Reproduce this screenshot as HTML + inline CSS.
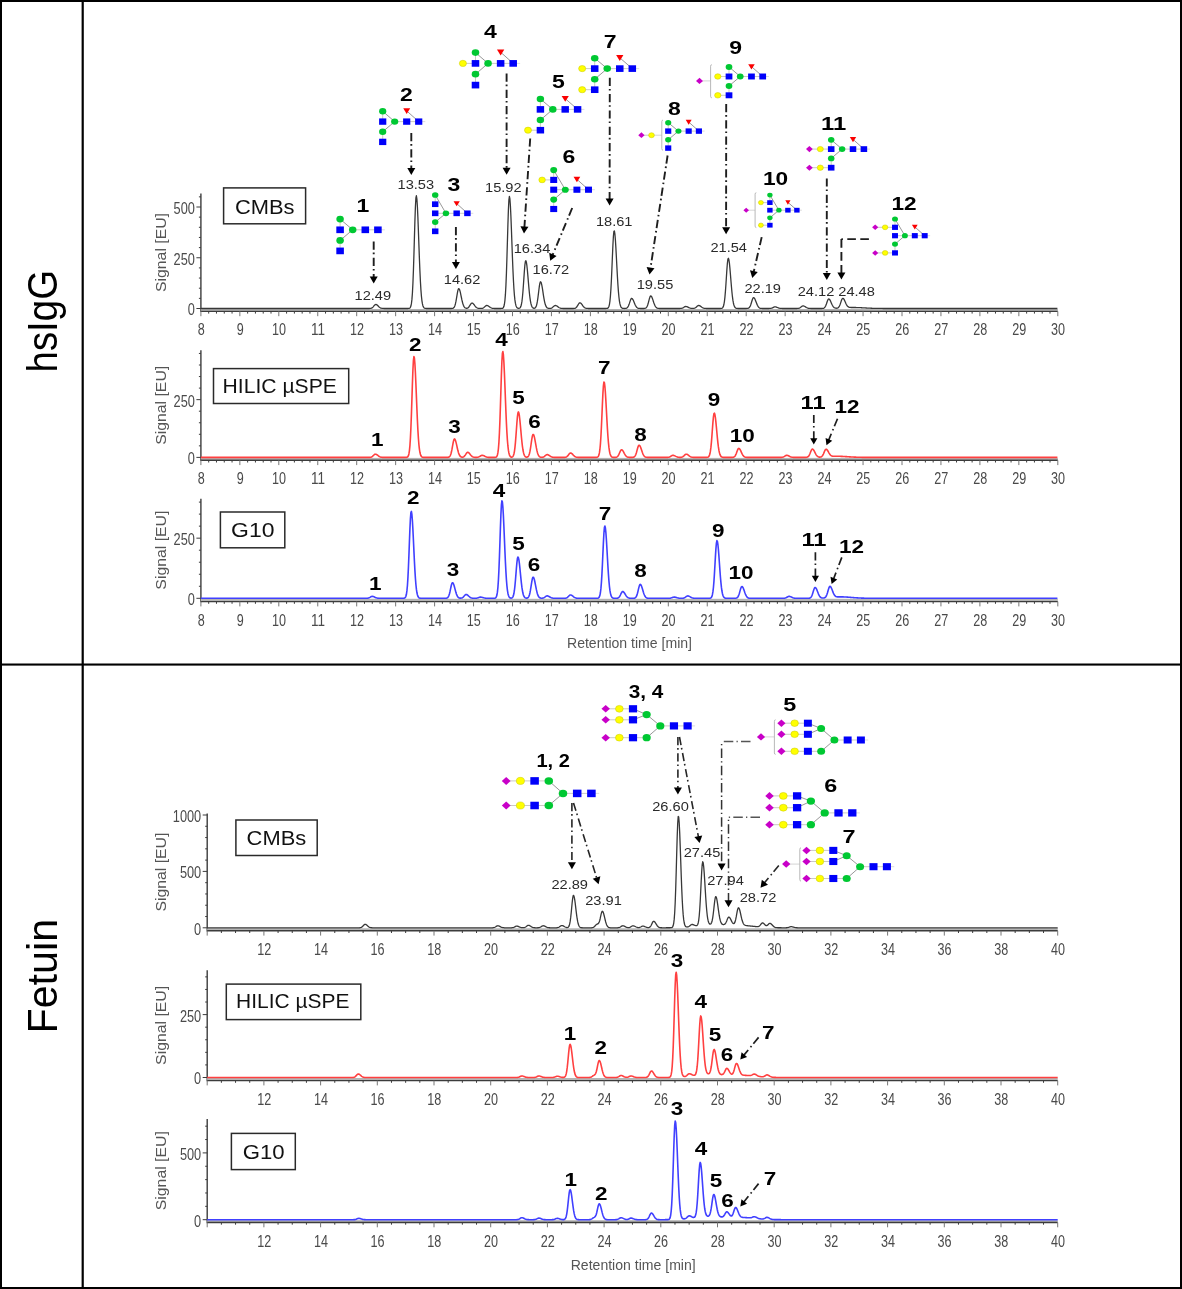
<!DOCTYPE html>
<html><head><meta charset="utf-8"><title>Chromatograms</title>
<style>html,body{margin:0;padding:0;background:#fff;}body{width:1182px;height:1289px;overflow:hidden;font-family:"Liberation Sans",sans-serif;}svg{display:block;filter:blur(0.35px);}</style>
</head><body>
<svg width="1182" height="1289" viewBox="0 0 1182 1289" font-family='"Liberation Sans", sans-serif'>
<rect x="0" y="0" width="1182" height="1289" fill="#fff"/>
<line x1="200.9" y1="193.6" x2="200.9" y2="312.1" stroke="#3c3c3c" stroke-width="1.4"/>
<line x1="196.4" y1="308.5" x2="200.9" y2="308.5" stroke="#3c3c3c" stroke-width="1"/>
<line x1="198.9" y1="298.35" x2="200.9" y2="298.35" stroke="#3c3c3c" stroke-width="1"/>
<line x1="198.9" y1="288.2" x2="200.9" y2="288.2" stroke="#3c3c3c" stroke-width="1"/>
<line x1="198.9" y1="278.05" x2="200.9" y2="278.05" stroke="#3c3c3c" stroke-width="1"/>
<line x1="198.9" y1="267.9" x2="200.9" y2="267.9" stroke="#3c3c3c" stroke-width="1"/>
<line x1="196.4" y1="257.75" x2="200.9" y2="257.75" stroke="#3c3c3c" stroke-width="1"/>
<line x1="198.9" y1="247.6" x2="200.9" y2="247.6" stroke="#3c3c3c" stroke-width="1"/>
<line x1="198.9" y1="237.45" x2="200.9" y2="237.45" stroke="#3c3c3c" stroke-width="1"/>
<line x1="198.9" y1="227.3" x2="200.9" y2="227.3" stroke="#3c3c3c" stroke-width="1"/>
<line x1="198.9" y1="217.15" x2="200.9" y2="217.15" stroke="#3c3c3c" stroke-width="1"/>
<line x1="196.4" y1="207" x2="200.9" y2="207" stroke="#3c3c3c" stroke-width="1"/>
<line x1="198.9" y1="196.85" x2="200.9" y2="196.85" stroke="#3c3c3c" stroke-width="1"/>
<text x="194.9" y="315.4" font-size="16" text-anchor="end" font-weight="normal" fill="#4a4a4a" textLength="7.1" lengthAdjust="spacingAndGlyphs">0</text>
<text x="194.9" y="264.65" font-size="16" text-anchor="end" font-weight="normal" fill="#4a4a4a" textLength="21.3" lengthAdjust="spacingAndGlyphs">250</text>
<text x="194.9" y="213.9" font-size="16" text-anchor="end" font-weight="normal" fill="#4a4a4a" textLength="21.3" lengthAdjust="spacingAndGlyphs">500</text>
<rect x="200.9" y="309" width="856.9" height="1.9" fill="#b4b4b4"/>
<line x1="200.9" y1="311.4" x2="1057.8" y2="311.4" stroke="#3c3c3c" stroke-width="1.4"/>
<line x1="200.9" y1="311.4" x2="200.9" y2="316.2" stroke="#777" stroke-width="1"/>
<text x="201.2" y="335.4" font-size="16" text-anchor="middle" font-weight="normal" fill="#4a4a4a" textLength="7" lengthAdjust="spacingAndGlyphs">8</text>
<line x1="208.69" y1="311.4" x2="208.69" y2="313.6" stroke="#3c3c3c" stroke-width="1"/>
<line x1="216.48" y1="311.4" x2="216.48" y2="313.6" stroke="#3c3c3c" stroke-width="1"/>
<line x1="224.27" y1="311.4" x2="224.27" y2="313.6" stroke="#3c3c3c" stroke-width="1"/>
<line x1="232.06" y1="311.4" x2="232.06" y2="313.6" stroke="#3c3c3c" stroke-width="1"/>
<line x1="239.85" y1="311.4" x2="239.85" y2="316.2" stroke="#777" stroke-width="1"/>
<text x="240.15" y="335.4" font-size="16" text-anchor="middle" font-weight="normal" fill="#4a4a4a" textLength="7" lengthAdjust="spacingAndGlyphs">9</text>
<line x1="247.64" y1="311.4" x2="247.64" y2="313.6" stroke="#3c3c3c" stroke-width="1"/>
<line x1="255.43" y1="311.4" x2="255.43" y2="313.6" stroke="#3c3c3c" stroke-width="1"/>
<line x1="263.22" y1="311.4" x2="263.22" y2="313.6" stroke="#3c3c3c" stroke-width="1"/>
<line x1="271.01" y1="311.4" x2="271.01" y2="313.6" stroke="#3c3c3c" stroke-width="1"/>
<line x1="278.8" y1="311.4" x2="278.8" y2="316.2" stroke="#777" stroke-width="1"/>
<text x="279.1" y="335.4" font-size="16" text-anchor="middle" font-weight="normal" fill="#4a4a4a" textLength="14" lengthAdjust="spacingAndGlyphs">10</text>
<line x1="286.59" y1="311.4" x2="286.59" y2="313.6" stroke="#3c3c3c" stroke-width="1"/>
<line x1="294.38" y1="311.4" x2="294.38" y2="313.6" stroke="#3c3c3c" stroke-width="1"/>
<line x1="302.17" y1="311.4" x2="302.17" y2="313.6" stroke="#3c3c3c" stroke-width="1"/>
<line x1="309.96" y1="311.4" x2="309.96" y2="313.6" stroke="#3c3c3c" stroke-width="1"/>
<line x1="317.75" y1="311.4" x2="317.75" y2="316.2" stroke="#777" stroke-width="1"/>
<text x="318.05" y="335.4" font-size="16" text-anchor="middle" font-weight="normal" fill="#4a4a4a" textLength="14" lengthAdjust="spacingAndGlyphs">11</text>
<line x1="325.54" y1="311.4" x2="325.54" y2="313.6" stroke="#3c3c3c" stroke-width="1"/>
<line x1="333.33" y1="311.4" x2="333.33" y2="313.6" stroke="#3c3c3c" stroke-width="1"/>
<line x1="341.12" y1="311.4" x2="341.12" y2="313.6" stroke="#3c3c3c" stroke-width="1"/>
<line x1="348.91" y1="311.4" x2="348.91" y2="313.6" stroke="#3c3c3c" stroke-width="1"/>
<line x1="356.7" y1="311.4" x2="356.7" y2="316.2" stroke="#777" stroke-width="1"/>
<text x="357" y="335.4" font-size="16" text-anchor="middle" font-weight="normal" fill="#4a4a4a" textLength="14" lengthAdjust="spacingAndGlyphs">12</text>
<line x1="364.49" y1="311.4" x2="364.49" y2="313.6" stroke="#3c3c3c" stroke-width="1"/>
<line x1="372.28" y1="311.4" x2="372.28" y2="313.6" stroke="#3c3c3c" stroke-width="1"/>
<line x1="380.07" y1="311.4" x2="380.07" y2="313.6" stroke="#3c3c3c" stroke-width="1"/>
<line x1="387.86" y1="311.4" x2="387.86" y2="313.6" stroke="#3c3c3c" stroke-width="1"/>
<line x1="395.65" y1="311.4" x2="395.65" y2="316.2" stroke="#777" stroke-width="1"/>
<text x="395.95" y="335.4" font-size="16" text-anchor="middle" font-weight="normal" fill="#4a4a4a" textLength="14" lengthAdjust="spacingAndGlyphs">13</text>
<line x1="403.44" y1="311.4" x2="403.44" y2="313.6" stroke="#3c3c3c" stroke-width="1"/>
<line x1="411.23" y1="311.4" x2="411.23" y2="313.6" stroke="#3c3c3c" stroke-width="1"/>
<line x1="419.02" y1="311.4" x2="419.02" y2="313.6" stroke="#3c3c3c" stroke-width="1"/>
<line x1="426.81" y1="311.4" x2="426.81" y2="313.6" stroke="#3c3c3c" stroke-width="1"/>
<line x1="434.6" y1="311.4" x2="434.6" y2="316.2" stroke="#777" stroke-width="1"/>
<text x="434.9" y="335.4" font-size="16" text-anchor="middle" font-weight="normal" fill="#4a4a4a" textLength="14" lengthAdjust="spacingAndGlyphs">14</text>
<line x1="442.39" y1="311.4" x2="442.39" y2="313.6" stroke="#3c3c3c" stroke-width="1"/>
<line x1="450.18" y1="311.4" x2="450.18" y2="313.6" stroke="#3c3c3c" stroke-width="1"/>
<line x1="457.97" y1="311.4" x2="457.97" y2="313.6" stroke="#3c3c3c" stroke-width="1"/>
<line x1="465.76" y1="311.4" x2="465.76" y2="313.6" stroke="#3c3c3c" stroke-width="1"/>
<line x1="473.55" y1="311.4" x2="473.55" y2="316.2" stroke="#777" stroke-width="1"/>
<text x="473.85" y="335.4" font-size="16" text-anchor="middle" font-weight="normal" fill="#4a4a4a" textLength="14" lengthAdjust="spacingAndGlyphs">15</text>
<line x1="481.34" y1="311.4" x2="481.34" y2="313.6" stroke="#3c3c3c" stroke-width="1"/>
<line x1="489.13" y1="311.4" x2="489.13" y2="313.6" stroke="#3c3c3c" stroke-width="1"/>
<line x1="496.92" y1="311.4" x2="496.92" y2="313.6" stroke="#3c3c3c" stroke-width="1"/>
<line x1="504.71" y1="311.4" x2="504.71" y2="313.6" stroke="#3c3c3c" stroke-width="1"/>
<line x1="512.5" y1="311.4" x2="512.5" y2="316.2" stroke="#777" stroke-width="1"/>
<text x="512.8" y="335.4" font-size="16" text-anchor="middle" font-weight="normal" fill="#4a4a4a" textLength="14" lengthAdjust="spacingAndGlyphs">16</text>
<line x1="520.29" y1="311.4" x2="520.29" y2="313.6" stroke="#3c3c3c" stroke-width="1"/>
<line x1="528.08" y1="311.4" x2="528.08" y2="313.6" stroke="#3c3c3c" stroke-width="1"/>
<line x1="535.87" y1="311.4" x2="535.87" y2="313.6" stroke="#3c3c3c" stroke-width="1"/>
<line x1="543.66" y1="311.4" x2="543.66" y2="313.6" stroke="#3c3c3c" stroke-width="1"/>
<line x1="551.45" y1="311.4" x2="551.45" y2="316.2" stroke="#777" stroke-width="1"/>
<text x="551.75" y="335.4" font-size="16" text-anchor="middle" font-weight="normal" fill="#4a4a4a" textLength="14" lengthAdjust="spacingAndGlyphs">17</text>
<line x1="559.24" y1="311.4" x2="559.24" y2="313.6" stroke="#3c3c3c" stroke-width="1"/>
<line x1="567.03" y1="311.4" x2="567.03" y2="313.6" stroke="#3c3c3c" stroke-width="1"/>
<line x1="574.82" y1="311.4" x2="574.82" y2="313.6" stroke="#3c3c3c" stroke-width="1"/>
<line x1="582.61" y1="311.4" x2="582.61" y2="313.6" stroke="#3c3c3c" stroke-width="1"/>
<line x1="590.4" y1="311.4" x2="590.4" y2="316.2" stroke="#777" stroke-width="1"/>
<text x="590.7" y="335.4" font-size="16" text-anchor="middle" font-weight="normal" fill="#4a4a4a" textLength="14" lengthAdjust="spacingAndGlyphs">18</text>
<line x1="598.19" y1="311.4" x2="598.19" y2="313.6" stroke="#3c3c3c" stroke-width="1"/>
<line x1="605.98" y1="311.4" x2="605.98" y2="313.6" stroke="#3c3c3c" stroke-width="1"/>
<line x1="613.77" y1="311.4" x2="613.77" y2="313.6" stroke="#3c3c3c" stroke-width="1"/>
<line x1="621.56" y1="311.4" x2="621.56" y2="313.6" stroke="#3c3c3c" stroke-width="1"/>
<line x1="629.35" y1="311.4" x2="629.35" y2="316.2" stroke="#777" stroke-width="1"/>
<text x="629.65" y="335.4" font-size="16" text-anchor="middle" font-weight="normal" fill="#4a4a4a" textLength="14" lengthAdjust="spacingAndGlyphs">19</text>
<line x1="637.14" y1="311.4" x2="637.14" y2="313.6" stroke="#3c3c3c" stroke-width="1"/>
<line x1="644.93" y1="311.4" x2="644.93" y2="313.6" stroke="#3c3c3c" stroke-width="1"/>
<line x1="652.72" y1="311.4" x2="652.72" y2="313.6" stroke="#3c3c3c" stroke-width="1"/>
<line x1="660.51" y1="311.4" x2="660.51" y2="313.6" stroke="#3c3c3c" stroke-width="1"/>
<line x1="668.3" y1="311.4" x2="668.3" y2="316.2" stroke="#777" stroke-width="1"/>
<text x="668.6" y="335.4" font-size="16" text-anchor="middle" font-weight="normal" fill="#4a4a4a" textLength="14" lengthAdjust="spacingAndGlyphs">20</text>
<line x1="676.09" y1="311.4" x2="676.09" y2="313.6" stroke="#3c3c3c" stroke-width="1"/>
<line x1="683.88" y1="311.4" x2="683.88" y2="313.6" stroke="#3c3c3c" stroke-width="1"/>
<line x1="691.67" y1="311.4" x2="691.67" y2="313.6" stroke="#3c3c3c" stroke-width="1"/>
<line x1="699.46" y1="311.4" x2="699.46" y2="313.6" stroke="#3c3c3c" stroke-width="1"/>
<line x1="707.25" y1="311.4" x2="707.25" y2="316.2" stroke="#777" stroke-width="1"/>
<text x="707.55" y="335.4" font-size="16" text-anchor="middle" font-weight="normal" fill="#4a4a4a" textLength="14" lengthAdjust="spacingAndGlyphs">21</text>
<line x1="715.04" y1="311.4" x2="715.04" y2="313.6" stroke="#3c3c3c" stroke-width="1"/>
<line x1="722.83" y1="311.4" x2="722.83" y2="313.6" stroke="#3c3c3c" stroke-width="1"/>
<line x1="730.62" y1="311.4" x2="730.62" y2="313.6" stroke="#3c3c3c" stroke-width="1"/>
<line x1="738.41" y1="311.4" x2="738.41" y2="313.6" stroke="#3c3c3c" stroke-width="1"/>
<line x1="746.2" y1="311.4" x2="746.2" y2="316.2" stroke="#777" stroke-width="1"/>
<text x="746.5" y="335.4" font-size="16" text-anchor="middle" font-weight="normal" fill="#4a4a4a" textLength="14" lengthAdjust="spacingAndGlyphs">22</text>
<line x1="753.99" y1="311.4" x2="753.99" y2="313.6" stroke="#3c3c3c" stroke-width="1"/>
<line x1="761.78" y1="311.4" x2="761.78" y2="313.6" stroke="#3c3c3c" stroke-width="1"/>
<line x1="769.57" y1="311.4" x2="769.57" y2="313.6" stroke="#3c3c3c" stroke-width="1"/>
<line x1="777.36" y1="311.4" x2="777.36" y2="313.6" stroke="#3c3c3c" stroke-width="1"/>
<line x1="785.15" y1="311.4" x2="785.15" y2="316.2" stroke="#777" stroke-width="1"/>
<text x="785.45" y="335.4" font-size="16" text-anchor="middle" font-weight="normal" fill="#4a4a4a" textLength="14" lengthAdjust="spacingAndGlyphs">23</text>
<line x1="792.94" y1="311.4" x2="792.94" y2="313.6" stroke="#3c3c3c" stroke-width="1"/>
<line x1="800.73" y1="311.4" x2="800.73" y2="313.6" stroke="#3c3c3c" stroke-width="1"/>
<line x1="808.52" y1="311.4" x2="808.52" y2="313.6" stroke="#3c3c3c" stroke-width="1"/>
<line x1="816.31" y1="311.4" x2="816.31" y2="313.6" stroke="#3c3c3c" stroke-width="1"/>
<line x1="824.1" y1="311.4" x2="824.1" y2="316.2" stroke="#777" stroke-width="1"/>
<text x="824.4" y="335.4" font-size="16" text-anchor="middle" font-weight="normal" fill="#4a4a4a" textLength="14" lengthAdjust="spacingAndGlyphs">24</text>
<line x1="831.89" y1="311.4" x2="831.89" y2="313.6" stroke="#3c3c3c" stroke-width="1"/>
<line x1="839.68" y1="311.4" x2="839.68" y2="313.6" stroke="#3c3c3c" stroke-width="1"/>
<line x1="847.47" y1="311.4" x2="847.47" y2="313.6" stroke="#3c3c3c" stroke-width="1"/>
<line x1="855.26" y1="311.4" x2="855.26" y2="313.6" stroke="#3c3c3c" stroke-width="1"/>
<line x1="863.05" y1="311.4" x2="863.05" y2="316.2" stroke="#777" stroke-width="1"/>
<text x="863.35" y="335.4" font-size="16" text-anchor="middle" font-weight="normal" fill="#4a4a4a" textLength="14" lengthAdjust="spacingAndGlyphs">25</text>
<line x1="870.84" y1="311.4" x2="870.84" y2="313.6" stroke="#3c3c3c" stroke-width="1"/>
<line x1="878.63" y1="311.4" x2="878.63" y2="313.6" stroke="#3c3c3c" stroke-width="1"/>
<line x1="886.42" y1="311.4" x2="886.42" y2="313.6" stroke="#3c3c3c" stroke-width="1"/>
<line x1="894.21" y1="311.4" x2="894.21" y2="313.6" stroke="#3c3c3c" stroke-width="1"/>
<line x1="902" y1="311.4" x2="902" y2="316.2" stroke="#777" stroke-width="1"/>
<text x="902.3" y="335.4" font-size="16" text-anchor="middle" font-weight="normal" fill="#4a4a4a" textLength="14" lengthAdjust="spacingAndGlyphs">26</text>
<line x1="909.79" y1="311.4" x2="909.79" y2="313.6" stroke="#3c3c3c" stroke-width="1"/>
<line x1="917.58" y1="311.4" x2="917.58" y2="313.6" stroke="#3c3c3c" stroke-width="1"/>
<line x1="925.37" y1="311.4" x2="925.37" y2="313.6" stroke="#3c3c3c" stroke-width="1"/>
<line x1="933.16" y1="311.4" x2="933.16" y2="313.6" stroke="#3c3c3c" stroke-width="1"/>
<line x1="940.95" y1="311.4" x2="940.95" y2="316.2" stroke="#777" stroke-width="1"/>
<text x="941.25" y="335.4" font-size="16" text-anchor="middle" font-weight="normal" fill="#4a4a4a" textLength="14" lengthAdjust="spacingAndGlyphs">27</text>
<line x1="948.74" y1="311.4" x2="948.74" y2="313.6" stroke="#3c3c3c" stroke-width="1"/>
<line x1="956.53" y1="311.4" x2="956.53" y2="313.6" stroke="#3c3c3c" stroke-width="1"/>
<line x1="964.32" y1="311.4" x2="964.32" y2="313.6" stroke="#3c3c3c" stroke-width="1"/>
<line x1="972.11" y1="311.4" x2="972.11" y2="313.6" stroke="#3c3c3c" stroke-width="1"/>
<line x1="979.9" y1="311.4" x2="979.9" y2="316.2" stroke="#777" stroke-width="1"/>
<text x="980.2" y="335.4" font-size="16" text-anchor="middle" font-weight="normal" fill="#4a4a4a" textLength="14" lengthAdjust="spacingAndGlyphs">28</text>
<line x1="987.69" y1="311.4" x2="987.69" y2="313.6" stroke="#3c3c3c" stroke-width="1"/>
<line x1="995.48" y1="311.4" x2="995.48" y2="313.6" stroke="#3c3c3c" stroke-width="1"/>
<line x1="1003.27" y1="311.4" x2="1003.27" y2="313.6" stroke="#3c3c3c" stroke-width="1"/>
<line x1="1011.06" y1="311.4" x2="1011.06" y2="313.6" stroke="#3c3c3c" stroke-width="1"/>
<line x1="1018.85" y1="311.4" x2="1018.85" y2="316.2" stroke="#777" stroke-width="1"/>
<text x="1019.15" y="335.4" font-size="16" text-anchor="middle" font-weight="normal" fill="#4a4a4a" textLength="14" lengthAdjust="spacingAndGlyphs">29</text>
<line x1="1026.64" y1="311.4" x2="1026.64" y2="313.6" stroke="#3c3c3c" stroke-width="1"/>
<line x1="1034.43" y1="311.4" x2="1034.43" y2="313.6" stroke="#3c3c3c" stroke-width="1"/>
<line x1="1042.22" y1="311.4" x2="1042.22" y2="313.6" stroke="#3c3c3c" stroke-width="1"/>
<line x1="1050.01" y1="311.4" x2="1050.01" y2="313.6" stroke="#3c3c3c" stroke-width="1"/>
<line x1="1057.8" y1="311.4" x2="1057.8" y2="316.2" stroke="#777" stroke-width="1"/>
<text x="1058.1" y="335.4" font-size="16" text-anchor="middle" font-weight="normal" fill="#4a4a4a" textLength="14" lengthAdjust="spacingAndGlyphs">30</text>
<text transform="translate(166.2,252.5) rotate(-90)" font-size="15.5" text-anchor="middle" fill="#555" textLength="79" lengthAdjust="spacingAndGlyphs">Signal [EU]</text>
<polyline fill="none" stroke="#383838" stroke-width="1.3" stroke-linejoin="round" points="200.9,308.5 201.4,308.5 201.9,308.5 202.4,308.5 202.9,308.5 203.4,308.5 203.9,308.5 204.4,308.5 204.9,308.5 205.4,308.5 205.9,308.5 206.4,308.5 206.9,308.5 207.4,308.5 207.9,308.5 208.4,308.5 208.9,308.5 209.4,308.5 209.9,308.5 210.4,308.5 210.9,308.5 211.4,308.5 211.9,308.5 212.4,308.5 212.9,308.5 213.4,308.5 213.9,308.5 214.4,308.5 214.9,308.5 215.4,308.5 215.9,308.5 216.4,308.5 216.9,308.5 217.4,308.5 217.9,308.5 218.4,308.5 218.9,308.5 219.4,308.5 219.9,308.5 220.4,308.5 220.9,308.5 221.4,308.5 221.9,308.5 222.4,308.5 222.9,308.5 223.4,308.5 223.9,308.5 224.4,308.5 224.9,308.5 225.4,308.5 225.9,308.5 226.4,308.5 226.9,308.5 227.4,308.5 227.9,308.5 228.4,308.5 228.9,308.5 229.4,308.5 229.9,308.5 230.4,308.5 230.9,308.5 231.4,308.5 231.9,308.5 232.4,308.5 232.9,308.5 233.4,308.5 233.9,308.5 234.4,308.5 234.9,308.5 235.4,308.5 235.9,308.5 236.4,308.5 236.9,308.5 237.4,308.5 237.9,308.5 238.4,308.5 238.9,308.5 239.4,308.5 239.9,308.5 240.4,308.5 240.9,308.5 241.4,308.5 241.9,308.5 242.4,308.5 242.9,308.5 243.4,308.5 243.9,308.5 244.4,308.5 244.9,308.5 245.4,308.5 245.9,308.5 246.4,308.5 246.9,308.5 247.4,308.5 247.9,308.5 248.4,308.5 248.9,308.5 249.4,308.5 249.9,308.5 250.4,308.5 250.9,308.5 251.4,308.5 251.9,308.5 252.4,308.5 252.9,308.5 253.4,308.5 253.9,308.5 254.4,308.5 254.9,308.5 255.4,308.5 255.9,308.5 256.4,308.5 256.9,308.5 257.4,308.5 257.9,308.5 258.4,308.5 258.9,308.5 259.4,308.5 259.9,308.5 260.4,308.5 260.9,308.5 261.4,308.5 261.9,308.5 262.4,308.5 262.9,308.5 263.4,308.5 263.9,308.5 264.4,308.5 264.9,308.5 265.4,308.5 265.9,308.5 266.4,308.5 266.9,308.5 267.4,308.5 267.9,308.5 268.4,308.5 268.9,308.5 269.4,308.5 269.9,308.5 270.4,308.5 270.9,308.5 271.4,308.5 271.9,308.5 272.4,308.5 272.9,308.5 273.4,308.5 273.9,308.5 274.4,308.5 274.9,308.5 275.4,308.5 275.9,308.5 276.4,308.5 276.9,308.5 277.4,308.5 277.9,308.5 278.4,308.5 278.9,308.5 279.4,308.5 279.9,308.5 280.4,308.5 280.9,308.5 281.4,308.5 281.9,308.5 282.4,308.5 282.9,308.5 283.4,308.5 283.9,308.5 284.4,308.5 284.9,308.5 285.4,308.5 285.9,308.5 286.4,308.5 286.9,308.5 287.4,308.5 287.9,308.5 288.4,308.5 288.9,308.5 289.4,308.5 289.9,308.5 290.4,308.5 290.9,308.5 291.4,308.5 291.9,308.5 292.4,308.5 292.9,308.5 293.4,308.5 293.9,308.5 294.4,308.5 294.9,308.5 295.4,308.5 295.9,308.5 296.4,308.5 296.9,308.5 297.4,308.5 297.9,308.5 298.4,308.5 298.9,308.5 299.4,308.5 299.9,308.5 300.4,308.5 300.9,308.5 301.4,308.5 301.9,308.5 302.4,308.5 302.9,308.5 303.4,308.5 303.9,308.5 304.4,308.5 304.9,308.5 305.4,308.5 305.9,308.5 306.4,308.5 306.9,308.5 307.4,308.5 307.9,308.5 308.4,308.5 308.9,308.5 309.4,308.5 309.9,308.5 310.4,308.5 310.9,308.5 311.4,308.5 311.9,308.5 312.4,308.5 312.9,308.5 313.4,308.5 313.9,308.5 314.4,308.5 314.9,308.5 315.4,308.5 315.9,308.5 316.4,308.5 316.9,308.5 317.4,308.5 317.9,308.5 318.4,308.5 318.9,308.5 319.4,308.5 319.9,308.5 320.4,308.5 320.9,308.5 321.4,308.5 321.9,308.5 322.4,308.5 322.9,308.5 323.4,308.5 323.9,308.5 324.4,308.5 324.9,308.5 325.4,308.5 325.9,308.5 326.4,308.5 326.9,308.5 327.4,308.5 327.9,308.5 328.4,308.5 328.9,308.5 329.4,308.5 329.9,308.5 330.4,308.5 330.9,308.5 331.4,308.5 331.9,308.5 332.4,308.5 332.9,308.5 333.4,308.5 333.9,308.5 334.4,308.5 334.9,308.5 335.4,308.5 335.9,308.5 336.4,308.5 336.9,308.5 337.4,308.5 337.9,308.5 338.4,308.5 338.9,308.5 339.4,308.5 339.9,308.5 340.4,308.5 340.9,308.5 341.4,308.5 341.9,308.5 342.4,308.5 342.9,308.5 343.4,308.5 343.9,308.5 344.4,308.5 344.9,308.5 345.4,308.5 345.9,308.5 346.4,308.5 346.9,308.5 347.4,308.5 347.9,308.5 348.4,308.5 348.9,308.5 349.4,308.5 349.9,308.5 350.4,308.5 350.9,308.5 351.4,308.5 351.9,308.5 352.4,308.5 352.9,308.5 353.4,308.5 353.9,308.5 354.4,308.5 354.9,308.5 355.4,308.5 355.9,308.5 356.4,308.5 356.9,308.5 357.4,308.5 357.9,308.5 358.4,308.5 358.9,308.5 359.4,308.5 359.9,308.5 360.4,308.5 360.9,308.5 361.4,308.5 361.9,308.5 362.4,308.5 362.9,308.5 363.4,308.5 363.9,308.5 364.4,308.5 364.9,308.5 365.4,308.5 365.9,308.5 366.4,308.5 366.9,308.5 367.4,308.5 367.9,308.5 368.4,308.5 368.9,308.49 369.4,308.48 369.9,308.46 370.4,308.41 370.9,308.33 371.4,308.18 371.9,307.95 372.4,307.6 372.9,307.15 373.4,306.58 373.9,305.96 374.4,305.35 374.9,304.84 375.4,304.52 375.9,304.44 376.4,304.57 376.9,304.84 377.4,305.24 377.9,305.72 378.4,306.22 378.9,306.71 379.4,307.15 379.9,307.53 380.4,307.83 380.9,308.05 381.4,308.22 381.9,308.33 382.4,308.4 382.9,308.44 383.4,308.47 383.9,308.48 384.4,308.49 384.9,308.5 385.4,308.5 385.9,308.5 386.4,308.5 386.9,308.5 387.4,308.5 387.9,308.5 388.4,308.5 388.9,308.5 389.4,308.5 389.9,308.5 390.4,308.5 390.9,308.5 391.4,308.5 391.9,308.5 392.4,308.5 392.9,308.5 393.4,308.5 393.9,308.5 394.4,308.5 394.9,308.5 395.4,308.5 395.9,308.5 396.4,308.5 396.9,308.5 397.4,308.5 397.9,308.5 398.4,308.5 398.9,308.5 399.4,308.5 399.9,308.5 400.4,308.5 400.9,308.5 401.4,308.5 401.9,308.5 402.4,308.5 402.9,308.5 403.4,308.5 403.9,308.5 404.4,308.5 404.9,308.5 405.4,308.5 405.9,308.5 406.4,308.5 406.9,308.5 407.4,308.5 407.9,308.49 408.4,308.47 408.9,308.42 409.4,308.29 409.9,307.98 410.4,307.34 410.9,306.06 411.4,303.7 411.9,299.64 412.4,293.2 412.9,283.77 413.4,271.07 413.9,255.46 414.4,238.14 414.9,221.12 415.4,206.91 415.9,197.91 416.4,195.74 416.9,199.08 417.4,206.71 417.9,217.72 418.4,230.88 418.9,244.87 419.4,258.5 419.9,270.83 420.4,281.29 420.9,289.66 421.4,296 421.9,300.54 422.4,303.64 422.9,305.66 423.4,306.91 423.9,307.64 424.4,308.06 424.9,308.28 425.4,308.4 425.9,308.45 426.4,308.48 426.9,308.49 427.4,308.5 427.9,308.5 428.4,308.5 428.9,308.5 429.4,308.5 429.9,308.5 430.4,308.5 430.9,308.5 431.4,308.5 431.9,308.5 432.4,308.5 432.9,308.5 433.4,308.5 433.9,308.5 434.4,308.5 434.9,308.5 435.4,308.5 435.9,308.5 436.4,308.5 436.9,308.5 437.4,308.5 437.9,308.5 438.4,308.5 438.9,308.5 439.4,308.5 439.9,308.5 440.4,308.5 440.9,308.5 441.4,308.5 441.9,308.5 442.4,308.5 442.9,308.5 443.4,308.5 443.9,308.5 444.4,308.5 444.9,308.5 445.4,308.5 445.9,308.5 446.4,308.5 446.9,308.5 447.4,308.5 447.9,308.5 448.4,308.5 448.9,308.5 449.4,308.5 449.9,308.5 450.4,308.5 450.9,308.49 451.4,308.48 451.9,308.46 452.4,308.4 452.9,308.28 453.4,308.04 453.9,307.6 454.4,306.86 454.9,305.68 455.4,303.96 455.9,301.68 456.4,298.89 456.9,295.82 457.4,292.85 457.9,290.41 458.4,288.92 458.9,288.64 459.4,289.3 459.9,290.71 460.4,292.69 460.9,295.04 461.4,297.5 461.9,299.89 462.4,302.04 462.9,303.85 463.4,305.29 463.9,306.38 464.4,307.15 464.9,307.68 465.4,308.01 465.9,308.19 466.4,308.27 466.9,308.25 467.4,308.12 467.9,307.88 468.4,307.49 468.9,306.94 469.4,306.24 469.9,305.42 470.4,304.58 470.9,303.82 471.4,303.27 471.9,303.03 472.4,303.1 472.9,303.39 473.4,303.86 473.9,304.47 474.4,305.14 474.9,305.81 475.4,306.44 475.9,306.99 476.4,307.44 476.9,307.78 477.4,308.04 477.9,308.21 478.4,308.33 478.9,308.4 479.4,308.44 479.9,308.47 480.4,308.47 480.9,308.46 481.4,308.43 481.9,308.37 482.4,308.26 482.9,308.09 483.4,307.83 483.9,307.49 484.4,307.07 484.9,306.6 485.4,306.14 485.9,305.76 486.4,305.52 486.9,305.46 487.4,305.55 487.9,305.75 488.4,306.05 488.9,306.41 489.4,306.78 489.9,307.15 490.4,307.48 490.9,307.77 491.4,307.99 491.9,308.16 492.4,308.29 492.9,308.37 493.4,308.42 493.9,308.46 494.4,308.48 494.9,308.49 495.4,308.49 495.9,308.5 496.4,308.5 496.9,308.5 497.4,308.5 497.9,308.5 498.4,308.5 498.9,308.5 499.4,308.5 499.9,308.5 500.4,308.5 500.9,308.49 501.4,308.47 501.9,308.43 502.4,308.32 502.9,308.06 503.4,307.5 503.9,306.37 504.4,304.26 504.9,300.59 505.4,294.67 505.9,285.88 506.4,273.86 506.9,258.82 507.4,241.81 507.9,224.68 508.4,209.87 508.9,199.85 509.4,196.45 509.9,198.93 510.4,205.79 510.9,216.2 511.4,228.97 511.9,242.81 512.4,256.48 512.9,269.01 513.4,279.76 513.9,288.45 514.4,295.09 514.9,299.9 515.4,303.21 515.9,305.38 516.4,306.74 516.9,307.54 517.4,308 517.9,308.24 518.4,308.34 518.9,308.35 519.4,308.24 519.9,307.96 520.4,307.38 520.9,306.32 521.4,304.51 521.9,301.66 522.4,297.52 522.9,291.99 523.4,285.27 523.9,277.88 524.4,270.73 524.9,264.88 525.4,261.33 525.9,260.69 526.4,262.31 526.9,265.71 527.4,270.5 527.9,276.15 528.4,282.09 528.9,287.84 529.4,293 529.9,297.35 530.4,300.81 530.9,303.42 531.4,305.28 531.9,306.54 532.4,307.36 532.9,307.85 533.4,308.13 533.9,308.25 534.4,308.23 534.9,308.06 535.4,307.66 535.9,306.93 536.4,305.71 536.9,303.84 537.4,301.22 537.9,297.84 538.4,293.88 538.9,289.74 539.4,285.95 539.9,283.13 540.4,281.78 540.9,281.99 541.4,283.31 541.9,285.55 542.4,288.46 542.9,291.72 543.4,295.04 543.9,298.14 544.4,300.86 544.9,303.09 545.4,304.84 545.9,306.12 546.4,307.02 546.9,307.61 547.4,307.99 547.9,308.22 548.4,308.35 548.9,308.41 549.4,308.44 549.9,308.42 550.4,308.37 550.9,308.27 551.4,308.11 551.9,307.86 552.4,307.53 552.9,307.12 553.4,306.65 553.9,306.19 554.4,305.79 554.9,305.53 555.4,305.46 555.9,305.53 556.4,305.73 556.9,306.02 557.4,306.37 557.9,306.74 558.4,307.11 558.9,307.45 559.4,307.74 559.9,307.97 560.4,308.15 560.9,308.27 561.4,308.36 561.9,308.42 562.4,308.45 562.9,308.48 563.4,308.49 563.9,308.49 564.4,308.5 564.9,308.5 565.4,308.5 565.9,308.5 566.4,308.5 566.9,308.5 567.4,308.5 567.9,308.5 568.4,308.5 568.9,308.5 569.4,308.5 569.9,308.5 570.4,308.5 570.9,308.5 571.4,308.5 571.9,308.5 572.4,308.5 572.9,308.49 573.4,308.48 573.9,308.45 574.4,308.39 574.9,308.28 575.4,308.1 575.9,307.8 576.4,307.35 576.9,306.74 577.4,305.98 577.9,305.12 578.4,304.25 578.9,303.5 579.4,302.99 579.9,302.82 580.4,302.94 580.9,303.29 581.4,303.82 581.9,304.47 582.4,305.17 582.9,305.86 583.4,306.5 583.9,307.04 584.4,307.48 584.9,307.82 585.4,308.06 585.9,308.23 586.4,308.34 586.9,308.41 587.4,308.45 587.9,308.47 588.4,308.49 588.9,308.49 589.4,308.5 589.9,308.5 590.4,308.5 590.9,308.5 591.4,308.5 591.9,308.5 592.4,308.5 592.9,308.5 593.4,308.5 593.9,308.5 594.4,308.5 594.9,308.5 595.4,308.5 595.9,308.5 596.4,308.5 596.9,308.5 597.4,308.5 597.9,308.5 598.4,308.5 598.9,308.5 599.4,308.5 599.9,308.5 600.4,308.5 600.9,308.5 601.4,308.5 601.9,308.5 602.4,308.5 602.9,308.5 603.4,308.5 603.9,308.5 604.4,308.5 604.9,308.5 605.4,308.5 605.9,308.49 606.4,308.47 606.9,308.43 607.4,308.31 607.9,308.05 608.4,307.52 608.9,306.47 609.4,304.57 609.9,301.37 610.4,296.4 610.9,289.29 611.4,279.93 611.9,268.73 612.4,256.67 612.9,245.26 613.4,236.26 613.9,231.24 614.4,230.93 614.9,234.07 615.4,240.04 615.9,248.13 616.4,257.46 616.9,267.13 617.4,276.36 617.9,284.56 618.4,291.4 618.9,296.79 619.4,300.82 619.9,303.67 620.4,305.58 620.9,306.81 621.4,307.56 621.9,308 622.4,308.25 622.9,308.38 623.4,308.44 623.9,308.47 624.4,308.48 624.9,308.47 625.4,308.44 625.9,308.38 626.4,308.25 626.9,308.01 627.4,307.6 627.9,306.97 628.4,306.06 628.9,304.85 629.4,303.41 629.9,301.84 630.4,300.34 630.9,299.15 631.4,298.46 631.9,298.39 632.4,298.78 632.9,299.53 633.4,300.58 633.9,301.79 634.4,303.05 634.9,304.25 635.4,305.33 635.9,306.23 636.4,306.94 636.9,307.48 637.4,307.85 637.9,308.11 638.4,308.27 638.9,308.37 639.4,308.43 639.9,308.47 640.4,308.48 640.9,308.49 641.4,308.5 641.9,308.5 642.4,308.5 642.9,308.5 643.4,308.49 643.9,308.48 644.4,308.44 644.9,308.37 645.4,308.22 645.9,307.95 646.4,307.49 646.9,306.76 647.4,305.69 647.9,304.26 648.4,302.51 648.9,300.57 649.4,298.68 649.9,297.12 650.4,296.14 650.9,295.93 651.4,296.33 651.9,297.19 652.4,298.43 652.9,299.91 653.4,301.47 653.9,302.99 654.4,304.35 654.9,305.51 655.4,306.43 655.9,307.13 656.4,307.63 656.9,307.97 657.4,308.19 657.9,308.33 658.4,308.41 658.9,308.45 659.4,308.48 659.9,308.49 660.4,308.49 660.9,308.5 661.4,308.5 661.9,308.5 662.4,308.5 662.9,308.5 663.4,308.5 663.9,308.5 664.4,308.5 664.9,308.5 665.4,308.5 665.9,308.5 666.4,308.5 666.9,308.5 667.4,308.5 667.9,308.5 668.4,308.5 668.9,308.5 669.4,308.5 669.9,308.5 670.4,308.5 670.9,308.5 671.4,308.5 671.9,308.5 672.4,308.5 672.9,308.5 673.4,308.5 673.9,308.5 674.4,308.5 674.9,308.5 675.4,308.5 675.9,308.5 676.4,308.5 676.9,308.5 677.4,308.5 677.9,308.5 678.4,308.5 678.9,308.5 679.4,308.49 679.9,308.48 680.4,308.46 680.9,308.42 681.4,308.35 681.9,308.23 682.4,308.07 682.9,307.84 683.4,307.57 683.9,307.26 684.4,306.95 684.9,306.69 685.4,306.52 685.9,306.47 686.4,306.53 686.9,306.66 687.4,306.85 687.9,307.09 688.4,307.34 688.9,307.58 689.4,307.81 689.9,308 690.4,308.15 690.9,308.27 691.4,308.35 691.9,308.4 692.4,308.43 692.9,308.43 693.4,308.41 693.9,308.34 694.4,308.22 694.9,308.04 695.4,307.76 695.9,307.4 696.4,306.97 696.9,306.5 697.4,306.05 697.9,305.69 698.4,305.49 698.9,305.47 699.4,305.58 699.9,305.81 700.4,306.13 700.9,306.49 701.4,306.87 701.9,307.23 702.4,307.55 702.9,307.82 703.4,308.03 703.9,308.19 704.4,308.31 704.9,308.38 705.4,308.43 705.9,308.46 706.4,308.48 706.9,308.49 707.4,308.5 707.9,308.5 708.4,308.5 708.9,308.5 709.4,308.5 709.9,308.5 710.4,308.5 710.9,308.5 711.4,308.5 711.9,308.5 712.4,308.5 712.9,308.5 713.4,308.5 713.9,308.5 714.4,308.5 714.9,308.5 715.4,308.5 715.9,308.5 716.4,308.5 716.9,308.5 717.4,308.5 717.9,308.5 718.4,308.5 718.9,308.5 719.4,308.5 719.9,308.5 720.4,308.49 720.9,308.46 721.4,308.4 721.9,308.27 722.4,307.97 722.9,307.4 723.4,306.33 723.9,304.5 724.4,301.6 724.9,297.36 725.4,291.67 725.9,284.69 726.4,276.95 726.9,269.38 727.4,263.07 727.9,259.12 728.4,258.21 728.9,259.75 729.4,263.19 729.9,268.12 730.4,274.01 730.9,280.25 731.4,286.32 731.9,291.81 732.4,296.45 732.9,300.17 733.4,302.97 733.9,304.99 734.4,306.36 734.9,307.25 735.4,307.8 735.9,308.12 736.4,308.31 736.9,308.4 737.4,308.45 737.9,308.48 738.4,308.49 738.9,308.5 739.4,308.5 739.9,308.5 740.4,308.5 740.9,308.5 741.4,308.5 741.9,308.5 742.4,308.5 742.9,308.5 743.4,308.5 743.9,308.5 744.4,308.5 744.9,308.5 745.4,308.5 745.9,308.5 746.4,308.49 746.9,308.47 747.4,308.43 747.9,308.35 748.4,308.19 748.9,307.9 749.4,307.43 749.9,306.7 750.4,305.66 750.9,304.31 751.4,302.71 751.9,301.01 752.4,299.43 752.9,298.22 753.4,297.6 753.9,297.62 754.4,298.11 754.9,298.99 755.4,300.16 755.9,301.48 756.4,302.84 756.9,304.12 757.4,305.26 757.9,306.2 758.4,306.93 758.9,307.47 759.4,307.86 759.9,308.11 760.4,308.28 760.9,308.38 761.4,308.44 761.9,308.47 762.4,308.48 762.9,308.49 763.4,308.5 763.9,308.5 764.4,308.5 764.9,308.5 765.4,308.5 765.9,308.5 766.4,308.5 766.9,308.5 767.4,308.5 767.9,308.5 768.4,308.49 768.9,308.49 769.4,308.47 769.9,308.45 770.4,308.4 770.9,308.33 771.4,308.21 771.9,308.05 772.4,307.84 772.9,307.6 773.4,307.35 773.9,307.12 774.4,306.96 774.9,306.88 775.4,306.9 775.9,306.98 776.4,307.12 776.9,307.29 777.4,307.49 777.9,307.69 778.4,307.88 778.9,308.04 779.4,308.18 779.9,308.28 780.4,308.36 780.9,308.41 781.4,308.45 781.9,308.47 782.4,308.48 782.9,308.49 783.4,308.5 783.9,308.5 784.4,308.5 784.9,308.5 785.4,308.5 785.9,308.5 786.4,308.5 786.9,308.5 787.4,308.5 787.9,308.5 788.4,308.5 788.9,308.5 789.4,308.5 789.9,308.5 790.4,308.5 790.9,308.5 791.4,308.5 791.9,308.5 792.4,308.5 792.9,308.5 793.4,308.5 793.9,308.5 794.4,308.5 794.9,308.5 795.4,308.5 795.9,308.5 796.4,308.49 796.9,308.48 797.4,308.46 797.9,308.42 798.4,308.35 798.9,308.23 799.4,308.05 799.9,307.8 800.4,307.47 800.9,307.08 801.4,306.67 801.9,306.29 802.4,306.01 802.9,305.87 803.4,305.89 803.9,306.01 804.4,306.23 804.9,306.51 805.4,306.83 805.9,307.16 806.4,307.47 806.9,307.74 807.4,307.96 807.9,308.13 808.4,308.26 808.9,308.35 809.4,308.41 809.9,308.45 810.4,308.47 810.9,308.49 811.4,308.49 811.9,308.5 812.4,308.5 812.9,308.5 813.4,308.5 813.9,308.5 814.4,308.5 814.9,308.5 815.4,308.5 815.9,308.5 816.4,308.5 816.9,308.5 817.4,308.5 817.9,308.5 818.4,308.5 818.9,308.5 819.4,308.5 819.9,308.5 820.4,308.5 820.9,308.5 821.4,308.49 821.9,308.48 822.4,308.45 822.9,308.4 823.4,308.29 823.9,308.08 824.4,307.73 824.9,307.18 825.4,306.37 825.9,305.28 826.4,303.95 826.9,302.49 827.4,301.05 827.9,299.86 828.4,299.12 828.9,298.95 829.4,299.25 829.9,299.9 830.4,300.84 830.9,301.95 831.4,303.13 831.9,304.27 832.4,305.3 832.9,306.17 833.4,306.86 833.9,307.38 834.4,307.75 834.9,307.99 835.4,308.14 835.9,308.22 836.4,308.24 836.9,308.2 837.4,308.09 837.9,307.88 838.4,307.51 838.9,306.93 839.4,306.1 839.9,304.98 840.4,303.6 840.9,302.08 841.4,300.58 841.9,299.32 842.4,298.5 842.9,298.28 843.4,298.53 843.9,299.15 844.4,300.07 844.9,301.17 845.4,302.34 845.9,303.48 846.4,304.51 846.9,305.38 847.4,306.07 847.9,306.59 848.4,306.95 848.9,307.19 849.4,307.34 849.9,307.42 850.4,307.47 850.9,307.49 851.4,307.49 851.9,307.49 852.4,307.49 852.9,307.48 853.4,307.48 853.9,307.49 854.4,307.49 854.9,307.5 855.4,307.5 855.9,307.51 856.4,307.53 856.9,307.54 857.4,307.56 857.9,307.57 858.4,307.59 858.9,307.61 859.4,307.64 859.9,307.66 860.4,307.68 860.9,307.71 861.4,307.74 861.9,307.76 862.4,307.79 862.9,307.82 863.4,307.85 863.9,307.88 864.4,307.91 864.9,307.93 865.4,307.96 865.9,307.99 866.4,308.02 866.9,308.05 867.4,308.07 867.9,308.1 868.4,308.12 868.9,308.15 869.4,308.17 869.9,308.19 870.4,308.22 870.9,308.24 871.4,308.26 871.9,308.27 872.4,308.29 872.9,308.31 873.4,308.33 873.9,308.34 874.4,308.35 874.9,308.37 875.4,308.38 875.9,308.39 876.4,308.4 876.9,308.41 877.4,308.42 877.9,308.43 878.4,308.43 878.9,308.44 879.4,308.45 879.9,308.45 880.4,308.46 880.9,308.46 881.4,308.47 881.9,308.47 882.4,308.47 882.9,308.48 883.4,308.48 883.9,308.48 884.4,308.48 884.9,308.49 885.4,308.49 885.9,308.49 886.4,308.49 886.9,308.49 887.4,308.49 887.9,308.49 888.4,308.5 888.9,308.5 889.4,308.5 889.9,308.5 890.4,308.5 890.9,308.5 891.4,308.5 891.9,308.5 892.4,308.5 892.9,308.5 893.4,308.5 893.9,308.5 894.4,308.5 894.9,308.5 895.4,308.5 895.9,308.5 896.4,308.5 896.9,308.5 897.4,308.5 897.9,308.5 898.4,308.5 898.9,308.5 899.4,308.5 899.9,308.5 900.4,308.5 900.9,308.5 901.4,308.5 901.9,308.5 902.4,308.5 902.9,308.5 903.4,308.5 903.9,308.5 904.4,308.5 904.9,308.5 905.4,308.5 905.9,308.5 906.4,308.5 906.9,308.5 907.4,308.5 907.9,308.5 908.4,308.5 908.9,308.5 909.4,308.5 909.9,308.5 910.4,308.5 910.9,308.5 911.4,308.5 911.9,308.5 912.4,308.5 912.9,308.5 913.4,308.5 913.9,308.5 914.4,308.5 914.9,308.5 915.4,308.5 915.9,308.5 916.4,308.5 916.9,308.5 917.4,308.5 917.9,308.5 918.4,308.5 918.9,308.5 919.4,308.5 919.9,308.5 920.4,308.5 920.9,308.5 921.4,308.5 921.9,308.5 922.4,308.5 922.9,308.5 923.4,308.5 923.9,308.5 924.4,308.5 924.9,308.5 925.4,308.5 925.9,308.5 926.4,308.5 926.9,308.5 927.4,308.5 927.9,308.5 928.4,308.5 928.9,308.5 929.4,308.5 929.9,308.5 930.4,308.5 930.9,308.5 931.4,308.5 931.9,308.5 932.4,308.5 932.9,308.5 933.4,308.5 933.9,308.5 934.4,308.5 934.9,308.5 935.4,308.5 935.9,308.5 936.4,308.5 936.9,308.5 937.4,308.5 937.9,308.5 938.4,308.5 938.9,308.5 939.4,308.5 939.9,308.5 940.4,308.5 940.9,308.5 941.4,308.5 941.9,308.5 942.4,308.5 942.9,308.5 943.4,308.5 943.9,308.5 944.4,308.5 944.9,308.5 945.4,308.5 945.9,308.5 946.4,308.5 946.9,308.5 947.4,308.5 947.9,308.5 948.4,308.5 948.9,308.5 949.4,308.5 949.9,308.5 950.4,308.5 950.9,308.5 951.4,308.5 951.9,308.5 952.4,308.5 952.9,308.5 953.4,308.5 953.9,308.5 954.4,308.5 954.9,308.5 955.4,308.5 955.9,308.5 956.4,308.5 956.9,308.5 957.4,308.5 957.9,308.5 958.4,308.5 958.9,308.5 959.4,308.5 959.9,308.5 960.4,308.5 960.9,308.5 961.4,308.5 961.9,308.5 962.4,308.5 962.9,308.5 963.4,308.5 963.9,308.5 964.4,308.5 964.9,308.5 965.4,308.5 965.9,308.5 966.4,308.5 966.9,308.5 967.4,308.5 967.9,308.5 968.4,308.5 968.9,308.5 969.4,308.5 969.9,308.5 970.4,308.5 970.9,308.5 971.4,308.5 971.9,308.5 972.4,308.5 972.9,308.5 973.4,308.5 973.9,308.5 974.4,308.5 974.9,308.5 975.4,308.5 975.9,308.5 976.4,308.5 976.9,308.5 977.4,308.5 977.9,308.5 978.4,308.5 978.9,308.5 979.4,308.5 979.9,308.5 980.4,308.5 980.9,308.5 981.4,308.5 981.9,308.5 982.4,308.5 982.9,308.5 983.4,308.5 983.9,308.5 984.4,308.5 984.9,308.5 985.4,308.5 985.9,308.5 986.4,308.5 986.9,308.5 987.4,308.5 987.9,308.5 988.4,308.5 988.9,308.5 989.4,308.5 989.9,308.5 990.4,308.5 990.9,308.5 991.4,308.5 991.9,308.5 992.4,308.5 992.9,308.5 993.4,308.5 993.9,308.5 994.4,308.5 994.9,308.5 995.4,308.5 995.9,308.5 996.4,308.5 996.9,308.5 997.4,308.5 997.9,308.5 998.4,308.5 998.9,308.5 999.4,308.5 999.9,308.5 1000.4,308.5 1000.9,308.5 1001.4,308.5 1001.9,308.5 1002.4,308.5 1002.9,308.5 1003.4,308.5 1003.9,308.5 1004.4,308.5 1004.9,308.5 1005.4,308.5 1005.9,308.5 1006.4,308.5 1006.9,308.5 1007.4,308.5 1007.9,308.5 1008.4,308.5 1008.9,308.5 1009.4,308.5 1009.9,308.5 1010.4,308.5 1010.9,308.5 1011.4,308.5 1011.9,308.5 1012.4,308.5 1012.9,308.5 1013.4,308.5 1013.9,308.5 1014.4,308.5 1014.9,308.5 1015.4,308.5 1015.9,308.5 1016.4,308.5 1016.9,308.5 1017.4,308.5 1017.9,308.5 1018.4,308.5 1018.9,308.5 1019.4,308.5 1019.9,308.5 1020.4,308.5 1020.9,308.5 1021.4,308.5 1021.9,308.5 1022.4,308.5 1022.9,308.5 1023.4,308.5 1023.9,308.5 1024.4,308.5 1024.9,308.5 1025.4,308.5 1025.9,308.5 1026.4,308.5 1026.9,308.5 1027.4,308.5 1027.9,308.5 1028.4,308.5 1028.9,308.5 1029.4,308.5 1029.9,308.5 1030.4,308.5 1030.9,308.5 1031.4,308.5 1031.9,308.5 1032.4,308.5 1032.9,308.5 1033.4,308.5 1033.9,308.5 1034.4,308.5 1034.9,308.5 1035.4,308.5 1035.9,308.5 1036.4,308.5 1036.9,308.5 1037.4,308.5 1037.9,308.5 1038.4,308.5 1038.9,308.5 1039.4,308.5 1039.9,308.5 1040.4,308.5 1040.9,308.5 1041.4,308.5 1041.9,308.5 1042.4,308.5 1042.9,308.5 1043.4,308.5 1043.9,308.5 1044.4,308.5 1044.9,308.5 1045.4,308.5 1045.9,308.5 1046.4,308.5 1046.9,308.5 1047.4,308.5 1047.9,308.5 1048.4,308.5 1048.9,308.5 1049.4,308.5 1049.9,308.5 1050.4,308.5 1050.9,308.5 1051.4,308.5 1051.9,308.5 1052.4,308.5 1052.9,308.5 1053.4,308.5 1053.9,308.5 1054.4,308.5 1054.9,308.5 1055.4,308.5 1055.9,308.5 1056.4,308.5 1056.9,308.5 1057.4,308.5"/>
<line x1="200.9" y1="350.3" x2="200.9" y2="461" stroke="#3c3c3c" stroke-width="1.4"/>
<line x1="196.4" y1="457.4" x2="200.9" y2="457.4" stroke="#3c3c3c" stroke-width="1"/>
<line x1="198.9" y1="445.85" x2="200.9" y2="445.85" stroke="#3c3c3c" stroke-width="1"/>
<line x1="198.9" y1="434.3" x2="200.9" y2="434.3" stroke="#3c3c3c" stroke-width="1"/>
<line x1="198.9" y1="422.75" x2="200.9" y2="422.75" stroke="#3c3c3c" stroke-width="1"/>
<line x1="198.9" y1="411.2" x2="200.9" y2="411.2" stroke="#3c3c3c" stroke-width="1"/>
<line x1="196.4" y1="399.65" x2="200.9" y2="399.65" stroke="#3c3c3c" stroke-width="1"/>
<line x1="198.9" y1="388.1" x2="200.9" y2="388.1" stroke="#3c3c3c" stroke-width="1"/>
<line x1="198.9" y1="376.55" x2="200.9" y2="376.55" stroke="#3c3c3c" stroke-width="1"/>
<line x1="198.9" y1="365" x2="200.9" y2="365" stroke="#3c3c3c" stroke-width="1"/>
<line x1="198.9" y1="353.45" x2="200.9" y2="353.45" stroke="#3c3c3c" stroke-width="1"/>
<text x="194.9" y="464.3" font-size="16" text-anchor="end" font-weight="normal" fill="#4a4a4a" textLength="7.1" lengthAdjust="spacingAndGlyphs">0</text>
<text x="194.9" y="406.55" font-size="16" text-anchor="end" font-weight="normal" fill="#4a4a4a" textLength="21.3" lengthAdjust="spacingAndGlyphs">250</text>
<rect x="200.9" y="457.9" width="856.9" height="1.9" fill="#b4b4b4"/>
<line x1="200.9" y1="460.3" x2="1057.8" y2="460.3" stroke="#3c3c3c" stroke-width="1.4"/>
<line x1="200.9" y1="460.3" x2="200.9" y2="465.1" stroke="#777" stroke-width="1"/>
<text x="201.2" y="484.3" font-size="16" text-anchor="middle" font-weight="normal" fill="#4a4a4a" textLength="7" lengthAdjust="spacingAndGlyphs">8</text>
<line x1="208.69" y1="460.3" x2="208.69" y2="462.5" stroke="#3c3c3c" stroke-width="1"/>
<line x1="216.48" y1="460.3" x2="216.48" y2="462.5" stroke="#3c3c3c" stroke-width="1"/>
<line x1="224.27" y1="460.3" x2="224.27" y2="462.5" stroke="#3c3c3c" stroke-width="1"/>
<line x1="232.06" y1="460.3" x2="232.06" y2="462.5" stroke="#3c3c3c" stroke-width="1"/>
<line x1="239.85" y1="460.3" x2="239.85" y2="465.1" stroke="#777" stroke-width="1"/>
<text x="240.15" y="484.3" font-size="16" text-anchor="middle" font-weight="normal" fill="#4a4a4a" textLength="7" lengthAdjust="spacingAndGlyphs">9</text>
<line x1="247.64" y1="460.3" x2="247.64" y2="462.5" stroke="#3c3c3c" stroke-width="1"/>
<line x1="255.43" y1="460.3" x2="255.43" y2="462.5" stroke="#3c3c3c" stroke-width="1"/>
<line x1="263.22" y1="460.3" x2="263.22" y2="462.5" stroke="#3c3c3c" stroke-width="1"/>
<line x1="271.01" y1="460.3" x2="271.01" y2="462.5" stroke="#3c3c3c" stroke-width="1"/>
<line x1="278.8" y1="460.3" x2="278.8" y2="465.1" stroke="#777" stroke-width="1"/>
<text x="279.1" y="484.3" font-size="16" text-anchor="middle" font-weight="normal" fill="#4a4a4a" textLength="14" lengthAdjust="spacingAndGlyphs">10</text>
<line x1="286.59" y1="460.3" x2="286.59" y2="462.5" stroke="#3c3c3c" stroke-width="1"/>
<line x1="294.38" y1="460.3" x2="294.38" y2="462.5" stroke="#3c3c3c" stroke-width="1"/>
<line x1="302.17" y1="460.3" x2="302.17" y2="462.5" stroke="#3c3c3c" stroke-width="1"/>
<line x1="309.96" y1="460.3" x2="309.96" y2="462.5" stroke="#3c3c3c" stroke-width="1"/>
<line x1="317.75" y1="460.3" x2="317.75" y2="465.1" stroke="#777" stroke-width="1"/>
<text x="318.05" y="484.3" font-size="16" text-anchor="middle" font-weight="normal" fill="#4a4a4a" textLength="14" lengthAdjust="spacingAndGlyphs">11</text>
<line x1="325.54" y1="460.3" x2="325.54" y2="462.5" stroke="#3c3c3c" stroke-width="1"/>
<line x1="333.33" y1="460.3" x2="333.33" y2="462.5" stroke="#3c3c3c" stroke-width="1"/>
<line x1="341.12" y1="460.3" x2="341.12" y2="462.5" stroke="#3c3c3c" stroke-width="1"/>
<line x1="348.91" y1="460.3" x2="348.91" y2="462.5" stroke="#3c3c3c" stroke-width="1"/>
<line x1="356.7" y1="460.3" x2="356.7" y2="465.1" stroke="#777" stroke-width="1"/>
<text x="357" y="484.3" font-size="16" text-anchor="middle" font-weight="normal" fill="#4a4a4a" textLength="14" lengthAdjust="spacingAndGlyphs">12</text>
<line x1="364.49" y1="460.3" x2="364.49" y2="462.5" stroke="#3c3c3c" stroke-width="1"/>
<line x1="372.28" y1="460.3" x2="372.28" y2="462.5" stroke="#3c3c3c" stroke-width="1"/>
<line x1="380.07" y1="460.3" x2="380.07" y2="462.5" stroke="#3c3c3c" stroke-width="1"/>
<line x1="387.86" y1="460.3" x2="387.86" y2="462.5" stroke="#3c3c3c" stroke-width="1"/>
<line x1="395.65" y1="460.3" x2="395.65" y2="465.1" stroke="#777" stroke-width="1"/>
<text x="395.95" y="484.3" font-size="16" text-anchor="middle" font-weight="normal" fill="#4a4a4a" textLength="14" lengthAdjust="spacingAndGlyphs">13</text>
<line x1="403.44" y1="460.3" x2="403.44" y2="462.5" stroke="#3c3c3c" stroke-width="1"/>
<line x1="411.23" y1="460.3" x2="411.23" y2="462.5" stroke="#3c3c3c" stroke-width="1"/>
<line x1="419.02" y1="460.3" x2="419.02" y2="462.5" stroke="#3c3c3c" stroke-width="1"/>
<line x1="426.81" y1="460.3" x2="426.81" y2="462.5" stroke="#3c3c3c" stroke-width="1"/>
<line x1="434.6" y1="460.3" x2="434.6" y2="465.1" stroke="#777" stroke-width="1"/>
<text x="434.9" y="484.3" font-size="16" text-anchor="middle" font-weight="normal" fill="#4a4a4a" textLength="14" lengthAdjust="spacingAndGlyphs">14</text>
<line x1="442.39" y1="460.3" x2="442.39" y2="462.5" stroke="#3c3c3c" stroke-width="1"/>
<line x1="450.18" y1="460.3" x2="450.18" y2="462.5" stroke="#3c3c3c" stroke-width="1"/>
<line x1="457.97" y1="460.3" x2="457.97" y2="462.5" stroke="#3c3c3c" stroke-width="1"/>
<line x1="465.76" y1="460.3" x2="465.76" y2="462.5" stroke="#3c3c3c" stroke-width="1"/>
<line x1="473.55" y1="460.3" x2="473.55" y2="465.1" stroke="#777" stroke-width="1"/>
<text x="473.85" y="484.3" font-size="16" text-anchor="middle" font-weight="normal" fill="#4a4a4a" textLength="14" lengthAdjust="spacingAndGlyphs">15</text>
<line x1="481.34" y1="460.3" x2="481.34" y2="462.5" stroke="#3c3c3c" stroke-width="1"/>
<line x1="489.13" y1="460.3" x2="489.13" y2="462.5" stroke="#3c3c3c" stroke-width="1"/>
<line x1="496.92" y1="460.3" x2="496.92" y2="462.5" stroke="#3c3c3c" stroke-width="1"/>
<line x1="504.71" y1="460.3" x2="504.71" y2="462.5" stroke="#3c3c3c" stroke-width="1"/>
<line x1="512.5" y1="460.3" x2="512.5" y2="465.1" stroke="#777" stroke-width="1"/>
<text x="512.8" y="484.3" font-size="16" text-anchor="middle" font-weight="normal" fill="#4a4a4a" textLength="14" lengthAdjust="spacingAndGlyphs">16</text>
<line x1="520.29" y1="460.3" x2="520.29" y2="462.5" stroke="#3c3c3c" stroke-width="1"/>
<line x1="528.08" y1="460.3" x2="528.08" y2="462.5" stroke="#3c3c3c" stroke-width="1"/>
<line x1="535.87" y1="460.3" x2="535.87" y2="462.5" stroke="#3c3c3c" stroke-width="1"/>
<line x1="543.66" y1="460.3" x2="543.66" y2="462.5" stroke="#3c3c3c" stroke-width="1"/>
<line x1="551.45" y1="460.3" x2="551.45" y2="465.1" stroke="#777" stroke-width="1"/>
<text x="551.75" y="484.3" font-size="16" text-anchor="middle" font-weight="normal" fill="#4a4a4a" textLength="14" lengthAdjust="spacingAndGlyphs">17</text>
<line x1="559.24" y1="460.3" x2="559.24" y2="462.5" stroke="#3c3c3c" stroke-width="1"/>
<line x1="567.03" y1="460.3" x2="567.03" y2="462.5" stroke="#3c3c3c" stroke-width="1"/>
<line x1="574.82" y1="460.3" x2="574.82" y2="462.5" stroke="#3c3c3c" stroke-width="1"/>
<line x1="582.61" y1="460.3" x2="582.61" y2="462.5" stroke="#3c3c3c" stroke-width="1"/>
<line x1="590.4" y1="460.3" x2="590.4" y2="465.1" stroke="#777" stroke-width="1"/>
<text x="590.7" y="484.3" font-size="16" text-anchor="middle" font-weight="normal" fill="#4a4a4a" textLength="14" lengthAdjust="spacingAndGlyphs">18</text>
<line x1="598.19" y1="460.3" x2="598.19" y2="462.5" stroke="#3c3c3c" stroke-width="1"/>
<line x1="605.98" y1="460.3" x2="605.98" y2="462.5" stroke="#3c3c3c" stroke-width="1"/>
<line x1="613.77" y1="460.3" x2="613.77" y2="462.5" stroke="#3c3c3c" stroke-width="1"/>
<line x1="621.56" y1="460.3" x2="621.56" y2="462.5" stroke="#3c3c3c" stroke-width="1"/>
<line x1="629.35" y1="460.3" x2="629.35" y2="465.1" stroke="#777" stroke-width="1"/>
<text x="629.65" y="484.3" font-size="16" text-anchor="middle" font-weight="normal" fill="#4a4a4a" textLength="14" lengthAdjust="spacingAndGlyphs">19</text>
<line x1="637.14" y1="460.3" x2="637.14" y2="462.5" stroke="#3c3c3c" stroke-width="1"/>
<line x1="644.93" y1="460.3" x2="644.93" y2="462.5" stroke="#3c3c3c" stroke-width="1"/>
<line x1="652.72" y1="460.3" x2="652.72" y2="462.5" stroke="#3c3c3c" stroke-width="1"/>
<line x1="660.51" y1="460.3" x2="660.51" y2="462.5" stroke="#3c3c3c" stroke-width="1"/>
<line x1="668.3" y1="460.3" x2="668.3" y2="465.1" stroke="#777" stroke-width="1"/>
<text x="668.6" y="484.3" font-size="16" text-anchor="middle" font-weight="normal" fill="#4a4a4a" textLength="14" lengthAdjust="spacingAndGlyphs">20</text>
<line x1="676.09" y1="460.3" x2="676.09" y2="462.5" stroke="#3c3c3c" stroke-width="1"/>
<line x1="683.88" y1="460.3" x2="683.88" y2="462.5" stroke="#3c3c3c" stroke-width="1"/>
<line x1="691.67" y1="460.3" x2="691.67" y2="462.5" stroke="#3c3c3c" stroke-width="1"/>
<line x1="699.46" y1="460.3" x2="699.46" y2="462.5" stroke="#3c3c3c" stroke-width="1"/>
<line x1="707.25" y1="460.3" x2="707.25" y2="465.1" stroke="#777" stroke-width="1"/>
<text x="707.55" y="484.3" font-size="16" text-anchor="middle" font-weight="normal" fill="#4a4a4a" textLength="14" lengthAdjust="spacingAndGlyphs">21</text>
<line x1="715.04" y1="460.3" x2="715.04" y2="462.5" stroke="#3c3c3c" stroke-width="1"/>
<line x1="722.83" y1="460.3" x2="722.83" y2="462.5" stroke="#3c3c3c" stroke-width="1"/>
<line x1="730.62" y1="460.3" x2="730.62" y2="462.5" stroke="#3c3c3c" stroke-width="1"/>
<line x1="738.41" y1="460.3" x2="738.41" y2="462.5" stroke="#3c3c3c" stroke-width="1"/>
<line x1="746.2" y1="460.3" x2="746.2" y2="465.1" stroke="#777" stroke-width="1"/>
<text x="746.5" y="484.3" font-size="16" text-anchor="middle" font-weight="normal" fill="#4a4a4a" textLength="14" lengthAdjust="spacingAndGlyphs">22</text>
<line x1="753.99" y1="460.3" x2="753.99" y2="462.5" stroke="#3c3c3c" stroke-width="1"/>
<line x1="761.78" y1="460.3" x2="761.78" y2="462.5" stroke="#3c3c3c" stroke-width="1"/>
<line x1="769.57" y1="460.3" x2="769.57" y2="462.5" stroke="#3c3c3c" stroke-width="1"/>
<line x1="777.36" y1="460.3" x2="777.36" y2="462.5" stroke="#3c3c3c" stroke-width="1"/>
<line x1="785.15" y1="460.3" x2="785.15" y2="465.1" stroke="#777" stroke-width="1"/>
<text x="785.45" y="484.3" font-size="16" text-anchor="middle" font-weight="normal" fill="#4a4a4a" textLength="14" lengthAdjust="spacingAndGlyphs">23</text>
<line x1="792.94" y1="460.3" x2="792.94" y2="462.5" stroke="#3c3c3c" stroke-width="1"/>
<line x1="800.73" y1="460.3" x2="800.73" y2="462.5" stroke="#3c3c3c" stroke-width="1"/>
<line x1="808.52" y1="460.3" x2="808.52" y2="462.5" stroke="#3c3c3c" stroke-width="1"/>
<line x1="816.31" y1="460.3" x2="816.31" y2="462.5" stroke="#3c3c3c" stroke-width="1"/>
<line x1="824.1" y1="460.3" x2="824.1" y2="465.1" stroke="#777" stroke-width="1"/>
<text x="824.4" y="484.3" font-size="16" text-anchor="middle" font-weight="normal" fill="#4a4a4a" textLength="14" lengthAdjust="spacingAndGlyphs">24</text>
<line x1="831.89" y1="460.3" x2="831.89" y2="462.5" stroke="#3c3c3c" stroke-width="1"/>
<line x1="839.68" y1="460.3" x2="839.68" y2="462.5" stroke="#3c3c3c" stroke-width="1"/>
<line x1="847.47" y1="460.3" x2="847.47" y2="462.5" stroke="#3c3c3c" stroke-width="1"/>
<line x1="855.26" y1="460.3" x2="855.26" y2="462.5" stroke="#3c3c3c" stroke-width="1"/>
<line x1="863.05" y1="460.3" x2="863.05" y2="465.1" stroke="#777" stroke-width="1"/>
<text x="863.35" y="484.3" font-size="16" text-anchor="middle" font-weight="normal" fill="#4a4a4a" textLength="14" lengthAdjust="spacingAndGlyphs">25</text>
<line x1="870.84" y1="460.3" x2="870.84" y2="462.5" stroke="#3c3c3c" stroke-width="1"/>
<line x1="878.63" y1="460.3" x2="878.63" y2="462.5" stroke="#3c3c3c" stroke-width="1"/>
<line x1="886.42" y1="460.3" x2="886.42" y2="462.5" stroke="#3c3c3c" stroke-width="1"/>
<line x1="894.21" y1="460.3" x2="894.21" y2="462.5" stroke="#3c3c3c" stroke-width="1"/>
<line x1="902" y1="460.3" x2="902" y2="465.1" stroke="#777" stroke-width="1"/>
<text x="902.3" y="484.3" font-size="16" text-anchor="middle" font-weight="normal" fill="#4a4a4a" textLength="14" lengthAdjust="spacingAndGlyphs">26</text>
<line x1="909.79" y1="460.3" x2="909.79" y2="462.5" stroke="#3c3c3c" stroke-width="1"/>
<line x1="917.58" y1="460.3" x2="917.58" y2="462.5" stroke="#3c3c3c" stroke-width="1"/>
<line x1="925.37" y1="460.3" x2="925.37" y2="462.5" stroke="#3c3c3c" stroke-width="1"/>
<line x1="933.16" y1="460.3" x2="933.16" y2="462.5" stroke="#3c3c3c" stroke-width="1"/>
<line x1="940.95" y1="460.3" x2="940.95" y2="465.1" stroke="#777" stroke-width="1"/>
<text x="941.25" y="484.3" font-size="16" text-anchor="middle" font-weight="normal" fill="#4a4a4a" textLength="14" lengthAdjust="spacingAndGlyphs">27</text>
<line x1="948.74" y1="460.3" x2="948.74" y2="462.5" stroke="#3c3c3c" stroke-width="1"/>
<line x1="956.53" y1="460.3" x2="956.53" y2="462.5" stroke="#3c3c3c" stroke-width="1"/>
<line x1="964.32" y1="460.3" x2="964.32" y2="462.5" stroke="#3c3c3c" stroke-width="1"/>
<line x1="972.11" y1="460.3" x2="972.11" y2="462.5" stroke="#3c3c3c" stroke-width="1"/>
<line x1="979.9" y1="460.3" x2="979.9" y2="465.1" stroke="#777" stroke-width="1"/>
<text x="980.2" y="484.3" font-size="16" text-anchor="middle" font-weight="normal" fill="#4a4a4a" textLength="14" lengthAdjust="spacingAndGlyphs">28</text>
<line x1="987.69" y1="460.3" x2="987.69" y2="462.5" stroke="#3c3c3c" stroke-width="1"/>
<line x1="995.48" y1="460.3" x2="995.48" y2="462.5" stroke="#3c3c3c" stroke-width="1"/>
<line x1="1003.27" y1="460.3" x2="1003.27" y2="462.5" stroke="#3c3c3c" stroke-width="1"/>
<line x1="1011.06" y1="460.3" x2="1011.06" y2="462.5" stroke="#3c3c3c" stroke-width="1"/>
<line x1="1018.85" y1="460.3" x2="1018.85" y2="465.1" stroke="#777" stroke-width="1"/>
<text x="1019.15" y="484.3" font-size="16" text-anchor="middle" font-weight="normal" fill="#4a4a4a" textLength="14" lengthAdjust="spacingAndGlyphs">29</text>
<line x1="1026.64" y1="460.3" x2="1026.64" y2="462.5" stroke="#3c3c3c" stroke-width="1"/>
<line x1="1034.43" y1="460.3" x2="1034.43" y2="462.5" stroke="#3c3c3c" stroke-width="1"/>
<line x1="1042.22" y1="460.3" x2="1042.22" y2="462.5" stroke="#3c3c3c" stroke-width="1"/>
<line x1="1050.01" y1="460.3" x2="1050.01" y2="462.5" stroke="#3c3c3c" stroke-width="1"/>
<line x1="1057.8" y1="460.3" x2="1057.8" y2="465.1" stroke="#777" stroke-width="1"/>
<text x="1058.1" y="484.3" font-size="16" text-anchor="middle" font-weight="normal" fill="#4a4a4a" textLength="14" lengthAdjust="spacingAndGlyphs">30</text>
<text transform="translate(166.2,405.3) rotate(-90)" font-size="15.5" text-anchor="middle" fill="#555" textLength="79" lengthAdjust="spacingAndGlyphs">Signal [EU]</text>
<polyline fill="none" stroke="#ff4040" stroke-width="1.6" stroke-linejoin="round" points="200.9,457.4 201.4,457.4 201.9,457.4 202.4,457.4 202.9,457.4 203.4,457.4 203.9,457.4 204.4,457.4 204.9,457.4 205.4,457.4 205.9,457.4 206.4,457.4 206.9,457.4 207.4,457.4 207.9,457.4 208.4,457.4 208.9,457.4 209.4,457.4 209.9,457.4 210.4,457.4 210.9,457.4 211.4,457.4 211.9,457.4 212.4,457.4 212.9,457.4 213.4,457.4 213.9,457.4 214.4,457.4 214.9,457.4 215.4,457.4 215.9,457.4 216.4,457.4 216.9,457.4 217.4,457.4 217.9,457.4 218.4,457.4 218.9,457.4 219.4,457.4 219.9,457.4 220.4,457.4 220.9,457.4 221.4,457.4 221.9,457.4 222.4,457.4 222.9,457.4 223.4,457.4 223.9,457.4 224.4,457.4 224.9,457.4 225.4,457.4 225.9,457.4 226.4,457.4 226.9,457.4 227.4,457.4 227.9,457.4 228.4,457.4 228.9,457.4 229.4,457.4 229.9,457.4 230.4,457.4 230.9,457.4 231.4,457.4 231.9,457.4 232.4,457.4 232.9,457.4 233.4,457.4 233.9,457.4 234.4,457.4 234.9,457.4 235.4,457.4 235.9,457.4 236.4,457.4 236.9,457.4 237.4,457.4 237.9,457.4 238.4,457.4 238.9,457.4 239.4,457.4 239.9,457.4 240.4,457.4 240.9,457.4 241.4,457.4 241.9,457.4 242.4,457.4 242.9,457.4 243.4,457.4 243.9,457.4 244.4,457.4 244.9,457.4 245.4,457.4 245.9,457.4 246.4,457.4 246.9,457.4 247.4,457.4 247.9,457.4 248.4,457.4 248.9,457.4 249.4,457.4 249.9,457.4 250.4,457.4 250.9,457.4 251.4,457.4 251.9,457.4 252.4,457.4 252.9,457.4 253.4,457.4 253.9,457.4 254.4,457.4 254.9,457.4 255.4,457.4 255.9,457.4 256.4,457.4 256.9,457.4 257.4,457.4 257.9,457.4 258.4,457.4 258.9,457.4 259.4,457.4 259.9,457.4 260.4,457.4 260.9,457.4 261.4,457.4 261.9,457.4 262.4,457.4 262.9,457.4 263.4,457.4 263.9,457.4 264.4,457.4 264.9,457.4 265.4,457.4 265.9,457.4 266.4,457.4 266.9,457.4 267.4,457.4 267.9,457.4 268.4,457.4 268.9,457.4 269.4,457.4 269.9,457.4 270.4,457.4 270.9,457.4 271.4,457.4 271.9,457.4 272.4,457.4 272.9,457.4 273.4,457.4 273.9,457.4 274.4,457.4 274.9,457.4 275.4,457.4 275.9,457.4 276.4,457.4 276.9,457.4 277.4,457.4 277.9,457.4 278.4,457.4 278.9,457.4 279.4,457.4 279.9,457.4 280.4,457.4 280.9,457.4 281.4,457.4 281.9,457.4 282.4,457.4 282.9,457.4 283.4,457.4 283.9,457.4 284.4,457.4 284.9,457.4 285.4,457.4 285.9,457.4 286.4,457.4 286.9,457.4 287.4,457.4 287.9,457.4 288.4,457.4 288.9,457.4 289.4,457.4 289.9,457.4 290.4,457.4 290.9,457.4 291.4,457.4 291.9,457.4 292.4,457.4 292.9,457.4 293.4,457.4 293.9,457.4 294.4,457.4 294.9,457.4 295.4,457.4 295.9,457.4 296.4,457.4 296.9,457.4 297.4,457.4 297.9,457.4 298.4,457.4 298.9,457.4 299.4,457.4 299.9,457.4 300.4,457.4 300.9,457.4 301.4,457.4 301.9,457.4 302.4,457.4 302.9,457.4 303.4,457.4 303.9,457.4 304.4,457.4 304.9,457.4 305.4,457.4 305.9,457.4 306.4,457.4 306.9,457.4 307.4,457.4 307.9,457.4 308.4,457.4 308.9,457.4 309.4,457.4 309.9,457.4 310.4,457.4 310.9,457.4 311.4,457.4 311.9,457.4 312.4,457.4 312.9,457.4 313.4,457.4 313.9,457.4 314.4,457.4 314.9,457.4 315.4,457.4 315.9,457.4 316.4,457.4 316.9,457.4 317.4,457.4 317.9,457.4 318.4,457.4 318.9,457.4 319.4,457.4 319.9,457.4 320.4,457.4 320.9,457.4 321.4,457.4 321.9,457.4 322.4,457.4 322.9,457.4 323.4,457.4 323.9,457.4 324.4,457.4 324.9,457.4 325.4,457.4 325.9,457.4 326.4,457.4 326.9,457.4 327.4,457.4 327.9,457.4 328.4,457.4 328.9,457.4 329.4,457.4 329.9,457.4 330.4,457.4 330.9,457.4 331.4,457.4 331.9,457.4 332.4,457.4 332.9,457.4 333.4,457.4 333.9,457.4 334.4,457.4 334.9,457.4 335.4,457.4 335.9,457.4 336.4,457.4 336.9,457.4 337.4,457.4 337.9,457.4 338.4,457.4 338.9,457.4 339.4,457.4 339.9,457.4 340.4,457.4 340.9,457.4 341.4,457.4 341.9,457.4 342.4,457.4 342.9,457.4 343.4,457.4 343.9,457.4 344.4,457.4 344.9,457.4 345.4,457.4 345.9,457.4 346.4,457.4 346.9,457.4 347.4,457.4 347.9,457.4 348.4,457.4 348.9,457.4 349.4,457.4 349.9,457.4 350.4,457.4 350.9,457.4 351.4,457.4 351.9,457.4 352.4,457.4 352.9,457.4 353.4,457.4 353.9,457.4 354.4,457.4 354.9,457.4 355.4,457.4 355.9,457.4 356.4,457.4 356.9,457.4 357.4,457.4 357.9,457.4 358.4,457.4 358.9,457.4 359.4,457.4 359.9,457.4 360.4,457.4 360.9,457.4 361.4,457.4 361.9,457.4 362.4,457.4 362.9,457.4 363.4,457.4 363.9,457.4 364.4,457.4 364.9,457.4 365.4,457.4 365.9,457.4 366.4,457.4 366.9,457.4 367.4,457.4 367.9,457.4 368.4,457.39 368.9,457.39 369.4,457.37 369.9,457.34 370.4,457.28 370.9,457.17 371.4,457.01 371.9,456.75 372.4,456.41 372.9,455.98 373.4,455.49 373.9,454.99 374.4,454.56 374.9,454.27 375.4,454.17 375.9,454.23 376.4,454.43 376.9,454.73 377.4,455.1 377.9,455.49 378.4,455.89 378.9,456.25 379.4,456.56 379.9,456.82 380.4,457.01 380.9,457.15 381.4,457.25 381.9,457.31 382.4,457.35 382.9,457.37 383.4,457.39 383.9,457.39 384.4,457.4 384.9,457.4 385.4,457.4 385.9,457.4 386.4,457.4 386.9,457.4 387.4,457.4 387.9,457.4 388.4,457.4 388.9,457.4 389.4,457.4 389.9,457.4 390.4,457.4 390.9,457.4 391.4,457.4 391.9,457.4 392.4,457.4 392.9,457.4 393.4,457.4 393.9,457.4 394.4,457.4 394.9,457.4 395.4,457.4 395.9,457.4 396.4,457.4 396.9,457.4 397.4,457.4 397.9,457.4 398.4,457.4 398.9,457.4 399.4,457.4 399.9,457.4 400.4,457.4 400.9,457.4 401.4,457.4 401.9,457.4 402.4,457.4 402.9,457.4 403.4,457.4 403.9,457.4 404.4,457.4 404.9,457.4 405.4,457.39 405.9,457.38 406.4,457.35 406.9,457.26 407.4,457.05 407.9,456.6 408.4,455.68 408.9,453.93 409.4,450.86 409.9,445.87 410.4,438.35 410.9,427.94 411.4,414.75 411.9,399.6 412.4,384.05 412.9,370.27 413.4,360.49 413.9,356.5 414.4,358.11 414.9,363.76 415.4,372.73 415.9,384 416.4,396.4 416.9,408.8 417.4,420.28 417.9,430.22 418.4,438.32 418.9,444.56 419.4,449.11 419.9,452.27 420.4,454.36 420.9,455.67 421.4,456.46 421.9,456.91 422.4,457.15 422.9,457.28 423.4,457.35 423.9,457.38 424.4,457.39 424.9,457.4 425.4,457.4 425.9,457.4 426.4,457.4 426.9,457.4 427.4,457.4 427.9,457.4 428.4,457.4 428.9,457.4 429.4,457.4 429.9,457.4 430.4,457.4 430.9,457.4 431.4,457.4 431.9,457.4 432.4,457.4 432.9,457.4 433.4,457.4 433.9,457.4 434.4,457.4 434.9,457.4 435.4,457.4 435.9,457.4 436.4,457.4 436.9,457.4 437.4,457.4 437.9,457.4 438.4,457.4 438.9,457.4 439.4,457.4 439.9,457.4 440.4,457.4 440.9,457.4 441.4,457.4 441.9,457.4 442.4,457.4 442.9,457.4 443.4,457.4 443.9,457.4 444.4,457.4 444.9,457.4 445.4,457.4 445.9,457.4 446.4,457.4 446.9,457.39 447.4,457.37 447.9,457.34 448.4,457.26 448.9,457.09 449.4,456.77 449.9,456.21 450.4,455.31 450.9,453.94 451.4,452.04 451.9,449.63 452.4,446.86 452.9,444.02 453.4,441.48 453.9,439.68 454.4,438.93 454.9,439.21 455.4,440.24 455.9,441.87 456.4,443.93 456.9,446.2 457.4,448.47 457.9,450.57 458.4,452.4 458.9,453.89 459.4,455.03 459.9,455.87 460.4,456.45 460.9,456.83 461.4,457.05 461.9,457.17 462.4,457.19 462.9,457.11 463.4,456.94 463.9,456.64 464.4,456.19 464.9,455.6 465.4,454.88 465.9,454.1 466.4,453.34 466.9,452.74 467.4,452.38 467.9,452.33 468.4,452.52 468.9,452.89 469.4,453.41 469.9,454.01 470.4,454.64 470.9,455.25 471.4,455.79 471.9,456.25 472.4,456.61 472.9,456.88 473.4,457.07 473.9,457.2 474.4,457.28 474.9,457.33 475.4,457.36 475.9,457.37 476.4,457.36 476.9,457.34 477.4,457.29 477.9,457.2 478.4,457.06 478.9,456.87 479.4,456.62 479.9,456.31 480.4,455.99 480.9,455.69 481.4,455.46 481.9,455.33 482.4,455.33 482.9,455.43 483.4,455.59 483.9,455.81 484.4,456.06 484.9,456.32 485.4,456.56 485.9,456.78 486.4,456.96 486.9,457.1 487.4,457.2 487.9,457.28 488.4,457.33 488.9,457.36 489.4,457.38 489.9,457.39 490.4,457.39 490.9,457.4 491.4,457.4 491.9,457.4 492.4,457.4 492.9,457.4 493.4,457.4 493.9,457.4 494.4,457.39 494.9,457.37 495.4,457.32 495.9,457.19 496.4,456.89 496.9,456.26 497.4,455.01 497.9,452.7 498.4,448.77 498.9,442.57 499.4,433.52 499.9,421.4 500.4,406.6 500.9,390.29 501.4,374.39 501.9,361.28 502.4,353.19 502.9,351.54 503.4,354.95 503.9,362.34 504.4,372.84 504.9,385.29 505.4,398.44 505.9,411.19 506.4,422.68 506.9,432.39 507.4,440.13 507.9,445.96 508.4,450.14 508.9,452.98 509.4,454.82 509.9,455.95 510.4,456.62 510.9,456.97 511.4,457.13 511.9,457.12 512.4,456.93 512.9,456.47 513.4,455.57 513.9,454.02 514.4,451.54 514.9,447.86 515.4,442.87 515.9,436.67 516.4,429.73 516.9,422.81 517.4,416.92 517.9,413.05 518.4,411.91 518.9,413.07 519.4,415.99 519.9,420.32 520.4,425.56 520.9,431.19 521.4,436.72 521.9,441.76 522.4,446.05 522.9,449.51 523.4,452.14 523.9,454.04 524.4,455.34 524.9,456.19 525.4,456.71 525.9,457.01 526.4,457.15 526.9,457.17 527.4,457.06 527.9,456.76 528.4,456.2 528.9,455.25 529.4,453.76 529.9,451.63 530.4,448.84 530.9,445.5 531.4,441.93 531.9,438.56 532.4,435.92 532.9,434.48 533.4,434.43 533.9,435.39 534.4,437.18 534.9,439.59 535.4,442.37 535.9,445.23 536.4,447.96 536.9,450.38 537.4,452.39 537.9,453.98 538.4,455.16 538.9,455.99 539.4,456.55 539.9,456.91 540.4,457.12 540.9,457.24 541.4,457.29 541.9,457.29 542.4,457.24 542.9,457.14 543.4,456.97 543.9,456.72 544.4,456.39 544.9,455.99 545.4,455.56 545.9,455.16 546.4,454.83 546.9,454.65 547.4,454.64 547.9,454.75 548.4,454.96 548.9,455.25 549.4,455.58 549.9,455.92 550.4,456.25 550.9,456.55 551.4,456.79 551.9,456.98 552.4,457.13 552.9,457.23 553.4,457.3 553.9,457.34 554.4,457.37 554.9,457.38 555.4,457.39 555.9,457.4 556.4,457.4 556.9,457.4 557.4,457.4 557.9,457.4 558.4,457.4 558.9,457.4 559.4,457.4 559.9,457.4 560.4,457.4 560.9,457.4 561.4,457.4 561.9,457.4 562.4,457.4 562.9,457.4 563.4,457.39 563.9,457.39 564.4,457.37 564.9,457.33 565.4,457.26 565.9,457.14 566.4,456.94 566.9,456.63 567.4,456.2 567.9,455.64 568.4,454.99 568.9,454.32 569.4,453.7 569.9,453.24 570.4,453.02 570.9,453.06 571.4,453.28 571.9,453.65 572.4,454.13 572.9,454.66 573.4,455.2 573.9,455.71 574.4,456.16 574.9,456.52 575.4,456.8 575.9,457.01 576.4,457.16 576.9,457.26 577.4,457.32 577.9,457.35 578.4,457.38 578.9,457.39 579.4,457.39 579.9,457.4 580.4,457.4 580.9,457.4 581.4,457.4 581.9,457.4 582.4,457.4 582.9,457.4 583.4,457.4 583.9,457.4 584.4,457.4 584.9,457.4 585.4,457.4 585.9,457.4 586.4,457.4 586.9,457.4 587.4,457.4 587.9,457.4 588.4,457.4 588.9,457.4 589.4,457.4 589.9,457.4 590.4,457.4 590.9,457.4 591.4,457.4 591.9,457.4 592.4,457.4 592.9,457.4 593.4,457.4 593.9,457.4 594.4,457.4 594.9,457.4 595.4,457.4 595.9,457.39 596.4,457.37 596.9,457.31 597.4,457.17 597.9,456.87 598.4,456.25 598.9,455.06 599.4,452.94 599.9,449.45 600.4,444.14 600.9,436.68 601.4,427.1 601.9,415.92 602.4,404.24 602.9,393.61 603.4,385.74 603.9,382.04 604.4,382.72 604.9,386.51 605.4,392.89 605.9,401.12 606.4,410.33 606.9,419.65 607.4,428.38 607.9,436.02 608.4,442.29 608.9,447.17 609.4,450.75 609.9,453.26 610.4,454.93 610.9,455.99 611.4,456.63 611.9,456.99 612.4,457.19 612.9,457.3 613.4,457.35 613.9,457.38 614.4,457.38 614.9,457.37 615.4,457.35 615.9,457.29 616.4,457.17 616.9,456.96 617.4,456.62 617.9,456.1 618.4,455.36 618.9,454.4 619.4,453.28 619.9,452.1 620.4,451.02 620.9,450.2 621.4,449.8 621.9,449.85 622.4,450.22 622.9,450.85 623.4,451.67 623.9,452.6 624.4,453.54 624.9,454.43 625.4,455.2 625.9,455.84 626.4,456.34 626.9,456.71 627.4,456.97 627.9,457.14 628.4,457.25 628.9,457.32 629.4,457.36 629.9,457.38 630.4,457.39 630.9,457.39 631.4,457.39 631.9,457.39 632.4,457.37 632.9,457.32 633.4,457.23 633.9,457.05 634.4,456.72 634.9,456.19 635.4,455.36 635.9,454.19 636.4,452.68 636.9,450.88 637.4,448.99 637.9,447.23 638.4,445.9 638.9,445.21 639.4,445.26 639.9,445.82 640.4,446.81 640.9,448.12 641.4,449.6 641.9,451.12 642.4,452.55 642.9,453.81 643.4,454.85 643.9,455.67 644.4,456.27 644.9,456.69 645.4,456.98 645.9,457.16 646.4,457.27 646.9,457.33 647.4,457.36 647.9,457.38 648.4,457.39 648.9,457.4 649.4,457.4 649.9,457.4 650.4,457.4 650.9,457.4 651.4,457.4 651.9,457.4 652.4,457.4 652.9,457.4 653.4,457.4 653.9,457.4 654.4,457.4 654.9,457.4 655.4,457.4 655.9,457.4 656.4,457.4 656.9,457.4 657.4,457.4 657.9,457.4 658.4,457.4 658.9,457.4 659.4,457.4 659.9,457.4 660.4,457.4 660.9,457.4 661.4,457.4 661.9,457.4 662.4,457.4 662.9,457.4 663.4,457.4 663.9,457.4 664.4,457.4 664.9,457.4 665.4,457.4 665.9,457.4 666.4,457.39 666.9,457.38 667.4,457.37 667.9,457.33 668.4,457.27 668.9,457.17 669.4,457.01 669.9,456.8 670.4,456.53 670.9,456.22 671.4,455.9 671.9,455.61 672.4,455.41 672.9,455.32 673.4,455.35 673.9,455.47 674.4,455.65 674.9,455.88 675.4,456.13 675.9,456.39 676.4,456.63 676.9,456.83 677.4,457 677.9,457.13 678.4,457.23 678.9,457.29 679.4,457.33 679.9,457.35 680.4,457.34 680.9,457.31 681.4,457.24 681.9,457.12 682.4,456.93 682.9,456.64 683.4,456.26 683.9,455.81 684.4,455.31 684.9,454.83 685.4,454.44 685.9,454.21 686.4,454.18 686.9,454.29 687.4,454.53 687.9,454.85 688.4,455.24 688.9,455.64 689.4,456.02 689.9,456.37 690.4,456.66 690.9,456.89 691.4,457.06 691.9,457.19 692.4,457.27 692.9,457.33 693.4,457.36 693.9,457.38 694.4,457.39 694.9,457.39 695.4,457.4 695.9,457.4 696.4,457.4 696.9,457.4 697.4,457.4 697.9,457.4 698.4,457.4 698.9,457.4 699.4,457.4 699.9,457.4 700.4,457.4 700.9,457.4 701.4,457.4 701.9,457.4 702.4,457.4 702.9,457.4 703.4,457.4 703.9,457.4 704.4,457.4 704.9,457.4 705.4,457.4 705.9,457.4 706.4,457.39 706.9,457.36 707.4,457.31 707.9,457.19 708.4,456.92 708.9,456.4 709.4,455.43 709.9,453.79 710.4,451.19 710.9,447.4 711.4,442.32 711.9,436.13 712.4,429.31 712.9,422.66 713.4,417.18 713.9,413.8 714.4,413.12 714.9,414.55 715.4,417.65 715.9,422.04 716.4,427.25 716.9,432.76 717.4,438.09 717.9,442.89 718.4,446.95 718.9,450.18 719.4,452.62 719.9,454.37 720.4,455.56 720.9,456.32 721.4,456.8 721.9,457.08 722.4,457.23 722.9,457.32 723.4,457.36 723.9,457.38 724.4,457.39 724.9,457.4 725.4,457.4 725.9,457.4 726.4,457.4 726.9,457.4 727.4,457.4 727.9,457.4 728.4,457.4 728.9,457.4 729.4,457.4 729.9,457.4 730.4,457.4 730.9,457.4 731.4,457.39 731.9,457.38 732.4,457.36 732.9,457.31 733.4,457.21 733.9,457.02 734.4,456.7 734.9,456.19 735.4,455.44 735.9,454.43 736.4,453.18 736.9,451.8 737.4,450.44 737.9,449.3 738.4,448.58 738.9,448.4 739.4,448.66 739.9,449.27 740.4,450.14 740.9,451.19 741.4,452.31 741.9,453.4 742.4,454.38 742.9,455.22 743.4,455.89 743.9,456.4 744.4,456.76 744.9,457.01 745.4,457.17 745.9,457.27 746.4,457.33 746.9,457.36 747.4,457.38 747.9,457.39 748.4,457.4 748.9,457.4 749.4,457.4 749.9,457.4 750.4,457.4 750.9,457.4 751.4,457.4 751.9,457.4 752.4,457.4 752.9,457.4 753.4,457.4 753.9,457.4 754.4,457.4 754.9,457.4 755.4,457.4 755.9,457.4 756.4,457.4 756.9,457.4 757.4,457.4 757.9,457.4 758.4,457.4 758.9,457.4 759.4,457.4 759.9,457.4 760.4,457.4 760.9,457.4 761.4,457.4 761.9,457.4 762.4,457.4 762.9,457.4 763.4,457.4 763.9,457.4 764.4,457.4 764.9,457.4 765.4,457.4 765.9,457.4 766.4,457.4 766.9,457.4 767.4,457.4 767.9,457.4 768.4,457.4 768.9,457.4 769.4,457.4 769.9,457.4 770.4,457.4 770.9,457.4 771.4,457.4 771.9,457.4 772.4,457.4 772.9,457.4 773.4,457.4 773.9,457.4 774.4,457.4 774.9,457.4 775.4,457.4 775.9,457.4 776.4,457.4 776.9,457.4 777.4,457.4 777.9,457.4 778.4,457.4 778.9,457.4 779.4,457.4 779.9,457.4 780.4,457.39 780.9,457.38 781.4,457.35 781.9,457.3 782.4,457.22 782.9,457.09 783.4,456.91 783.9,456.66 784.4,456.37 784.9,456.05 785.4,455.74 785.9,455.49 786.4,455.35 786.9,455.33 787.4,455.4 787.9,455.56 788.4,455.77 788.9,456.01 789.4,456.27 789.9,456.52 790.4,456.74 790.9,456.93 791.4,457.08 791.9,457.19 792.4,457.26 792.9,457.32 793.4,457.35 793.9,457.37 794.4,457.39 794.9,457.39 795.4,457.4 795.9,457.4 796.4,457.4 796.9,457.4 797.4,457.4 797.9,457.4 798.4,457.4 798.9,457.4 799.4,457.4 799.9,457.4 800.4,457.4 800.9,457.4 801.4,457.4 801.9,457.4 802.4,457.4 802.9,457.4 803.4,457.4 803.9,457.4 804.4,457.4 804.9,457.39 805.4,457.39 805.9,457.37 806.4,457.33 806.9,457.25 807.4,457.09 807.9,456.83 808.4,456.4 808.9,455.76 809.4,454.88 809.9,453.78 810.4,452.52 810.9,451.24 811.4,450.12 811.9,449.35 812.4,449.06 812.9,449.22 813.4,449.71 813.9,450.46 814.4,451.4 814.9,452.41 815.4,453.42 815.9,454.35 816.4,455.15 816.9,455.79 817.4,456.28 817.9,456.63 818.4,456.87 818.9,457.01 819.4,457.09 819.9,457.1 820.4,457.05 820.9,456.93 821.4,456.71 821.9,456.34 822.4,455.78 822.9,455.01 823.4,454.02 823.9,452.86 824.4,451.65 824.9,450.53 825.4,449.69 825.9,449.27 826.4,449.28 826.9,449.62 827.4,450.22 827.9,451 828.4,451.89 828.9,452.79 829.4,453.63 829.9,454.37 830.4,454.97 830.9,455.43 831.4,455.76 831.9,455.98 832.4,456.12 832.9,456.2 833.4,456.24 833.9,456.26 834.4,456.26 834.9,456.26 835.4,456.25 835.9,456.25 836.4,456.24 836.9,456.25 837.4,456.25 837.9,456.25 838.4,456.26 838.9,456.27 839.4,456.28 839.9,456.3 840.4,456.32 840.9,456.34 841.4,456.36 841.9,456.38 842.4,456.4 842.9,456.43 843.4,456.46 843.9,456.49 844.4,456.52 844.9,456.55 845.4,456.58 845.9,456.61 846.4,456.64 846.9,456.67 847.4,456.71 847.9,456.74 848.4,456.77 848.9,456.8 849.4,456.84 849.9,456.87 850.4,456.9 850.9,456.93 851.4,456.96 851.9,456.99 852.4,457.01 852.9,457.04 853.4,457.06 853.9,457.09 854.4,457.11 854.9,457.13 855.4,457.15 855.9,457.17 856.4,457.19 856.9,457.21 857.4,457.23 857.9,457.24 858.4,457.26 858.9,457.27 859.4,457.28 859.9,457.29 860.4,457.3 860.9,457.31 861.4,457.32 861.9,457.33 862.4,457.34 862.9,457.34 863.4,457.35 863.9,457.36 864.4,457.36 864.9,457.37 865.4,457.37 865.9,457.37 866.4,457.38 866.9,457.38 867.4,457.38 867.9,457.38 868.4,457.39 868.9,457.39 869.4,457.39 869.9,457.39 870.4,457.39 870.9,457.39 871.4,457.39 871.9,457.39 872.4,457.4 872.9,457.4 873.4,457.4 873.9,457.4 874.4,457.4 874.9,457.4 875.4,457.4 875.9,457.4 876.4,457.4 876.9,457.4 877.4,457.4 877.9,457.4 878.4,457.4 878.9,457.4 879.4,457.4 879.9,457.4 880.4,457.4 880.9,457.4 881.4,457.4 881.9,457.4 882.4,457.4 882.9,457.4 883.4,457.4 883.9,457.4 884.4,457.4 884.9,457.4 885.4,457.4 885.9,457.4 886.4,457.4 886.9,457.4 887.4,457.4 887.9,457.4 888.4,457.4 888.9,457.4 889.4,457.4 889.9,457.4 890.4,457.4 890.9,457.4 891.4,457.4 891.9,457.4 892.4,457.4 892.9,457.4 893.4,457.4 893.9,457.4 894.4,457.4 894.9,457.4 895.4,457.4 895.9,457.4 896.4,457.4 896.9,457.4 897.4,457.4 897.9,457.4 898.4,457.4 898.9,457.4 899.4,457.4 899.9,457.4 900.4,457.4 900.9,457.4 901.4,457.4 901.9,457.4 902.4,457.4 902.9,457.4 903.4,457.4 903.9,457.4 904.4,457.4 904.9,457.4 905.4,457.4 905.9,457.4 906.4,457.4 906.9,457.4 907.4,457.4 907.9,457.4 908.4,457.4 908.9,457.4 909.4,457.4 909.9,457.4 910.4,457.4 910.9,457.4 911.4,457.4 911.9,457.4 912.4,457.4 912.9,457.4 913.4,457.4 913.9,457.4 914.4,457.4 914.9,457.4 915.4,457.4 915.9,457.4 916.4,457.4 916.9,457.4 917.4,457.4 917.9,457.4 918.4,457.4 918.9,457.4 919.4,457.4 919.9,457.4 920.4,457.4 920.9,457.4 921.4,457.4 921.9,457.4 922.4,457.4 922.9,457.4 923.4,457.4 923.9,457.4 924.4,457.4 924.9,457.4 925.4,457.4 925.9,457.4 926.4,457.4 926.9,457.4 927.4,457.4 927.9,457.4 928.4,457.4 928.9,457.4 929.4,457.4 929.9,457.4 930.4,457.4 930.9,457.4 931.4,457.4 931.9,457.4 932.4,457.4 932.9,457.4 933.4,457.4 933.9,457.4 934.4,457.4 934.9,457.4 935.4,457.4 935.9,457.4 936.4,457.4 936.9,457.4 937.4,457.4 937.9,457.4 938.4,457.4 938.9,457.4 939.4,457.4 939.9,457.4 940.4,457.4 940.9,457.4 941.4,457.4 941.9,457.4 942.4,457.4 942.9,457.4 943.4,457.4 943.9,457.4 944.4,457.4 944.9,457.4 945.4,457.4 945.9,457.4 946.4,457.4 946.9,457.4 947.4,457.4 947.9,457.4 948.4,457.4 948.9,457.4 949.4,457.4 949.9,457.4 950.4,457.4 950.9,457.4 951.4,457.4 951.9,457.4 952.4,457.4 952.9,457.4 953.4,457.4 953.9,457.4 954.4,457.4 954.9,457.4 955.4,457.4 955.9,457.4 956.4,457.4 956.9,457.4 957.4,457.4 957.9,457.4 958.4,457.4 958.9,457.4 959.4,457.4 959.9,457.4 960.4,457.4 960.9,457.4 961.4,457.4 961.9,457.4 962.4,457.4 962.9,457.4 963.4,457.4 963.9,457.4 964.4,457.4 964.9,457.4 965.4,457.4 965.9,457.4 966.4,457.4 966.9,457.4 967.4,457.4 967.9,457.4 968.4,457.4 968.9,457.4 969.4,457.4 969.9,457.4 970.4,457.4 970.9,457.4 971.4,457.4 971.9,457.4 972.4,457.4 972.9,457.4 973.4,457.4 973.9,457.4 974.4,457.4 974.9,457.4 975.4,457.4 975.9,457.4 976.4,457.4 976.9,457.4 977.4,457.4 977.9,457.4 978.4,457.4 978.9,457.4 979.4,457.4 979.9,457.4 980.4,457.4 980.9,457.4 981.4,457.4 981.9,457.4 982.4,457.4 982.9,457.4 983.4,457.4 983.9,457.4 984.4,457.4 984.9,457.4 985.4,457.4 985.9,457.4 986.4,457.4 986.9,457.4 987.4,457.4 987.9,457.4 988.4,457.4 988.9,457.4 989.4,457.4 989.9,457.4 990.4,457.4 990.9,457.4 991.4,457.4 991.9,457.4 992.4,457.4 992.9,457.4 993.4,457.4 993.9,457.4 994.4,457.4 994.9,457.4 995.4,457.4 995.9,457.4 996.4,457.4 996.9,457.4 997.4,457.4 997.9,457.4 998.4,457.4 998.9,457.4 999.4,457.4 999.9,457.4 1000.4,457.4 1000.9,457.4 1001.4,457.4 1001.9,457.4 1002.4,457.4 1002.9,457.4 1003.4,457.4 1003.9,457.4 1004.4,457.4 1004.9,457.4 1005.4,457.4 1005.9,457.4 1006.4,457.4 1006.9,457.4 1007.4,457.4 1007.9,457.4 1008.4,457.4 1008.9,457.4 1009.4,457.4 1009.9,457.4 1010.4,457.4 1010.9,457.4 1011.4,457.4 1011.9,457.4 1012.4,457.4 1012.9,457.4 1013.4,457.4 1013.9,457.4 1014.4,457.4 1014.9,457.4 1015.4,457.4 1015.9,457.4 1016.4,457.4 1016.9,457.4 1017.4,457.4 1017.9,457.4 1018.4,457.4 1018.9,457.4 1019.4,457.4 1019.9,457.4 1020.4,457.4 1020.9,457.4 1021.4,457.4 1021.9,457.4 1022.4,457.4 1022.9,457.4 1023.4,457.4 1023.9,457.4 1024.4,457.4 1024.9,457.4 1025.4,457.4 1025.9,457.4 1026.4,457.4 1026.9,457.4 1027.4,457.4 1027.9,457.4 1028.4,457.4 1028.9,457.4 1029.4,457.4 1029.9,457.4 1030.4,457.4 1030.9,457.4 1031.4,457.4 1031.9,457.4 1032.4,457.4 1032.9,457.4 1033.4,457.4 1033.9,457.4 1034.4,457.4 1034.9,457.4 1035.4,457.4 1035.9,457.4 1036.4,457.4 1036.9,457.4 1037.4,457.4 1037.9,457.4 1038.4,457.4 1038.9,457.4 1039.4,457.4 1039.9,457.4 1040.4,457.4 1040.9,457.4 1041.4,457.4 1041.9,457.4 1042.4,457.4 1042.9,457.4 1043.4,457.4 1043.9,457.4 1044.4,457.4 1044.9,457.4 1045.4,457.4 1045.9,457.4 1046.4,457.4 1046.9,457.4 1047.4,457.4 1047.9,457.4 1048.4,457.4 1048.9,457.4 1049.4,457.4 1049.9,457.4 1050.4,457.4 1050.9,457.4 1051.4,457.4 1051.9,457.4 1052.4,457.4 1052.9,457.4 1053.4,457.4 1053.9,457.4 1054.4,457.4 1054.9,457.4 1055.4,457.4 1055.9,457.4 1056.4,457.4 1056.9,457.4 1057.4,457.4"/>
<line x1="200.9" y1="498.7" x2="200.9" y2="602.3" stroke="#3c3c3c" stroke-width="1.4"/>
<line x1="196.4" y1="598.3" x2="200.9" y2="598.3" stroke="#3c3c3c" stroke-width="1"/>
<line x1="198.9" y1="586.27" x2="200.9" y2="586.27" stroke="#3c3c3c" stroke-width="1"/>
<line x1="198.9" y1="574.25" x2="200.9" y2="574.25" stroke="#3c3c3c" stroke-width="1"/>
<line x1="198.9" y1="562.22" x2="200.9" y2="562.22" stroke="#3c3c3c" stroke-width="1"/>
<line x1="198.9" y1="550.2" x2="200.9" y2="550.2" stroke="#3c3c3c" stroke-width="1"/>
<line x1="196.4" y1="538.17" x2="200.9" y2="538.17" stroke="#3c3c3c" stroke-width="1"/>
<line x1="198.9" y1="526.15" x2="200.9" y2="526.15" stroke="#3c3c3c" stroke-width="1"/>
<line x1="198.9" y1="514.12" x2="200.9" y2="514.12" stroke="#3c3c3c" stroke-width="1"/>
<line x1="198.9" y1="502.1" x2="200.9" y2="502.1" stroke="#3c3c3c" stroke-width="1"/>
<text x="194.9" y="605.2" font-size="16" text-anchor="end" font-weight="normal" fill="#4a4a4a" textLength="7.1" lengthAdjust="spacingAndGlyphs">0</text>
<text x="194.9" y="545.07" font-size="16" text-anchor="end" font-weight="normal" fill="#4a4a4a" textLength="21.3" lengthAdjust="spacingAndGlyphs">250</text>
<rect x="200.9" y="598.8" width="856.9" height="2.3" fill="#b4b4b4"/>
<line x1="200.9" y1="601.6" x2="1057.8" y2="601.6" stroke="#3c3c3c" stroke-width="1.4"/>
<line x1="200.9" y1="601.6" x2="200.9" y2="606.4" stroke="#777" stroke-width="1"/>
<text x="201.2" y="625.6" font-size="16" text-anchor="middle" font-weight="normal" fill="#4a4a4a" textLength="7" lengthAdjust="spacingAndGlyphs">8</text>
<line x1="208.69" y1="601.6" x2="208.69" y2="603.8" stroke="#3c3c3c" stroke-width="1"/>
<line x1="216.48" y1="601.6" x2="216.48" y2="603.8" stroke="#3c3c3c" stroke-width="1"/>
<line x1="224.27" y1="601.6" x2="224.27" y2="603.8" stroke="#3c3c3c" stroke-width="1"/>
<line x1="232.06" y1="601.6" x2="232.06" y2="603.8" stroke="#3c3c3c" stroke-width="1"/>
<line x1="239.85" y1="601.6" x2="239.85" y2="606.4" stroke="#777" stroke-width="1"/>
<text x="240.15" y="625.6" font-size="16" text-anchor="middle" font-weight="normal" fill="#4a4a4a" textLength="7" lengthAdjust="spacingAndGlyphs">9</text>
<line x1="247.64" y1="601.6" x2="247.64" y2="603.8" stroke="#3c3c3c" stroke-width="1"/>
<line x1="255.43" y1="601.6" x2="255.43" y2="603.8" stroke="#3c3c3c" stroke-width="1"/>
<line x1="263.22" y1="601.6" x2="263.22" y2="603.8" stroke="#3c3c3c" stroke-width="1"/>
<line x1="271.01" y1="601.6" x2="271.01" y2="603.8" stroke="#3c3c3c" stroke-width="1"/>
<line x1="278.8" y1="601.6" x2="278.8" y2="606.4" stroke="#777" stroke-width="1"/>
<text x="279.1" y="625.6" font-size="16" text-anchor="middle" font-weight="normal" fill="#4a4a4a" textLength="14" lengthAdjust="spacingAndGlyphs">10</text>
<line x1="286.59" y1="601.6" x2="286.59" y2="603.8" stroke="#3c3c3c" stroke-width="1"/>
<line x1="294.38" y1="601.6" x2="294.38" y2="603.8" stroke="#3c3c3c" stroke-width="1"/>
<line x1="302.17" y1="601.6" x2="302.17" y2="603.8" stroke="#3c3c3c" stroke-width="1"/>
<line x1="309.96" y1="601.6" x2="309.96" y2="603.8" stroke="#3c3c3c" stroke-width="1"/>
<line x1="317.75" y1="601.6" x2="317.75" y2="606.4" stroke="#777" stroke-width="1"/>
<text x="318.05" y="625.6" font-size="16" text-anchor="middle" font-weight="normal" fill="#4a4a4a" textLength="14" lengthAdjust="spacingAndGlyphs">11</text>
<line x1="325.54" y1="601.6" x2="325.54" y2="603.8" stroke="#3c3c3c" stroke-width="1"/>
<line x1="333.33" y1="601.6" x2="333.33" y2="603.8" stroke="#3c3c3c" stroke-width="1"/>
<line x1="341.12" y1="601.6" x2="341.12" y2="603.8" stroke="#3c3c3c" stroke-width="1"/>
<line x1="348.91" y1="601.6" x2="348.91" y2="603.8" stroke="#3c3c3c" stroke-width="1"/>
<line x1="356.7" y1="601.6" x2="356.7" y2="606.4" stroke="#777" stroke-width="1"/>
<text x="357" y="625.6" font-size="16" text-anchor="middle" font-weight="normal" fill="#4a4a4a" textLength="14" lengthAdjust="spacingAndGlyphs">12</text>
<line x1="364.49" y1="601.6" x2="364.49" y2="603.8" stroke="#3c3c3c" stroke-width="1"/>
<line x1="372.28" y1="601.6" x2="372.28" y2="603.8" stroke="#3c3c3c" stroke-width="1"/>
<line x1="380.07" y1="601.6" x2="380.07" y2="603.8" stroke="#3c3c3c" stroke-width="1"/>
<line x1="387.86" y1="601.6" x2="387.86" y2="603.8" stroke="#3c3c3c" stroke-width="1"/>
<line x1="395.65" y1="601.6" x2="395.65" y2="606.4" stroke="#777" stroke-width="1"/>
<text x="395.95" y="625.6" font-size="16" text-anchor="middle" font-weight="normal" fill="#4a4a4a" textLength="14" lengthAdjust="spacingAndGlyphs">13</text>
<line x1="403.44" y1="601.6" x2="403.44" y2="603.8" stroke="#3c3c3c" stroke-width="1"/>
<line x1="411.23" y1="601.6" x2="411.23" y2="603.8" stroke="#3c3c3c" stroke-width="1"/>
<line x1="419.02" y1="601.6" x2="419.02" y2="603.8" stroke="#3c3c3c" stroke-width="1"/>
<line x1="426.81" y1="601.6" x2="426.81" y2="603.8" stroke="#3c3c3c" stroke-width="1"/>
<line x1="434.6" y1="601.6" x2="434.6" y2="606.4" stroke="#777" stroke-width="1"/>
<text x="434.9" y="625.6" font-size="16" text-anchor="middle" font-weight="normal" fill="#4a4a4a" textLength="14" lengthAdjust="spacingAndGlyphs">14</text>
<line x1="442.39" y1="601.6" x2="442.39" y2="603.8" stroke="#3c3c3c" stroke-width="1"/>
<line x1="450.18" y1="601.6" x2="450.18" y2="603.8" stroke="#3c3c3c" stroke-width="1"/>
<line x1="457.97" y1="601.6" x2="457.97" y2="603.8" stroke="#3c3c3c" stroke-width="1"/>
<line x1="465.76" y1="601.6" x2="465.76" y2="603.8" stroke="#3c3c3c" stroke-width="1"/>
<line x1="473.55" y1="601.6" x2="473.55" y2="606.4" stroke="#777" stroke-width="1"/>
<text x="473.85" y="625.6" font-size="16" text-anchor="middle" font-weight="normal" fill="#4a4a4a" textLength="14" lengthAdjust="spacingAndGlyphs">15</text>
<line x1="481.34" y1="601.6" x2="481.34" y2="603.8" stroke="#3c3c3c" stroke-width="1"/>
<line x1="489.13" y1="601.6" x2="489.13" y2="603.8" stroke="#3c3c3c" stroke-width="1"/>
<line x1="496.92" y1="601.6" x2="496.92" y2="603.8" stroke="#3c3c3c" stroke-width="1"/>
<line x1="504.71" y1="601.6" x2="504.71" y2="603.8" stroke="#3c3c3c" stroke-width="1"/>
<line x1="512.5" y1="601.6" x2="512.5" y2="606.4" stroke="#777" stroke-width="1"/>
<text x="512.8" y="625.6" font-size="16" text-anchor="middle" font-weight="normal" fill="#4a4a4a" textLength="14" lengthAdjust="spacingAndGlyphs">16</text>
<line x1="520.29" y1="601.6" x2="520.29" y2="603.8" stroke="#3c3c3c" stroke-width="1"/>
<line x1="528.08" y1="601.6" x2="528.08" y2="603.8" stroke="#3c3c3c" stroke-width="1"/>
<line x1="535.87" y1="601.6" x2="535.87" y2="603.8" stroke="#3c3c3c" stroke-width="1"/>
<line x1="543.66" y1="601.6" x2="543.66" y2="603.8" stroke="#3c3c3c" stroke-width="1"/>
<line x1="551.45" y1="601.6" x2="551.45" y2="606.4" stroke="#777" stroke-width="1"/>
<text x="551.75" y="625.6" font-size="16" text-anchor="middle" font-weight="normal" fill="#4a4a4a" textLength="14" lengthAdjust="spacingAndGlyphs">17</text>
<line x1="559.24" y1="601.6" x2="559.24" y2="603.8" stroke="#3c3c3c" stroke-width="1"/>
<line x1="567.03" y1="601.6" x2="567.03" y2="603.8" stroke="#3c3c3c" stroke-width="1"/>
<line x1="574.82" y1="601.6" x2="574.82" y2="603.8" stroke="#3c3c3c" stroke-width="1"/>
<line x1="582.61" y1="601.6" x2="582.61" y2="603.8" stroke="#3c3c3c" stroke-width="1"/>
<line x1="590.4" y1="601.6" x2="590.4" y2="606.4" stroke="#777" stroke-width="1"/>
<text x="590.7" y="625.6" font-size="16" text-anchor="middle" font-weight="normal" fill="#4a4a4a" textLength="14" lengthAdjust="spacingAndGlyphs">18</text>
<line x1="598.19" y1="601.6" x2="598.19" y2="603.8" stroke="#3c3c3c" stroke-width="1"/>
<line x1="605.98" y1="601.6" x2="605.98" y2="603.8" stroke="#3c3c3c" stroke-width="1"/>
<line x1="613.77" y1="601.6" x2="613.77" y2="603.8" stroke="#3c3c3c" stroke-width="1"/>
<line x1="621.56" y1="601.6" x2="621.56" y2="603.8" stroke="#3c3c3c" stroke-width="1"/>
<line x1="629.35" y1="601.6" x2="629.35" y2="606.4" stroke="#777" stroke-width="1"/>
<text x="629.65" y="625.6" font-size="16" text-anchor="middle" font-weight="normal" fill="#4a4a4a" textLength="14" lengthAdjust="spacingAndGlyphs">19</text>
<line x1="637.14" y1="601.6" x2="637.14" y2="603.8" stroke="#3c3c3c" stroke-width="1"/>
<line x1="644.93" y1="601.6" x2="644.93" y2="603.8" stroke="#3c3c3c" stroke-width="1"/>
<line x1="652.72" y1="601.6" x2="652.72" y2="603.8" stroke="#3c3c3c" stroke-width="1"/>
<line x1="660.51" y1="601.6" x2="660.51" y2="603.8" stroke="#3c3c3c" stroke-width="1"/>
<line x1="668.3" y1="601.6" x2="668.3" y2="606.4" stroke="#777" stroke-width="1"/>
<text x="668.6" y="625.6" font-size="16" text-anchor="middle" font-weight="normal" fill="#4a4a4a" textLength="14" lengthAdjust="spacingAndGlyphs">20</text>
<line x1="676.09" y1="601.6" x2="676.09" y2="603.8" stroke="#3c3c3c" stroke-width="1"/>
<line x1="683.88" y1="601.6" x2="683.88" y2="603.8" stroke="#3c3c3c" stroke-width="1"/>
<line x1="691.67" y1="601.6" x2="691.67" y2="603.8" stroke="#3c3c3c" stroke-width="1"/>
<line x1="699.46" y1="601.6" x2="699.46" y2="603.8" stroke="#3c3c3c" stroke-width="1"/>
<line x1="707.25" y1="601.6" x2="707.25" y2="606.4" stroke="#777" stroke-width="1"/>
<text x="707.55" y="625.6" font-size="16" text-anchor="middle" font-weight="normal" fill="#4a4a4a" textLength="14" lengthAdjust="spacingAndGlyphs">21</text>
<line x1="715.04" y1="601.6" x2="715.04" y2="603.8" stroke="#3c3c3c" stroke-width="1"/>
<line x1="722.83" y1="601.6" x2="722.83" y2="603.8" stroke="#3c3c3c" stroke-width="1"/>
<line x1="730.62" y1="601.6" x2="730.62" y2="603.8" stroke="#3c3c3c" stroke-width="1"/>
<line x1="738.41" y1="601.6" x2="738.41" y2="603.8" stroke="#3c3c3c" stroke-width="1"/>
<line x1="746.2" y1="601.6" x2="746.2" y2="606.4" stroke="#777" stroke-width="1"/>
<text x="746.5" y="625.6" font-size="16" text-anchor="middle" font-weight="normal" fill="#4a4a4a" textLength="14" lengthAdjust="spacingAndGlyphs">22</text>
<line x1="753.99" y1="601.6" x2="753.99" y2="603.8" stroke="#3c3c3c" stroke-width="1"/>
<line x1="761.78" y1="601.6" x2="761.78" y2="603.8" stroke="#3c3c3c" stroke-width="1"/>
<line x1="769.57" y1="601.6" x2="769.57" y2="603.8" stroke="#3c3c3c" stroke-width="1"/>
<line x1="777.36" y1="601.6" x2="777.36" y2="603.8" stroke="#3c3c3c" stroke-width="1"/>
<line x1="785.15" y1="601.6" x2="785.15" y2="606.4" stroke="#777" stroke-width="1"/>
<text x="785.45" y="625.6" font-size="16" text-anchor="middle" font-weight="normal" fill="#4a4a4a" textLength="14" lengthAdjust="spacingAndGlyphs">23</text>
<line x1="792.94" y1="601.6" x2="792.94" y2="603.8" stroke="#3c3c3c" stroke-width="1"/>
<line x1="800.73" y1="601.6" x2="800.73" y2="603.8" stroke="#3c3c3c" stroke-width="1"/>
<line x1="808.52" y1="601.6" x2="808.52" y2="603.8" stroke="#3c3c3c" stroke-width="1"/>
<line x1="816.31" y1="601.6" x2="816.31" y2="603.8" stroke="#3c3c3c" stroke-width="1"/>
<line x1="824.1" y1="601.6" x2="824.1" y2="606.4" stroke="#777" stroke-width="1"/>
<text x="824.4" y="625.6" font-size="16" text-anchor="middle" font-weight="normal" fill="#4a4a4a" textLength="14" lengthAdjust="spacingAndGlyphs">24</text>
<line x1="831.89" y1="601.6" x2="831.89" y2="603.8" stroke="#3c3c3c" stroke-width="1"/>
<line x1="839.68" y1="601.6" x2="839.68" y2="603.8" stroke="#3c3c3c" stroke-width="1"/>
<line x1="847.47" y1="601.6" x2="847.47" y2="603.8" stroke="#3c3c3c" stroke-width="1"/>
<line x1="855.26" y1="601.6" x2="855.26" y2="603.8" stroke="#3c3c3c" stroke-width="1"/>
<line x1="863.05" y1="601.6" x2="863.05" y2="606.4" stroke="#777" stroke-width="1"/>
<text x="863.35" y="625.6" font-size="16" text-anchor="middle" font-weight="normal" fill="#4a4a4a" textLength="14" lengthAdjust="spacingAndGlyphs">25</text>
<line x1="870.84" y1="601.6" x2="870.84" y2="603.8" stroke="#3c3c3c" stroke-width="1"/>
<line x1="878.63" y1="601.6" x2="878.63" y2="603.8" stroke="#3c3c3c" stroke-width="1"/>
<line x1="886.42" y1="601.6" x2="886.42" y2="603.8" stroke="#3c3c3c" stroke-width="1"/>
<line x1="894.21" y1="601.6" x2="894.21" y2="603.8" stroke="#3c3c3c" stroke-width="1"/>
<line x1="902" y1="601.6" x2="902" y2="606.4" stroke="#777" stroke-width="1"/>
<text x="902.3" y="625.6" font-size="16" text-anchor="middle" font-weight="normal" fill="#4a4a4a" textLength="14" lengthAdjust="spacingAndGlyphs">26</text>
<line x1="909.79" y1="601.6" x2="909.79" y2="603.8" stroke="#3c3c3c" stroke-width="1"/>
<line x1="917.58" y1="601.6" x2="917.58" y2="603.8" stroke="#3c3c3c" stroke-width="1"/>
<line x1="925.37" y1="601.6" x2="925.37" y2="603.8" stroke="#3c3c3c" stroke-width="1"/>
<line x1="933.16" y1="601.6" x2="933.16" y2="603.8" stroke="#3c3c3c" stroke-width="1"/>
<line x1="940.95" y1="601.6" x2="940.95" y2="606.4" stroke="#777" stroke-width="1"/>
<text x="941.25" y="625.6" font-size="16" text-anchor="middle" font-weight="normal" fill="#4a4a4a" textLength="14" lengthAdjust="spacingAndGlyphs">27</text>
<line x1="948.74" y1="601.6" x2="948.74" y2="603.8" stroke="#3c3c3c" stroke-width="1"/>
<line x1="956.53" y1="601.6" x2="956.53" y2="603.8" stroke="#3c3c3c" stroke-width="1"/>
<line x1="964.32" y1="601.6" x2="964.32" y2="603.8" stroke="#3c3c3c" stroke-width="1"/>
<line x1="972.11" y1="601.6" x2="972.11" y2="603.8" stroke="#3c3c3c" stroke-width="1"/>
<line x1="979.9" y1="601.6" x2="979.9" y2="606.4" stroke="#777" stroke-width="1"/>
<text x="980.2" y="625.6" font-size="16" text-anchor="middle" font-weight="normal" fill="#4a4a4a" textLength="14" lengthAdjust="spacingAndGlyphs">28</text>
<line x1="987.69" y1="601.6" x2="987.69" y2="603.8" stroke="#3c3c3c" stroke-width="1"/>
<line x1="995.48" y1="601.6" x2="995.48" y2="603.8" stroke="#3c3c3c" stroke-width="1"/>
<line x1="1003.27" y1="601.6" x2="1003.27" y2="603.8" stroke="#3c3c3c" stroke-width="1"/>
<line x1="1011.06" y1="601.6" x2="1011.06" y2="603.8" stroke="#3c3c3c" stroke-width="1"/>
<line x1="1018.85" y1="601.6" x2="1018.85" y2="606.4" stroke="#777" stroke-width="1"/>
<text x="1019.15" y="625.6" font-size="16" text-anchor="middle" font-weight="normal" fill="#4a4a4a" textLength="14" lengthAdjust="spacingAndGlyphs">29</text>
<line x1="1026.64" y1="601.6" x2="1026.64" y2="603.8" stroke="#3c3c3c" stroke-width="1"/>
<line x1="1034.43" y1="601.6" x2="1034.43" y2="603.8" stroke="#3c3c3c" stroke-width="1"/>
<line x1="1042.22" y1="601.6" x2="1042.22" y2="603.8" stroke="#3c3c3c" stroke-width="1"/>
<line x1="1050.01" y1="601.6" x2="1050.01" y2="603.8" stroke="#3c3c3c" stroke-width="1"/>
<line x1="1057.8" y1="601.6" x2="1057.8" y2="606.4" stroke="#777" stroke-width="1"/>
<text x="1058.1" y="625.6" font-size="16" text-anchor="middle" font-weight="normal" fill="#4a4a4a" textLength="14" lengthAdjust="spacingAndGlyphs">30</text>
<text transform="translate(166.2,550.15) rotate(-90)" font-size="15.5" text-anchor="middle" fill="#555" textLength="79" lengthAdjust="spacingAndGlyphs">Signal [EU]</text>
<polyline fill="none" stroke="#4040ff" stroke-width="1.6" stroke-linejoin="round" points="200.9,598.3 201.4,598.3 201.9,598.3 202.4,598.3 202.9,598.3 203.4,598.3 203.9,598.3 204.4,598.3 204.9,598.3 205.4,598.3 205.9,598.3 206.4,598.3 206.9,598.3 207.4,598.3 207.9,598.3 208.4,598.3 208.9,598.3 209.4,598.3 209.9,598.3 210.4,598.3 210.9,598.3 211.4,598.3 211.9,598.3 212.4,598.3 212.9,598.3 213.4,598.3 213.9,598.3 214.4,598.3 214.9,598.3 215.4,598.3 215.9,598.3 216.4,598.3 216.9,598.3 217.4,598.3 217.9,598.3 218.4,598.3 218.9,598.3 219.4,598.3 219.9,598.3 220.4,598.3 220.9,598.3 221.4,598.3 221.9,598.3 222.4,598.3 222.9,598.3 223.4,598.3 223.9,598.3 224.4,598.3 224.9,598.3 225.4,598.3 225.9,598.3 226.4,598.3 226.9,598.3 227.4,598.3 227.9,598.3 228.4,598.3 228.9,598.3 229.4,598.3 229.9,598.3 230.4,598.3 230.9,598.3 231.4,598.3 231.9,598.3 232.4,598.3 232.9,598.3 233.4,598.3 233.9,598.3 234.4,598.3 234.9,598.3 235.4,598.3 235.9,598.3 236.4,598.3 236.9,598.3 237.4,598.3 237.9,598.3 238.4,598.3 238.9,598.3 239.4,598.3 239.9,598.3 240.4,598.3 240.9,598.3 241.4,598.3 241.9,598.3 242.4,598.3 242.9,598.3 243.4,598.3 243.9,598.3 244.4,598.3 244.9,598.3 245.4,598.3 245.9,598.3 246.4,598.3 246.9,598.3 247.4,598.3 247.9,598.3 248.4,598.3 248.9,598.3 249.4,598.3 249.9,598.3 250.4,598.3 250.9,598.3 251.4,598.3 251.9,598.3 252.4,598.3 252.9,598.3 253.4,598.3 253.9,598.3 254.4,598.3 254.9,598.3 255.4,598.3 255.9,598.3 256.4,598.3 256.9,598.3 257.4,598.3 257.9,598.3 258.4,598.3 258.9,598.3 259.4,598.3 259.9,598.3 260.4,598.3 260.9,598.3 261.4,598.3 261.9,598.3 262.4,598.3 262.9,598.3 263.4,598.3 263.9,598.3 264.4,598.3 264.9,598.3 265.4,598.3 265.9,598.3 266.4,598.3 266.9,598.3 267.4,598.3 267.9,598.3 268.4,598.3 268.9,598.3 269.4,598.3 269.9,598.3 270.4,598.3 270.9,598.3 271.4,598.3 271.9,598.3 272.4,598.3 272.9,598.3 273.4,598.3 273.9,598.3 274.4,598.3 274.9,598.3 275.4,598.3 275.9,598.3 276.4,598.3 276.9,598.3 277.4,598.3 277.9,598.3 278.4,598.3 278.9,598.3 279.4,598.3 279.9,598.3 280.4,598.3 280.9,598.3 281.4,598.3 281.9,598.3 282.4,598.3 282.9,598.3 283.4,598.3 283.9,598.3 284.4,598.3 284.9,598.3 285.4,598.3 285.9,598.3 286.4,598.3 286.9,598.3 287.4,598.3 287.9,598.3 288.4,598.3 288.9,598.3 289.4,598.3 289.9,598.3 290.4,598.3 290.9,598.3 291.4,598.3 291.9,598.3 292.4,598.3 292.9,598.3 293.4,598.3 293.9,598.3 294.4,598.3 294.9,598.3 295.4,598.3 295.9,598.3 296.4,598.3 296.9,598.3 297.4,598.3 297.9,598.3 298.4,598.3 298.9,598.3 299.4,598.3 299.9,598.3 300.4,598.3 300.9,598.3 301.4,598.3 301.9,598.3 302.4,598.3 302.9,598.3 303.4,598.3 303.9,598.3 304.4,598.3 304.9,598.3 305.4,598.3 305.9,598.3 306.4,598.3 306.9,598.3 307.4,598.3 307.9,598.3 308.4,598.3 308.9,598.3 309.4,598.3 309.9,598.3 310.4,598.3 310.9,598.3 311.4,598.3 311.9,598.3 312.4,598.3 312.9,598.3 313.4,598.3 313.9,598.3 314.4,598.3 314.9,598.3 315.4,598.3 315.9,598.3 316.4,598.3 316.9,598.3 317.4,598.3 317.9,598.3 318.4,598.3 318.9,598.3 319.4,598.3 319.9,598.3 320.4,598.3 320.9,598.3 321.4,598.3 321.9,598.3 322.4,598.3 322.9,598.3 323.4,598.3 323.9,598.3 324.4,598.3 324.9,598.3 325.4,598.3 325.9,598.3 326.4,598.3 326.9,598.3 327.4,598.3 327.9,598.3 328.4,598.3 328.9,598.3 329.4,598.3 329.9,598.3 330.4,598.3 330.9,598.3 331.4,598.3 331.9,598.3 332.4,598.3 332.9,598.3 333.4,598.3 333.9,598.3 334.4,598.3 334.9,598.3 335.4,598.3 335.9,598.3 336.4,598.3 336.9,598.3 337.4,598.3 337.9,598.3 338.4,598.3 338.9,598.3 339.4,598.3 339.9,598.3 340.4,598.3 340.9,598.3 341.4,598.3 341.9,598.3 342.4,598.3 342.9,598.3 343.4,598.3 343.9,598.3 344.4,598.3 344.9,598.3 345.4,598.3 345.9,598.3 346.4,598.3 346.9,598.3 347.4,598.3 347.9,598.3 348.4,598.3 348.9,598.3 349.4,598.3 349.9,598.3 350.4,598.3 350.9,598.3 351.4,598.3 351.9,598.3 352.4,598.3 352.9,598.3 353.4,598.3 353.9,598.3 354.4,598.3 354.9,598.3 355.4,598.3 355.9,598.3 356.4,598.3 356.9,598.3 357.4,598.3 357.9,598.3 358.4,598.3 358.9,598.3 359.4,598.3 359.9,598.3 360.4,598.3 360.9,598.3 361.4,598.3 361.9,598.3 362.4,598.3 362.9,598.3 363.4,598.3 363.9,598.3 364.4,598.3 364.9,598.3 365.4,598.3 365.9,598.29 366.4,598.28 366.9,598.26 367.4,598.22 367.9,598.15 368.4,598.04 368.9,597.87 369.4,597.66 369.9,597.39 370.4,597.09 370.9,596.8 371.4,596.56 371.9,596.41 372.4,596.38 372.9,596.44 373.4,596.57 373.9,596.76 374.4,596.98 374.9,597.22 375.4,597.45 375.9,597.66 376.4,597.84 376.9,597.98 377.4,598.09 377.9,598.17 378.4,598.22 378.9,598.25 379.4,598.27 379.9,598.29 380.4,598.29 380.9,598.3 381.4,598.3 381.9,598.3 382.4,598.3 382.9,598.3 383.4,598.3 383.9,598.3 384.4,598.3 384.9,598.3 385.4,598.3 385.9,598.3 386.4,598.3 386.9,598.3 387.4,598.3 387.9,598.3 388.4,598.3 388.9,598.3 389.4,598.3 389.9,598.3 390.4,598.3 390.9,598.3 391.4,598.3 391.9,598.3 392.4,598.3 392.9,598.3 393.4,598.3 393.9,598.3 394.4,598.3 394.9,598.3 395.4,598.3 395.9,598.3 396.4,598.3 396.9,598.3 397.4,598.3 397.9,598.3 398.4,598.3 398.9,598.3 399.4,598.3 399.9,598.3 400.4,598.3 400.9,598.3 401.4,598.3 401.9,598.3 402.4,598.3 402.9,598.29 403.4,598.27 403.9,598.23 404.4,598.11 404.9,597.86 405.4,597.31 405.9,596.24 406.4,594.28 406.9,590.95 407.4,585.71 407.9,578.12 408.4,568.01 408.9,555.74 409.4,542.31 409.9,529.35 410.4,518.8 410.9,512.48 411.4,511.45 411.9,514.47 412.4,520.74 412.9,529.49 413.4,539.78 413.9,550.59 414.4,561.01 414.9,570.36 415.4,578.22 415.9,584.47 416.4,589.17 416.9,592.52 417.4,594.79 417.9,596.26 418.4,597.16 418.9,597.69 419.4,597.99 419.9,598.15 420.4,598.23 420.9,598.27 421.4,598.29 421.9,598.29 422.4,598.3 422.9,598.3 423.4,598.3 423.9,598.3 424.4,598.3 424.9,598.3 425.4,598.3 425.9,598.3 426.4,598.3 426.9,598.3 427.4,598.3 427.9,598.3 428.4,598.3 428.9,598.3 429.4,598.3 429.9,598.3 430.4,598.3 430.9,598.3 431.4,598.3 431.9,598.3 432.4,598.3 432.9,598.3 433.4,598.3 433.9,598.3 434.4,598.3 434.9,598.3 435.4,598.3 435.9,598.3 436.4,598.3 436.9,598.3 437.4,598.3 437.9,598.3 438.4,598.3 438.9,598.3 439.4,598.3 439.9,598.3 440.4,598.3 440.9,598.3 441.4,598.3 441.9,598.3 442.4,598.3 442.9,598.3 443.4,598.3 443.9,598.3 444.4,598.3 444.9,598.29 445.4,598.28 445.9,598.25 446.4,598.19 446.9,598.06 447.4,597.8 447.9,597.36 448.4,596.63 448.9,595.51 449.4,593.96 449.9,591.96 450.4,589.64 450.9,587.23 451.4,585.04 451.9,583.43 452.4,582.7 452.9,582.86 453.4,583.66 453.9,585 454.4,586.71 454.9,588.62 455.4,590.55 455.9,592.35 456.4,593.92 456.9,595.21 457.4,596.21 457.9,596.94 458.4,597.46 458.9,597.79 459.4,598 459.9,598.12 460.4,598.17 460.9,598.16 461.4,598.08 461.9,597.93 462.4,597.69 462.9,597.34 463.4,596.88 463.9,596.32 464.4,595.73 464.9,595.17 465.4,594.73 465.9,594.48 466.4,594.47 466.9,594.63 467.4,594.93 467.9,595.33 468.4,595.79 468.9,596.27 469.4,596.72 469.9,597.13 470.4,597.46 470.9,597.73 471.4,597.92 471.9,598.06 472.4,598.16 472.9,598.22 473.4,598.25 473.9,598.27 474.4,598.28 474.9,598.28 475.4,598.26 475.9,598.23 476.4,598.18 476.9,598.09 477.4,597.98 477.9,597.83 478.4,597.65 478.9,597.46 479.4,597.29 479.9,597.16 480.4,597.1 480.9,597.11 481.4,597.17 481.9,597.27 482.4,597.4 482.9,597.54 483.4,597.69 483.9,597.83 484.4,597.95 484.9,598.05 485.4,598.13 485.9,598.19 486.4,598.23 486.9,598.26 487.4,598.28 487.9,598.29 488.4,598.29 488.9,598.3 489.4,598.3 489.9,598.3 490.4,598.3 490.9,598.3 491.4,598.3 491.9,598.3 492.4,598.3 492.9,598.3 493.4,598.29 493.9,598.28 494.4,598.25 494.9,598.17 495.4,597.98 495.9,597.56 496.4,596.7 496.9,595.06 497.4,592.18 497.9,587.46 498.4,580.34 498.9,570.42 499.4,557.8 499.9,543.21 500.4,528.14 500.9,514.66 501.4,504.94 501.9,500.75 502.4,502.08 502.9,507.34 503.4,515.86 503.9,526.68 504.4,538.64 504.9,550.66 505.4,561.83 505.9,571.53 506.4,579.47 506.9,585.6 507.4,590.08 507.9,593.21 508.4,595.27 508.9,596.57 509.4,597.36 509.9,597.8 510.4,598.03 510.9,598.12 511.4,598.1 511.9,597.95 512.4,597.58 512.9,596.87 513.4,595.61 513.9,593.56 514.4,590.47 514.9,586.19 515.4,580.78 515.9,574.57 516.4,568.2 516.9,562.56 517.4,558.57 517.9,556.95 518.4,557.63 518.9,559.95 519.4,563.63 519.9,568.26 520.4,573.34 520.9,578.42 521.4,583.12 521.9,587.19 522.4,590.5 522.9,593.05 523.4,594.92 523.9,596.21 524.4,597.06 524.9,597.59 525.4,597.91 525.9,598.08 526.4,598.15 526.9,598.13 527.4,598 527.9,597.73 528.4,597.21 528.9,596.33 529.4,594.96 529.9,593.01 530.4,590.45 530.9,587.4 531.4,584.12 531.9,581.04 532.4,578.62 532.9,577.3 533.4,577.25 533.9,578.13 534.4,579.78 534.9,581.99 535.4,584.53 535.9,587.15 536.4,589.65 536.9,591.87 537.4,593.71 537.9,595.16 538.4,596.24 538.9,597.01 539.4,597.52 539.9,597.85 540.4,598.05 540.9,598.15 541.4,598.2 541.9,598.2 542.4,598.16 542.9,598.07 543.4,597.93 543.9,597.71 544.4,597.42 544.9,597.08 545.4,596.71 545.9,596.35 546.4,596.07 546.9,595.92 547.4,595.91 547.9,596 548.4,596.19 548.9,596.43 549.4,596.72 549.9,597.02 550.4,597.31 550.9,597.56 551.4,597.77 551.9,597.94 552.4,598.06 552.9,598.15 553.4,598.21 553.9,598.25 554.4,598.27 554.9,598.28 555.4,598.29 555.9,598.3 556.4,598.3 556.9,598.3 557.4,598.3 557.9,598.3 558.4,598.3 558.9,598.3 559.4,598.3 559.9,598.3 560.4,598.3 560.9,598.3 561.4,598.3 561.9,598.3 562.4,598.3 562.9,598.3 563.4,598.3 563.9,598.29 564.4,598.28 564.9,598.25 565.4,598.2 565.9,598.1 566.4,597.95 566.9,597.71 567.4,597.38 567.9,596.95 568.4,596.45 568.9,595.93 569.4,595.46 569.9,595.11 570.4,594.94 570.9,594.97 571.4,595.14 571.9,595.42 572.4,595.79 572.9,596.2 573.4,596.62 573.9,597 574.4,597.34 574.9,597.63 575.4,597.84 575.9,598 576.4,598.12 576.9,598.19 577.4,598.24 577.9,598.27 578.4,598.28 578.9,598.29 579.4,598.3 579.9,598.3 580.4,598.3 580.9,598.3 581.4,598.3 581.9,598.3 582.4,598.3 582.9,598.3 583.4,598.3 583.9,598.3 584.4,598.3 584.9,598.3 585.4,598.3 585.9,598.3 586.4,598.3 586.9,598.3 587.4,598.3 587.9,598.3 588.4,598.3 588.9,598.3 589.4,598.3 589.9,598.3 590.4,598.3 590.9,598.3 591.4,598.3 591.9,598.3 592.4,598.3 592.9,598.3 593.4,598.3 593.9,598.3 594.4,598.3 594.9,598.3 595.4,598.3 595.9,598.3 596.4,598.29 596.9,598.28 597.4,598.25 597.9,598.17 598.4,597.98 598.9,597.58 599.4,596.78 599.9,595.29 600.4,592.74 600.9,588.67 601.4,582.69 601.9,574.62 602.4,564.67 602.9,553.58 603.4,542.63 603.9,533.42 604.4,527.51 604.9,525.96 605.4,527.99 605.9,532.8 606.4,539.79 606.9,548.2 607.4,557.17 607.9,565.93 608.4,573.88 608.9,580.63 609.4,586.05 609.9,590.15 610.4,593.11 610.9,595.13 611.4,596.44 611.9,597.26 612.4,597.74 612.9,598.01 613.4,598.16 613.9,598.23 614.4,598.27 614.9,598.28 615.4,598.29 615.9,598.28 616.4,598.26 616.9,598.22 617.4,598.14 617.9,597.99 618.4,597.73 618.9,597.32 619.4,596.74 619.9,595.95 620.4,595.01 620.9,593.97 621.4,592.96 621.9,592.15 622.4,591.66 622.9,591.58 623.4,591.82 623.9,592.3 624.4,592.98 624.9,593.78 625.4,594.61 625.9,595.42 626.4,596.14 626.9,596.75 627.4,597.23 627.9,597.59 628.4,597.85 628.9,598.03 629.4,598.14 629.9,598.21 630.4,598.25 630.9,598.28 631.4,598.29 631.9,598.29 632.4,598.29 632.9,598.29 633.4,598.27 633.9,598.23 634.4,598.15 634.9,597.98 635.4,597.68 635.9,597.16 636.4,596.34 636.9,595.14 637.4,593.54 637.9,591.59 638.4,589.44 638.9,587.35 639.4,585.64 639.9,584.58 640.4,584.38 640.9,584.83 641.4,585.81 641.9,587.2 642.4,588.84 642.9,590.57 643.4,592.24 643.9,593.75 644.4,595.02 644.9,596.04 645.4,596.8 645.9,597.35 646.4,597.72 646.9,597.96 647.4,598.11 647.9,598.2 648.4,598.25 648.9,598.27 649.4,598.29 649.9,598.29 650.4,598.3 650.9,598.3 651.4,598.3 651.9,598.3 652.4,598.3 652.9,598.3 653.4,598.3 653.9,598.3 654.4,598.3 654.9,598.3 655.4,598.3 655.9,598.3 656.4,598.3 656.9,598.3 657.4,598.3 657.9,598.3 658.4,598.3 658.9,598.3 659.4,598.3 659.9,598.3 660.4,598.3 660.9,598.3 661.4,598.3 661.9,598.3 662.4,598.3 662.9,598.3 663.4,598.3 663.9,598.3 664.4,598.3 664.9,598.3 665.4,598.3 665.9,598.3 666.4,598.3 666.9,598.3 667.4,598.3 667.9,598.29 668.4,598.28 668.9,598.27 669.4,598.24 669.9,598.19 670.4,598.11 670.9,598 671.4,597.85 671.9,597.68 672.4,597.49 672.9,597.32 673.4,597.18 673.9,597.11 674.4,597.1 674.9,597.15 675.4,597.25 675.9,597.37 676.4,597.52 676.9,597.67 677.4,597.81 677.9,597.93 678.4,598.04 678.9,598.12 679.4,598.18 679.9,598.23 680.4,598.25 680.9,598.27 681.4,598.27 681.9,598.27 682.4,598.24 682.9,598.19 683.4,598.11 683.9,597.97 684.4,597.76 684.9,597.49 685.4,597.16 685.9,596.79 686.4,596.43 686.9,596.13 687.4,595.94 687.9,595.9 688.4,595.97 688.9,596.14 689.4,596.38 689.9,596.66 690.4,596.96 690.9,597.24 691.4,597.51 691.9,597.73 692.4,597.9 692.9,598.04 693.4,598.13 693.9,598.2 694.4,598.24 694.9,598.27 695.4,598.28 695.9,598.29 696.4,598.3 696.9,598.3 697.4,598.3 697.9,598.3 698.4,598.3 698.9,598.3 699.4,598.3 699.9,598.3 700.4,598.3 700.9,598.3 701.4,598.3 701.9,598.3 702.4,598.3 702.9,598.3 703.4,598.3 703.9,598.3 704.4,598.3 704.9,598.3 705.4,598.3 705.9,598.3 706.4,598.3 706.9,598.3 707.4,598.3 707.9,598.3 708.4,598.3 708.9,598.29 709.4,598.27 709.9,598.22 710.4,598.11 710.9,597.86 711.4,597.36 711.9,596.4 712.4,594.7 712.9,591.92 713.4,587.72 713.9,581.87 714.4,574.42 714.9,565.8 715.4,556.9 715.9,548.91 716.4,543.15 716.9,540.64 717.4,541.4 717.9,544.5 718.4,549.52 718.9,555.91 719.4,562.98 719.9,570.08 720.4,576.69 720.9,582.44 721.4,587.13 721.9,590.77 722.4,593.43 722.9,595.28 723.4,596.5 723.9,597.28 724.4,597.74 724.9,598.01 725.4,598.15 725.9,598.23 726.4,598.27 726.9,598.29 727.4,598.29 727.9,598.3 728.4,598.3 728.9,598.3 729.4,598.3 729.9,598.3 730.4,598.3 730.9,598.3 731.4,598.3 731.9,598.3 732.4,598.3 732.9,598.3 733.4,598.3 733.9,598.3 734.4,598.29 734.9,598.28 735.4,598.26 735.9,598.2 736.4,598.09 736.9,597.87 737.4,597.5 737.9,596.89 738.4,595.99 738.9,594.75 739.4,593.18 739.9,591.4 740.4,589.59 740.9,588.01 741.4,586.92 741.9,586.52 742.4,586.75 742.9,587.44 743.4,588.51 743.9,589.85 744.4,591.3 744.9,592.74 745.4,594.07 745.9,595.21 746.4,596.14 746.9,596.85 747.4,597.37 747.9,597.73 748.4,597.96 748.9,598.11 749.4,598.2 749.9,598.25 750.4,598.27 750.9,598.29 751.4,598.29 751.9,598.3 752.4,598.3 752.9,598.3 753.4,598.3 753.9,598.3 754.4,598.3 754.9,598.3 755.4,598.3 755.9,598.3 756.4,598.3 756.9,598.3 757.4,598.3 757.9,598.3 758.4,598.3 758.9,598.3 759.4,598.3 759.9,598.3 760.4,598.3 760.9,598.3 761.4,598.3 761.9,598.3 762.4,598.3 762.9,598.3 763.4,598.3 763.9,598.3 764.4,598.3 764.9,598.3 765.4,598.3 765.9,598.3 766.4,598.3 766.9,598.3 767.4,598.3 767.9,598.3 768.4,598.3 768.9,598.3 769.4,598.3 769.9,598.3 770.4,598.3 770.9,598.3 771.4,598.3 771.9,598.3 772.4,598.3 772.9,598.3 773.4,598.3 773.9,598.3 774.4,598.3 774.9,598.3 775.4,598.3 775.9,598.3 776.4,598.3 776.9,598.3 777.4,598.3 777.9,598.3 778.4,598.3 778.9,598.3 779.4,598.3 779.9,598.3 780.4,598.3 780.9,598.3 781.4,598.3 781.9,598.3 782.4,598.29 782.9,598.29 783.4,598.27 783.9,598.24 784.4,598.19 784.9,598.1 785.4,597.97 785.9,597.78 786.4,597.54 786.9,597.25 787.4,596.95 787.9,596.68 788.4,596.48 788.9,596.38 789.4,596.4 789.9,596.49 790.4,596.65 790.9,596.86 791.4,597.09 791.9,597.33 792.4,597.56 792.9,597.75 793.4,597.91 793.9,598.04 794.4,598.13 794.9,598.19 795.4,598.24 795.9,598.26 796.4,598.28 796.9,598.29 797.4,598.29 797.9,598.3 798.4,598.3 798.9,598.3 799.4,598.3 799.9,598.3 800.4,598.3 800.9,598.3 801.4,598.3 801.9,598.3 802.4,598.3 802.9,598.3 803.4,598.3 803.9,598.3 804.4,598.3 804.9,598.3 805.4,598.3 805.9,598.3 806.4,598.3 806.9,598.3 807.4,598.3 807.9,598.29 808.4,598.27 808.9,598.23 809.4,598.16 809.9,598.01 810.4,597.74 810.9,597.29 811.4,596.59 811.9,595.59 812.4,594.28 812.9,592.71 813.4,591.03 813.9,589.46 814.4,588.22 814.9,587.54 815.4,587.52 815.9,587.97 816.4,588.8 816.9,589.93 817.4,591.22 817.9,592.56 818.4,593.83 818.9,594.95 819.4,595.89 819.9,596.62 820.4,597.16 820.9,597.53 821.4,597.78 821.9,597.93 822.4,598.01 822.9,598.04 823.4,598.03 823.9,597.97 824.4,597.85 824.9,597.62 825.4,597.25 825.9,596.65 826.4,595.76 826.9,594.55 827.4,593.03 827.9,591.29 828.4,589.5 828.9,587.92 829.4,586.8 829.9,586.32 830.4,586.47 830.9,587.06 831.4,588.03 831.9,589.24 832.4,590.58 832.9,591.92 833.4,593.15 833.9,594.21 834.4,595.06 834.9,595.71 835.4,596.17 835.9,596.48 836.4,596.67 836.9,596.79 837.4,596.84 837.9,596.87 838.4,596.87 838.9,596.87 839.4,596.86 839.9,596.86 840.4,596.86 840.9,596.86 841.4,596.86 841.9,596.87 842.4,596.88 842.9,596.89 843.4,596.91 843.9,596.93 844.4,596.95 844.9,596.98 845.4,597 845.9,597.03 846.4,597.06 846.9,597.1 847.4,597.13 847.9,597.17 848.4,597.2 848.9,597.24 849.4,597.28 849.9,597.32 850.4,597.36 850.9,597.4 851.4,597.44 851.9,597.48 852.4,597.52 852.9,597.56 853.4,597.6 853.9,597.64 854.4,597.68 854.9,597.72 855.4,597.75 855.9,597.79 856.4,597.82 856.9,597.86 857.4,597.89 857.9,597.92 858.4,597.95 858.9,597.97 859.4,598 859.9,598.02 860.4,598.04 860.9,598.07 861.4,598.09 861.9,598.11 862.4,598.12 862.9,598.14 863.4,598.15 863.9,598.17 864.4,598.18 864.9,598.19 865.4,598.2 865.9,598.21 866.4,598.22 866.9,598.23 867.4,598.24 867.9,598.25 868.4,598.25 868.9,598.26 869.4,598.26 869.9,598.27 870.4,598.27 870.9,598.27 871.4,598.28 871.9,598.28 872.4,598.28 872.9,598.29 873.4,598.29 873.9,598.29 874.4,598.29 874.9,598.29 875.4,598.29 875.9,598.29 876.4,598.29 876.9,598.3 877.4,598.3 877.9,598.3 878.4,598.3 878.9,598.3 879.4,598.3 879.9,598.3 880.4,598.3 880.9,598.3 881.4,598.3 881.9,598.3 882.4,598.3 882.9,598.3 883.4,598.3 883.9,598.3 884.4,598.3 884.9,598.3 885.4,598.3 885.9,598.3 886.4,598.3 886.9,598.3 887.4,598.3 887.9,598.3 888.4,598.3 888.9,598.3 889.4,598.3 889.9,598.3 890.4,598.3 890.9,598.3 891.4,598.3 891.9,598.3 892.4,598.3 892.9,598.3 893.4,598.3 893.9,598.3 894.4,598.3 894.9,598.3 895.4,598.3 895.9,598.3 896.4,598.3 896.9,598.3 897.4,598.3 897.9,598.3 898.4,598.3 898.9,598.3 899.4,598.3 899.9,598.3 900.4,598.3 900.9,598.3 901.4,598.3 901.9,598.3 902.4,598.3 902.9,598.3 903.4,598.3 903.9,598.3 904.4,598.3 904.9,598.3 905.4,598.3 905.9,598.3 906.4,598.3 906.9,598.3 907.4,598.3 907.9,598.3 908.4,598.3 908.9,598.3 909.4,598.3 909.9,598.3 910.4,598.3 910.9,598.3 911.4,598.3 911.9,598.3 912.4,598.3 912.9,598.3 913.4,598.3 913.9,598.3 914.4,598.3 914.9,598.3 915.4,598.3 915.9,598.3 916.4,598.3 916.9,598.3 917.4,598.3 917.9,598.3 918.4,598.3 918.9,598.3 919.4,598.3 919.9,598.3 920.4,598.3 920.9,598.3 921.4,598.3 921.9,598.3 922.4,598.3 922.9,598.3 923.4,598.3 923.9,598.3 924.4,598.3 924.9,598.3 925.4,598.3 925.9,598.3 926.4,598.3 926.9,598.3 927.4,598.3 927.9,598.3 928.4,598.3 928.9,598.3 929.4,598.3 929.9,598.3 930.4,598.3 930.9,598.3 931.4,598.3 931.9,598.3 932.4,598.3 932.9,598.3 933.4,598.3 933.9,598.3 934.4,598.3 934.9,598.3 935.4,598.3 935.9,598.3 936.4,598.3 936.9,598.3 937.4,598.3 937.9,598.3 938.4,598.3 938.9,598.3 939.4,598.3 939.9,598.3 940.4,598.3 940.9,598.3 941.4,598.3 941.9,598.3 942.4,598.3 942.9,598.3 943.4,598.3 943.9,598.3 944.4,598.3 944.9,598.3 945.4,598.3 945.9,598.3 946.4,598.3 946.9,598.3 947.4,598.3 947.9,598.3 948.4,598.3 948.9,598.3 949.4,598.3 949.9,598.3 950.4,598.3 950.9,598.3 951.4,598.3 951.9,598.3 952.4,598.3 952.9,598.3 953.4,598.3 953.9,598.3 954.4,598.3 954.9,598.3 955.4,598.3 955.9,598.3 956.4,598.3 956.9,598.3 957.4,598.3 957.9,598.3 958.4,598.3 958.9,598.3 959.4,598.3 959.9,598.3 960.4,598.3 960.9,598.3 961.4,598.3 961.9,598.3 962.4,598.3 962.9,598.3 963.4,598.3 963.9,598.3 964.4,598.3 964.9,598.3 965.4,598.3 965.9,598.3 966.4,598.3 966.9,598.3 967.4,598.3 967.9,598.3 968.4,598.3 968.9,598.3 969.4,598.3 969.9,598.3 970.4,598.3 970.9,598.3 971.4,598.3 971.9,598.3 972.4,598.3 972.9,598.3 973.4,598.3 973.9,598.3 974.4,598.3 974.9,598.3 975.4,598.3 975.9,598.3 976.4,598.3 976.9,598.3 977.4,598.3 977.9,598.3 978.4,598.3 978.9,598.3 979.4,598.3 979.9,598.3 980.4,598.3 980.9,598.3 981.4,598.3 981.9,598.3 982.4,598.3 982.9,598.3 983.4,598.3 983.9,598.3 984.4,598.3 984.9,598.3 985.4,598.3 985.9,598.3 986.4,598.3 986.9,598.3 987.4,598.3 987.9,598.3 988.4,598.3 988.9,598.3 989.4,598.3 989.9,598.3 990.4,598.3 990.9,598.3 991.4,598.3 991.9,598.3 992.4,598.3 992.9,598.3 993.4,598.3 993.9,598.3 994.4,598.3 994.9,598.3 995.4,598.3 995.9,598.3 996.4,598.3 996.9,598.3 997.4,598.3 997.9,598.3 998.4,598.3 998.9,598.3 999.4,598.3 999.9,598.3 1000.4,598.3 1000.9,598.3 1001.4,598.3 1001.9,598.3 1002.4,598.3 1002.9,598.3 1003.4,598.3 1003.9,598.3 1004.4,598.3 1004.9,598.3 1005.4,598.3 1005.9,598.3 1006.4,598.3 1006.9,598.3 1007.4,598.3 1007.9,598.3 1008.4,598.3 1008.9,598.3 1009.4,598.3 1009.9,598.3 1010.4,598.3 1010.9,598.3 1011.4,598.3 1011.9,598.3 1012.4,598.3 1012.9,598.3 1013.4,598.3 1013.9,598.3 1014.4,598.3 1014.9,598.3 1015.4,598.3 1015.9,598.3 1016.4,598.3 1016.9,598.3 1017.4,598.3 1017.9,598.3 1018.4,598.3 1018.9,598.3 1019.4,598.3 1019.9,598.3 1020.4,598.3 1020.9,598.3 1021.4,598.3 1021.9,598.3 1022.4,598.3 1022.9,598.3 1023.4,598.3 1023.9,598.3 1024.4,598.3 1024.9,598.3 1025.4,598.3 1025.9,598.3 1026.4,598.3 1026.9,598.3 1027.4,598.3 1027.9,598.3 1028.4,598.3 1028.9,598.3 1029.4,598.3 1029.9,598.3 1030.4,598.3 1030.9,598.3 1031.4,598.3 1031.9,598.3 1032.4,598.3 1032.9,598.3 1033.4,598.3 1033.9,598.3 1034.4,598.3 1034.9,598.3 1035.4,598.3 1035.9,598.3 1036.4,598.3 1036.9,598.3 1037.4,598.3 1037.9,598.3 1038.4,598.3 1038.9,598.3 1039.4,598.3 1039.9,598.3 1040.4,598.3 1040.9,598.3 1041.4,598.3 1041.9,598.3 1042.4,598.3 1042.9,598.3 1043.4,598.3 1043.9,598.3 1044.4,598.3 1044.9,598.3 1045.4,598.3 1045.9,598.3 1046.4,598.3 1046.9,598.3 1047.4,598.3 1047.9,598.3 1048.4,598.3 1048.9,598.3 1049.4,598.3 1049.9,598.3 1050.4,598.3 1050.9,598.3 1051.4,598.3 1051.9,598.3 1052.4,598.3 1052.9,598.3 1053.4,598.3 1053.9,598.3 1054.4,598.3 1054.9,598.3 1055.4,598.3 1055.9,598.3 1056.4,598.3 1056.9,598.3 1057.4,598.3"/>
<line x1="207.2" y1="813.4" x2="207.2" y2="931.5" stroke="#3c3c3c" stroke-width="1.4"/>
<line x1="202.7" y1="927.8" x2="207.2" y2="927.8" stroke="#3c3c3c" stroke-width="1"/>
<line x1="205.2" y1="916.52" x2="207.2" y2="916.52" stroke="#3c3c3c" stroke-width="1"/>
<line x1="205.2" y1="905.24" x2="207.2" y2="905.24" stroke="#3c3c3c" stroke-width="1"/>
<line x1="205.2" y1="893.96" x2="207.2" y2="893.96" stroke="#3c3c3c" stroke-width="1"/>
<line x1="205.2" y1="882.68" x2="207.2" y2="882.68" stroke="#3c3c3c" stroke-width="1"/>
<line x1="202.7" y1="871.4" x2="207.2" y2="871.4" stroke="#3c3c3c" stroke-width="1"/>
<line x1="205.2" y1="860.12" x2="207.2" y2="860.12" stroke="#3c3c3c" stroke-width="1"/>
<line x1="205.2" y1="848.84" x2="207.2" y2="848.84" stroke="#3c3c3c" stroke-width="1"/>
<line x1="205.2" y1="837.56" x2="207.2" y2="837.56" stroke="#3c3c3c" stroke-width="1"/>
<line x1="205.2" y1="826.28" x2="207.2" y2="826.28" stroke="#3c3c3c" stroke-width="1"/>
<line x1="202.7" y1="815" x2="207.2" y2="815" stroke="#3c3c3c" stroke-width="1"/>
<text x="201.2" y="934.7" font-size="16" text-anchor="end" font-weight="normal" fill="#4a4a4a" textLength="7.1" lengthAdjust="spacingAndGlyphs">0</text>
<text x="201.2" y="878.3" font-size="16" text-anchor="end" font-weight="normal" fill="#4a4a4a" textLength="21.3" lengthAdjust="spacingAndGlyphs">500</text>
<text x="201.2" y="821.9" font-size="16" text-anchor="end" font-weight="normal" fill="#4a4a4a" textLength="28.4" lengthAdjust="spacingAndGlyphs">1000</text>
<rect x="207.2" y="928.3" width="850.5" height="2" fill="#b4b4b4"/>
<line x1="207.2" y1="930.8" x2="1057.7" y2="930.8" stroke="#3c3c3c" stroke-width="1.4"/>
<line x1="207.2" y1="930.8" x2="207.2" y2="935.6" stroke="#777" stroke-width="1"/>
<line x1="221.38" y1="930.8" x2="221.38" y2="933" stroke="#3c3c3c" stroke-width="1"/>
<line x1="235.55" y1="930.8" x2="235.55" y2="933" stroke="#3c3c3c" stroke-width="1"/>
<line x1="249.72" y1="930.8" x2="249.72" y2="933" stroke="#3c3c3c" stroke-width="1"/>
<line x1="263.9" y1="930.8" x2="263.9" y2="935.6" stroke="#777" stroke-width="1"/>
<text x="264.2" y="954.8" font-size="16" text-anchor="middle" font-weight="normal" fill="#4a4a4a" textLength="14" lengthAdjust="spacingAndGlyphs">12</text>
<line x1="278.07" y1="930.8" x2="278.07" y2="933" stroke="#3c3c3c" stroke-width="1"/>
<line x1="292.25" y1="930.8" x2="292.25" y2="933" stroke="#3c3c3c" stroke-width="1"/>
<line x1="306.43" y1="930.8" x2="306.43" y2="933" stroke="#3c3c3c" stroke-width="1"/>
<line x1="320.6" y1="930.8" x2="320.6" y2="935.6" stroke="#777" stroke-width="1"/>
<text x="320.9" y="954.8" font-size="16" text-anchor="middle" font-weight="normal" fill="#4a4a4a" textLength="14" lengthAdjust="spacingAndGlyphs">14</text>
<line x1="334.77" y1="930.8" x2="334.77" y2="933" stroke="#3c3c3c" stroke-width="1"/>
<line x1="348.95" y1="930.8" x2="348.95" y2="933" stroke="#3c3c3c" stroke-width="1"/>
<line x1="363.12" y1="930.8" x2="363.12" y2="933" stroke="#3c3c3c" stroke-width="1"/>
<line x1="377.3" y1="930.8" x2="377.3" y2="935.6" stroke="#777" stroke-width="1"/>
<text x="377.6" y="954.8" font-size="16" text-anchor="middle" font-weight="normal" fill="#4a4a4a" textLength="14" lengthAdjust="spacingAndGlyphs">16</text>
<line x1="391.48" y1="930.8" x2="391.48" y2="933" stroke="#3c3c3c" stroke-width="1"/>
<line x1="405.65" y1="930.8" x2="405.65" y2="933" stroke="#3c3c3c" stroke-width="1"/>
<line x1="419.82" y1="930.8" x2="419.82" y2="933" stroke="#3c3c3c" stroke-width="1"/>
<line x1="434" y1="930.8" x2="434" y2="935.6" stroke="#777" stroke-width="1"/>
<text x="434.3" y="954.8" font-size="16" text-anchor="middle" font-weight="normal" fill="#4a4a4a" textLength="14" lengthAdjust="spacingAndGlyphs">18</text>
<line x1="448.18" y1="930.8" x2="448.18" y2="933" stroke="#3c3c3c" stroke-width="1"/>
<line x1="462.35" y1="930.8" x2="462.35" y2="933" stroke="#3c3c3c" stroke-width="1"/>
<line x1="476.52" y1="930.8" x2="476.52" y2="933" stroke="#3c3c3c" stroke-width="1"/>
<line x1="490.7" y1="930.8" x2="490.7" y2="935.6" stroke="#777" stroke-width="1"/>
<text x="491" y="954.8" font-size="16" text-anchor="middle" font-weight="normal" fill="#4a4a4a" textLength="14" lengthAdjust="spacingAndGlyphs">20</text>
<line x1="504.88" y1="930.8" x2="504.88" y2="933" stroke="#3c3c3c" stroke-width="1"/>
<line x1="519.05" y1="930.8" x2="519.05" y2="933" stroke="#3c3c3c" stroke-width="1"/>
<line x1="533.23" y1="930.8" x2="533.23" y2="933" stroke="#3c3c3c" stroke-width="1"/>
<line x1="547.4" y1="930.8" x2="547.4" y2="935.6" stroke="#777" stroke-width="1"/>
<text x="547.7" y="954.8" font-size="16" text-anchor="middle" font-weight="normal" fill="#4a4a4a" textLength="14" lengthAdjust="spacingAndGlyphs">22</text>
<line x1="561.58" y1="930.8" x2="561.58" y2="933" stroke="#3c3c3c" stroke-width="1"/>
<line x1="575.75" y1="930.8" x2="575.75" y2="933" stroke="#3c3c3c" stroke-width="1"/>
<line x1="589.92" y1="930.8" x2="589.92" y2="933" stroke="#3c3c3c" stroke-width="1"/>
<line x1="604.1" y1="930.8" x2="604.1" y2="935.6" stroke="#777" stroke-width="1"/>
<text x="604.4" y="954.8" font-size="16" text-anchor="middle" font-weight="normal" fill="#4a4a4a" textLength="14" lengthAdjust="spacingAndGlyphs">24</text>
<line x1="618.28" y1="930.8" x2="618.28" y2="933" stroke="#3c3c3c" stroke-width="1"/>
<line x1="632.45" y1="930.8" x2="632.45" y2="933" stroke="#3c3c3c" stroke-width="1"/>
<line x1="646.62" y1="930.8" x2="646.62" y2="933" stroke="#3c3c3c" stroke-width="1"/>
<line x1="660.8" y1="930.8" x2="660.8" y2="935.6" stroke="#777" stroke-width="1"/>
<text x="661.1" y="954.8" font-size="16" text-anchor="middle" font-weight="normal" fill="#4a4a4a" textLength="14" lengthAdjust="spacingAndGlyphs">26</text>
<line x1="674.98" y1="930.8" x2="674.98" y2="933" stroke="#3c3c3c" stroke-width="1"/>
<line x1="689.15" y1="930.8" x2="689.15" y2="933" stroke="#3c3c3c" stroke-width="1"/>
<line x1="703.33" y1="930.8" x2="703.33" y2="933" stroke="#3c3c3c" stroke-width="1"/>
<line x1="717.5" y1="930.8" x2="717.5" y2="935.6" stroke="#777" stroke-width="1"/>
<text x="717.8" y="954.8" font-size="16" text-anchor="middle" font-weight="normal" fill="#4a4a4a" textLength="14" lengthAdjust="spacingAndGlyphs">28</text>
<line x1="731.67" y1="930.8" x2="731.67" y2="933" stroke="#3c3c3c" stroke-width="1"/>
<line x1="745.85" y1="930.8" x2="745.85" y2="933" stroke="#3c3c3c" stroke-width="1"/>
<line x1="760.03" y1="930.8" x2="760.03" y2="933" stroke="#3c3c3c" stroke-width="1"/>
<line x1="774.2" y1="930.8" x2="774.2" y2="935.6" stroke="#777" stroke-width="1"/>
<text x="774.5" y="954.8" font-size="16" text-anchor="middle" font-weight="normal" fill="#4a4a4a" textLength="14" lengthAdjust="spacingAndGlyphs">30</text>
<line x1="788.38" y1="930.8" x2="788.38" y2="933" stroke="#3c3c3c" stroke-width="1"/>
<line x1="802.55" y1="930.8" x2="802.55" y2="933" stroke="#3c3c3c" stroke-width="1"/>
<line x1="816.72" y1="930.8" x2="816.72" y2="933" stroke="#3c3c3c" stroke-width="1"/>
<line x1="830.9" y1="930.8" x2="830.9" y2="935.6" stroke="#777" stroke-width="1"/>
<text x="831.2" y="954.8" font-size="16" text-anchor="middle" font-weight="normal" fill="#4a4a4a" textLength="14" lengthAdjust="spacingAndGlyphs">32</text>
<line x1="845.08" y1="930.8" x2="845.08" y2="933" stroke="#3c3c3c" stroke-width="1"/>
<line x1="859.25" y1="930.8" x2="859.25" y2="933" stroke="#3c3c3c" stroke-width="1"/>
<line x1="873.42" y1="930.8" x2="873.42" y2="933" stroke="#3c3c3c" stroke-width="1"/>
<line x1="887.6" y1="930.8" x2="887.6" y2="935.6" stroke="#777" stroke-width="1"/>
<text x="887.9" y="954.8" font-size="16" text-anchor="middle" font-weight="normal" fill="#4a4a4a" textLength="14" lengthAdjust="spacingAndGlyphs">34</text>
<line x1="901.78" y1="930.8" x2="901.78" y2="933" stroke="#3c3c3c" stroke-width="1"/>
<line x1="915.95" y1="930.8" x2="915.95" y2="933" stroke="#3c3c3c" stroke-width="1"/>
<line x1="930.12" y1="930.8" x2="930.12" y2="933" stroke="#3c3c3c" stroke-width="1"/>
<line x1="944.3" y1="930.8" x2="944.3" y2="935.6" stroke="#777" stroke-width="1"/>
<text x="944.6" y="954.8" font-size="16" text-anchor="middle" font-weight="normal" fill="#4a4a4a" textLength="14" lengthAdjust="spacingAndGlyphs">36</text>
<line x1="958.48" y1="930.8" x2="958.48" y2="933" stroke="#3c3c3c" stroke-width="1"/>
<line x1="972.65" y1="930.8" x2="972.65" y2="933" stroke="#3c3c3c" stroke-width="1"/>
<line x1="986.83" y1="930.8" x2="986.83" y2="933" stroke="#3c3c3c" stroke-width="1"/>
<line x1="1001" y1="930.8" x2="1001" y2="935.6" stroke="#777" stroke-width="1"/>
<text x="1001.3" y="954.8" font-size="16" text-anchor="middle" font-weight="normal" fill="#4a4a4a" textLength="14" lengthAdjust="spacingAndGlyphs">38</text>
<line x1="1015.17" y1="930.8" x2="1015.17" y2="933" stroke="#3c3c3c" stroke-width="1"/>
<line x1="1029.35" y1="930.8" x2="1029.35" y2="933" stroke="#3c3c3c" stroke-width="1"/>
<line x1="1043.53" y1="930.8" x2="1043.53" y2="933" stroke="#3c3c3c" stroke-width="1"/>
<line x1="1057.7" y1="930.8" x2="1057.7" y2="935.6" stroke="#777" stroke-width="1"/>
<text x="1058" y="954.8" font-size="16" text-anchor="middle" font-weight="normal" fill="#4a4a4a" textLength="14" lengthAdjust="spacingAndGlyphs">40</text>
<text transform="translate(166.2,872.1) rotate(-90)" font-size="15.5" text-anchor="middle" fill="#555" textLength="79" lengthAdjust="spacingAndGlyphs">Signal [EU]</text>
<polyline fill="none" stroke="#383838" stroke-width="1.3" stroke-linejoin="round" points="207.2,927.8 207.7,927.8 208.2,927.8 208.7,927.8 209.2,927.8 209.7,927.8 210.2,927.8 210.7,927.8 211.2,927.8 211.7,927.8 212.2,927.8 212.7,927.8 213.2,927.8 213.7,927.8 214.2,927.8 214.7,927.8 215.2,927.8 215.7,927.8 216.2,927.8 216.7,927.8 217.2,927.8 217.7,927.8 218.2,927.8 218.7,927.8 219.2,927.8 219.7,927.8 220.2,927.8 220.7,927.8 221.2,927.8 221.7,927.8 222.2,927.8 222.7,927.8 223.2,927.8 223.7,927.8 224.2,927.8 224.7,927.8 225.2,927.8 225.7,927.8 226.2,927.8 226.7,927.8 227.2,927.8 227.7,927.8 228.2,927.8 228.7,927.8 229.2,927.8 229.7,927.8 230.2,927.8 230.7,927.8 231.2,927.8 231.7,927.8 232.2,927.8 232.7,927.8 233.2,927.8 233.7,927.8 234.2,927.8 234.7,927.8 235.2,927.8 235.7,927.8 236.2,927.8 236.7,927.8 237.2,927.8 237.7,927.8 238.2,927.8 238.7,927.8 239.2,927.8 239.7,927.8 240.2,927.8 240.7,927.8 241.2,927.8 241.7,927.8 242.2,927.8 242.7,927.8 243.2,927.8 243.7,927.8 244.2,927.8 244.7,927.8 245.2,927.8 245.7,927.8 246.2,927.8 246.7,927.8 247.2,927.8 247.7,927.8 248.2,927.8 248.7,927.8 249.2,927.8 249.7,927.8 250.2,927.8 250.7,927.8 251.2,927.8 251.7,927.8 252.2,927.8 252.7,927.8 253.2,927.8 253.7,927.8 254.2,927.8 254.7,927.8 255.2,927.8 255.7,927.8 256.2,927.8 256.7,927.8 257.2,927.8 257.7,927.8 258.2,927.8 258.7,927.8 259.2,927.8 259.7,927.8 260.2,927.8 260.7,927.8 261.2,927.8 261.7,927.8 262.2,927.8 262.7,927.8 263.2,927.8 263.7,927.8 264.2,927.8 264.7,927.8 265.2,927.8 265.7,927.8 266.2,927.8 266.7,927.8 267.2,927.8 267.7,927.8 268.2,927.8 268.7,927.8 269.2,927.8 269.7,927.8 270.2,927.8 270.7,927.8 271.2,927.8 271.7,927.8 272.2,927.8 272.7,927.8 273.2,927.8 273.7,927.8 274.2,927.8 274.7,927.8 275.2,927.8 275.7,927.8 276.2,927.8 276.7,927.8 277.2,927.8 277.7,927.8 278.2,927.8 278.7,927.8 279.2,927.8 279.7,927.8 280.2,927.8 280.7,927.8 281.2,927.8 281.7,927.8 282.2,927.8 282.7,927.8 283.2,927.8 283.7,927.8 284.2,927.8 284.7,927.8 285.2,927.8 285.7,927.8 286.2,927.8 286.7,927.8 287.2,927.8 287.7,927.8 288.2,927.8 288.7,927.8 289.2,927.8 289.7,927.8 290.2,927.8 290.7,927.8 291.2,927.8 291.7,927.8 292.2,927.8 292.7,927.8 293.2,927.8 293.7,927.8 294.2,927.8 294.7,927.8 295.2,927.8 295.7,927.8 296.2,927.8 296.7,927.8 297.2,927.8 297.7,927.8 298.2,927.8 298.7,927.8 299.2,927.8 299.7,927.8 300.2,927.8 300.7,927.8 301.2,927.8 301.7,927.8 302.2,927.8 302.7,927.8 303.2,927.8 303.7,927.8 304.2,927.8 304.7,927.8 305.2,927.8 305.7,927.8 306.2,927.8 306.7,927.8 307.2,927.8 307.7,927.8 308.2,927.8 308.7,927.8 309.2,927.8 309.7,927.8 310.2,927.8 310.7,927.8 311.2,927.8 311.7,927.8 312.2,927.8 312.7,927.8 313.2,927.8 313.7,927.8 314.2,927.8 314.7,927.8 315.2,927.8 315.7,927.8 316.2,927.8 316.7,927.8 317.2,927.8 317.7,927.8 318.2,927.8 318.7,927.8 319.2,927.8 319.7,927.8 320.2,927.8 320.7,927.8 321.2,927.8 321.7,927.8 322.2,927.8 322.7,927.8 323.2,927.8 323.7,927.8 324.2,927.8 324.7,927.8 325.2,927.8 325.7,927.8 326.2,927.8 326.7,927.8 327.2,927.8 327.7,927.8 328.2,927.8 328.7,927.8 329.2,927.8 329.7,927.8 330.2,927.8 330.7,927.8 331.2,927.8 331.7,927.8 332.2,927.8 332.7,927.8 333.2,927.8 333.7,927.8 334.2,927.8 334.7,927.8 335.2,927.8 335.7,927.8 336.2,927.8 336.7,927.8 337.2,927.8 337.7,927.8 338.2,927.8 338.7,927.8 339.2,927.8 339.7,927.8 340.2,927.8 340.7,927.8 341.2,927.8 341.7,927.8 342.2,927.8 342.7,927.8 343.2,927.8 343.7,927.8 344.2,927.8 344.7,927.8 345.2,927.8 345.7,927.8 346.2,927.8 346.7,927.8 347.2,927.8 347.7,927.8 348.2,927.8 348.7,927.8 349.2,927.8 349.7,927.8 350.2,927.8 350.7,927.8 351.2,927.8 351.7,927.8 352.2,927.8 352.7,927.8 353.2,927.8 353.7,927.8 354.2,927.8 354.7,927.8 355.2,927.8 355.7,927.8 356.2,927.8 356.7,927.8 357.2,927.8 357.7,927.8 358.2,927.8 358.7,927.79 359.2,927.78 359.7,927.75 360.2,927.7 360.7,927.6 361.2,927.43 361.7,927.17 362.2,926.79 362.7,926.31 363.2,925.76 363.7,925.19 364.2,924.7 364.7,924.39 365.2,924.31 365.7,924.42 366.2,924.67 366.7,925.04 367.2,925.48 367.7,925.94 368.2,926.38 368.7,926.76 369.2,927.08 369.7,927.32 370.2,927.5 370.7,927.62 371.2,927.69 371.7,927.74 372.2,927.77 372.7,927.78 373.2,927.79 373.7,927.8 374.2,927.8 374.7,927.8 375.2,927.8 375.7,927.8 376.2,927.8 376.7,927.8 377.2,927.8 377.7,927.8 378.2,927.8 378.7,927.8 379.2,927.8 379.7,927.8 380.2,927.8 380.7,927.8 381.2,927.8 381.7,927.8 382.2,927.8 382.7,927.8 383.2,927.8 383.7,927.8 384.2,927.8 384.7,927.8 385.2,927.8 385.7,927.8 386.2,927.8 386.7,927.8 387.2,927.8 387.7,927.8 388.2,927.8 388.7,927.8 389.2,927.8 389.7,927.8 390.2,927.8 390.7,927.8 391.2,927.8 391.7,927.8 392.2,927.8 392.7,927.8 393.2,927.8 393.7,927.8 394.2,927.8 394.7,927.8 395.2,927.8 395.7,927.8 396.2,927.8 396.7,927.8 397.2,927.8 397.7,927.8 398.2,927.8 398.7,927.8 399.2,927.8 399.7,927.8 400.2,927.8 400.7,927.8 401.2,927.8 401.7,927.8 402.2,927.8 402.7,927.8 403.2,927.8 403.7,927.8 404.2,927.8 404.7,927.8 405.2,927.8 405.7,927.8 406.2,927.8 406.7,927.8 407.2,927.8 407.7,927.8 408.2,927.8 408.7,927.8 409.2,927.8 409.7,927.8 410.2,927.8 410.7,927.8 411.2,927.8 411.7,927.8 412.2,927.8 412.7,927.8 413.2,927.8 413.7,927.8 414.2,927.8 414.7,927.8 415.2,927.8 415.7,927.8 416.2,927.8 416.7,927.8 417.2,927.8 417.7,927.8 418.2,927.8 418.7,927.8 419.2,927.8 419.7,927.8 420.2,927.8 420.7,927.8 421.2,927.8 421.7,927.8 422.2,927.8 422.7,927.8 423.2,927.8 423.7,927.8 424.2,927.8 424.7,927.8 425.2,927.8 425.7,927.8 426.2,927.8 426.7,927.8 427.2,927.8 427.7,927.8 428.2,927.8 428.7,927.8 429.2,927.8 429.7,927.8 430.2,927.8 430.7,927.8 431.2,927.8 431.7,927.8 432.2,927.8 432.7,927.8 433.2,927.8 433.7,927.8 434.2,927.8 434.7,927.8 435.2,927.8 435.7,927.8 436.2,927.8 436.7,927.8 437.2,927.8 437.7,927.8 438.2,927.8 438.7,927.8 439.2,927.8 439.7,927.8 440.2,927.8 440.7,927.8 441.2,927.8 441.7,927.8 442.2,927.8 442.7,927.8 443.2,927.8 443.7,927.8 444.2,927.8 444.7,927.8 445.2,927.8 445.7,927.8 446.2,927.8 446.7,927.8 447.2,927.8 447.7,927.8 448.2,927.8 448.7,927.8 449.2,927.8 449.7,927.8 450.2,927.8 450.7,927.8 451.2,927.8 451.7,927.8 452.2,927.8 452.7,927.8 453.2,927.8 453.7,927.8 454.2,927.8 454.7,927.8 455.2,927.8 455.7,927.8 456.2,927.8 456.7,927.8 457.2,927.8 457.7,927.8 458.2,927.8 458.7,927.8 459.2,927.8 459.7,927.8 460.2,927.8 460.7,927.8 461.2,927.8 461.7,927.8 462.2,927.8 462.7,927.8 463.2,927.8 463.7,927.8 464.2,927.8 464.7,927.8 465.2,927.8 465.7,927.8 466.2,927.8 466.7,927.8 467.2,927.8 467.7,927.8 468.2,927.8 468.7,927.8 469.2,927.8 469.7,927.8 470.2,927.8 470.7,927.8 471.2,927.8 471.7,927.8 472.2,927.8 472.7,927.8 473.2,927.8 473.7,927.8 474.2,927.8 474.7,927.8 475.2,927.8 475.7,927.8 476.2,927.8 476.7,927.8 477.2,927.8 477.7,927.8 478.2,927.8 478.7,927.8 479.2,927.8 479.7,927.8 480.2,927.8 480.7,927.8 481.2,927.8 481.7,927.8 482.2,927.8 482.7,927.8 483.2,927.8 483.7,927.8 484.2,927.8 484.7,927.8 485.2,927.8 485.7,927.8 486.2,927.8 486.7,927.8 487.2,927.8 487.7,927.8 488.2,927.8 488.7,927.8 489.2,927.8 489.7,927.8 490.2,927.8 490.7,927.8 491.2,927.8 491.7,927.79 492.2,927.78 492.7,927.76 493.2,927.71 493.7,927.63 494.2,927.49 494.7,927.3 495.2,927.04 495.7,926.73 496.2,926.4 496.7,926.09 497.2,925.87 497.7,925.77 498.2,925.8 498.7,925.92 499.2,926.12 499.7,926.36 500.2,926.63 500.7,926.89 501.2,927.12 501.7,927.32 502.2,927.48 502.7,927.59 503.2,927.67 503.7,927.72 504.2,927.76 504.7,927.78 505.2,927.79 505.7,927.79 506.2,927.8 506.7,927.8 507.2,927.8 507.7,927.8 508.2,927.8 508.7,927.8 509.2,927.8 509.7,927.8 510.2,927.8 510.7,927.79 511.2,927.78 511.7,927.76 512.2,927.72 512.7,927.65 513.2,927.54 513.7,927.38 514.2,927.17 514.7,926.91 515.2,926.63 515.7,926.38 516.2,926.19 516.7,926.11 517.2,926.14 517.7,926.24 518.2,926.4 518.7,926.6 519.2,926.82 519.7,927.04 520.2,927.24 520.7,927.4 521.2,927.53 521.7,927.62 522.2,927.69 522.7,927.72 523.2,927.72 523.7,927.69 524.2,927.61 524.7,927.47 525.2,927.25 525.7,926.95 526.2,926.59 526.7,926.18 527.2,925.8 527.7,925.49 528.2,925.33 528.7,925.34 529.2,925.46 529.7,925.68 530.2,925.97 530.7,926.29 531.2,926.61 531.7,926.91 532.2,927.16 532.7,927.36 533.2,927.52 533.7,927.62 534.2,927.7 534.7,927.74 535.2,927.77 535.7,927.78 536.2,927.79 536.7,927.79 537.2,927.79 537.7,927.77 538.2,927.74 538.7,927.69 539.2,927.6 539.7,927.45 540.2,927.24 540.7,926.96 541.2,926.64 541.7,926.31 542.2,926.02 542.7,925.83 543.2,925.77 543.7,925.83 544.2,925.97 544.7,926.18 545.2,926.43 545.7,926.7 546.2,926.96 546.7,927.18 547.2,927.37 547.7,927.51 548.2,927.62 548.7,927.69 549.2,927.74 549.7,927.76 550.2,927.78 550.7,927.79 551.2,927.8 551.7,927.8 552.2,927.8 552.7,927.8 553.2,927.8 553.7,927.8 554.2,927.8 554.7,927.8 555.2,927.8 555.7,927.79 556.2,927.78 556.7,927.76 557.2,927.71 557.7,927.62 558.2,927.49 558.7,927.28 559.2,927 559.7,926.66 560.2,926.3 560.7,925.95 561.2,925.68 561.7,925.55 562.2,925.57 562.7,925.69 563.2,925.9 563.7,926.16 564.2,926.45 564.7,926.75 565.2,927.01 565.7,927.23 566.2,927.4 566.7,927.52 567.2,927.55 567.7,927.47 568.2,927.21 568.7,926.65 569.2,925.6 569.7,923.84 570.2,921.15 570.7,917.4 571.2,912.71 571.7,907.45 572.2,902.3 572.7,898.11 573.2,895.69 573.7,895.46 574.2,896.85 574.7,899.55 575.2,903.2 575.7,907.37 576.2,911.61 576.7,915.56 577.2,918.97 577.7,921.72 578.2,923.81 578.7,925.3 579.2,926.31 579.7,926.95 580.2,927.34 580.7,927.56 581.2,927.68 581.7,927.74 582.2,927.77 582.7,927.79 583.2,927.8 583.7,927.8 584.2,927.8 584.7,927.8 585.2,927.8 585.7,927.8 586.2,927.8 586.7,927.8 587.2,927.8 587.7,927.8 588.2,927.8 588.7,927.8 589.2,927.8 589.7,927.8 590.2,927.8 590.7,927.79 591.2,927.78 591.7,927.75 592.2,927.69 592.7,927.58 593.2,927.4 593.7,927.13 594.2,926.74 594.7,926.26 595.2,925.71 595.7,925.15 596.2,924.67 596.7,924.33 597.2,924.12 597.7,923.93 598.2,923.62 598.7,923.03 599.2,922.02 599.7,920.49 600.2,918.48 600.7,916.17 601.2,913.92 601.7,912.15 602.2,911.27 602.7,911.42 603.2,912.31 603.7,913.81 604.2,915.73 604.7,917.86 605.2,919.99 605.7,921.94 606.2,923.61 606.7,924.94 607.2,925.94 607.7,926.64 608.2,927.11 608.7,927.41 609.2,927.59 609.7,927.69 610.2,927.75 610.7,927.78 611.2,927.79 611.7,927.8 612.2,927.8 612.7,927.8 613.2,927.8 613.7,927.8 614.2,927.8 614.7,927.8 615.2,927.8 615.7,927.8 616.2,927.8 616.7,927.79 617.2,927.78 617.7,927.76 618.2,927.71 618.7,927.63 619.2,927.5 619.7,927.31 620.2,927.06 620.7,926.75 621.2,926.41 621.7,926.11 622.2,925.88 622.7,925.77 623.2,925.8 623.7,925.92 624.2,926.11 624.7,926.35 625.2,926.61 625.7,926.87 626.2,927.11 626.7,927.31 627.2,927.46 627.7,927.55 628.2,927.6 628.7,927.59 629.2,927.52 629.7,927.38 630.2,927.16 630.7,926.87 631.2,926.55 631.7,926.23 632.2,925.96 632.7,925.8 633.2,925.78 633.7,925.86 634.2,926.02 634.7,926.25 635.2,926.5 635.7,926.77 636.2,927.02 636.7,927.23 637.2,927.4 637.7,927.51 638.2,927.58 638.7,927.58 639.2,927.53 639.7,927.41 640.2,927.22 640.7,926.98 641.2,926.71 641.7,926.45 642.2,926.24 642.7,926.12 643.2,926.12 643.7,926.2 644.2,926.34 644.7,926.54 645.2,926.75 645.7,926.97 646.2,927.18 646.7,927.35 647.2,927.48 647.7,927.57 648.2,927.6 648.7,927.56 649.2,927.43 649.7,927.17 650.2,926.72 650.7,926.07 651.2,925.21 651.7,924.19 652.2,923.13 652.7,922.17 653.2,921.5 653.7,921.26 654.2,921.4 654.7,921.83 655.2,922.49 655.7,923.29 656.2,924.15 656.7,924.98 657.2,925.72 657.7,926.33 658.2,926.81 658.7,927.17 659.2,927.41 659.7,927.57 660.2,927.67 660.7,927.73 661.2,927.76 661.7,927.77 662.2,927.78 662.7,927.78 663.2,927.79 663.7,927.78 664.2,927.78 664.7,927.78 665.2,927.78 665.7,927.78 666.2,927.77 666.7,927.77 667.2,927.77 667.7,927.77 668.2,927.76 668.7,927.76 669.2,927.75 669.7,927.75 670.2,927.74 670.7,927.72 671.2,927.68 671.7,927.57 672.2,927.32 672.7,926.74 673.2,925.55 673.7,923.24 674.2,919.14 674.7,912.43 675.2,902.41 675.7,888.79 676.2,872.07 676.7,853.83 677.2,836.56 677.7,823.23 678.2,816.44 678.7,817 679.2,822.8 679.7,832.85 680.2,845.88 680.7,860.35 681.2,874.79 681.7,888.01 682.2,899.27 682.7,908.22 683.2,914.92 683.7,919.63 684.2,922.76 684.7,924.72 685.2,925.88 685.7,926.52 686.2,926.84 686.7,926.97 687.2,926.98 687.7,926.91 688.2,926.77 688.7,926.55 689.2,926.25 689.7,925.88 690.2,925.47 690.7,925.06 691.2,924.72 691.7,924.5 692.2,924.44 692.7,924.48 693.2,924.61 693.7,924.81 694.2,925.04 694.7,925.28 695.2,925.49 695.7,925.64 696.2,925.7 696.7,925.61 697.2,925.26 697.7,924.48 698.2,922.94 698.7,920.26 699.2,915.97 699.7,909.72 700.2,901.42 700.7,891.52 701.2,881.04 701.7,871.52 702.2,864.63 702.7,861.75 703.2,862.82 703.7,866.71 704.2,872.89 704.7,880.56 705.2,888.84 705.7,896.93 706.2,904.21 706.7,910.29 707.2,915.05 707.7,918.56 708.2,920.98 708.7,922.56 709.2,923.5 709.7,924 710.2,924.14 710.7,923.96 711.2,923.39 711.7,922.29 712.2,920.49 712.7,917.82 713.2,914.26 713.7,909.95 714.2,905.35 714.7,901.12 715.2,897.98 715.7,896.58 716.2,896.96 716.7,898.61 717.2,901.29 717.7,904.66 718.2,908.34 718.7,911.95 719.2,915.23 719.7,917.99 720.2,920.17 720.7,921.79 721.2,922.93 721.7,923.68 722.2,924.16 722.7,924.43 723.2,924.56 723.7,924.57 724.2,924.46 724.7,924.2 725.2,923.73 725.7,923.03 726.2,922.07 726.7,920.89 727.2,919.62 727.7,918.43 728.2,917.53 728.7,917.1 729.2,917.19 729.7,917.64 730.2,918.38 730.7,919.33 731.2,920.36 731.7,921.38 732.2,922.28 732.7,923 733.2,923.47 733.7,923.63 734.2,923.39 734.7,922.66 735.2,921.34 735.7,919.42 736.2,916.94 736.7,914.14 737.2,911.39 737.7,909.16 738.2,907.88 738.7,907.77 739.2,908.54 739.7,910.02 740.2,912 740.7,914.26 741.2,916.56 741.7,918.71 742.2,920.57 742.7,922.08 743.2,923.23 743.7,924.07 744.2,924.64 744.7,925.03 745.2,925.28 745.7,925.44 746.2,925.54 746.7,925.62 747.2,925.68 747.7,925.74 748.2,925.79 748.7,925.84 749.2,925.89 749.7,925.94 750.2,925.99 750.7,926.04 751.2,926.09 751.7,926.14 752.2,926.19 752.7,926.25 753.2,926.3 753.7,926.35 754.2,926.4 754.7,926.46 755.2,926.51 755.7,926.56 756.2,926.6 756.7,926.63 757.2,926.65 757.7,926.63 758.2,926.55 758.7,926.39 759.2,926.1 759.7,925.68 760.2,925.12 760.7,924.48 761.2,923.83 761.7,923.29 762.2,922.95 762.7,922.91 763.2,923.09 763.7,923.44 764.2,923.92 764.7,924.45 765.2,924.96 765.7,925.38 766.2,925.63 766.7,925.67 767.2,925.48 767.7,925.09 768.2,924.56 768.7,924 769.2,923.54 769.7,923.29 770.2,923.31 770.7,923.53 771.2,923.92 771.7,924.42 772.2,924.99 772.7,925.56 773.2,926.09 773.7,926.55 774.2,926.91 774.7,927.19 775.2,927.39 775.7,927.53 776.2,927.62 776.7,927.68 777.2,927.71 777.7,927.73 778.2,927.74 778.7,927.75 779.2,927.76 779.7,927.76 780.2,927.77 780.7,927.77 781.2,927.77 781.7,927.78 782.2,927.78 782.7,927.78 783.2,927.78 783.7,927.78 784.2,927.79 784.7,927.79 785.2,927.78 785.7,927.78 786.2,927.76 786.7,927.74 787.2,927.69 787.7,927.61 788.2,927.5 788.7,927.35 789.2,927.17 789.7,926.99 790.2,926.83 790.7,926.71 791.2,926.67 791.7,926.7 792.2,926.77 792.7,926.88 793.2,927.02 793.7,927.17 794.2,927.31 794.7,927.44 795.2,927.55 795.7,927.63 796.2,927.69 796.7,927.73 797.2,927.76 797.7,927.78 798.2,927.79 798.7,927.79 799.2,927.8 799.7,927.8 800.2,927.8 800.7,927.8 801.2,927.8 801.7,927.8 802.2,927.8 802.7,927.8 803.2,927.8 803.7,927.8 804.2,927.8 804.7,927.8 805.2,927.8 805.7,927.8 806.2,927.8 806.7,927.8 807.2,927.8 807.7,927.8 808.2,927.8 808.7,927.8 809.2,927.8 809.7,927.8 810.2,927.8 810.7,927.8 811.2,927.8 811.7,927.8 812.2,927.8 812.7,927.8 813.2,927.8 813.7,927.8 814.2,927.8 814.7,927.8 815.2,927.8 815.7,927.8 816.2,927.8 816.7,927.8 817.2,927.8 817.7,927.8 818.2,927.8 818.7,927.8 819.2,927.8 819.7,927.8 820.2,927.8 820.7,927.8 821.2,927.8 821.7,927.8 822.2,927.8 822.7,927.8 823.2,927.8 823.7,927.8 824.2,927.8 824.7,927.8 825.2,927.8 825.7,927.8 826.2,927.8 826.7,927.8 827.2,927.8 827.7,927.8 828.2,927.8 828.7,927.8 829.2,927.8 829.7,927.8 830.2,927.8 830.7,927.8 831.2,927.8 831.7,927.8 832.2,927.8 832.7,927.8 833.2,927.8 833.7,927.8 834.2,927.8 834.7,927.8 835.2,927.8 835.7,927.8 836.2,927.8 836.7,927.8 837.2,927.8 837.7,927.8 838.2,927.8 838.7,927.8 839.2,927.8 839.7,927.8 840.2,927.8 840.7,927.8 841.2,927.8 841.7,927.8 842.2,927.8 842.7,927.8 843.2,927.8 843.7,927.8 844.2,927.8 844.7,927.8 845.2,927.8 845.7,927.8 846.2,927.8 846.7,927.8 847.2,927.8 847.7,927.8 848.2,927.8 848.7,927.8 849.2,927.8 849.7,927.8 850.2,927.8 850.7,927.8 851.2,927.8 851.7,927.8 852.2,927.8 852.7,927.8 853.2,927.8 853.7,927.8 854.2,927.8 854.7,927.8 855.2,927.8 855.7,927.8 856.2,927.8 856.7,927.8 857.2,927.8 857.7,927.8 858.2,927.8 858.7,927.8 859.2,927.8 859.7,927.8 860.2,927.8 860.7,927.8 861.2,927.8 861.7,927.8 862.2,927.8 862.7,927.8 863.2,927.8 863.7,927.8 864.2,927.8 864.7,927.8 865.2,927.8 865.7,927.8 866.2,927.8 866.7,927.8 867.2,927.8 867.7,927.8 868.2,927.8 868.7,927.8 869.2,927.8 869.7,927.8 870.2,927.8 870.7,927.8 871.2,927.8 871.7,927.8 872.2,927.8 872.7,927.8 873.2,927.8 873.7,927.8 874.2,927.8 874.7,927.8 875.2,927.8 875.7,927.8 876.2,927.8 876.7,927.8 877.2,927.8 877.7,927.8 878.2,927.8 878.7,927.8 879.2,927.8 879.7,927.8 880.2,927.8 880.7,927.8 881.2,927.8 881.7,927.8 882.2,927.8 882.7,927.8 883.2,927.8 883.7,927.8 884.2,927.8 884.7,927.8 885.2,927.8 885.7,927.8 886.2,927.8 886.7,927.8 887.2,927.8 887.7,927.8 888.2,927.8 888.7,927.8 889.2,927.8 889.7,927.8 890.2,927.8 890.7,927.8 891.2,927.8 891.7,927.8 892.2,927.8 892.7,927.8 893.2,927.8 893.7,927.8 894.2,927.8 894.7,927.8 895.2,927.8 895.7,927.8 896.2,927.8 896.7,927.8 897.2,927.8 897.7,927.8 898.2,927.8 898.7,927.8 899.2,927.8 899.7,927.8 900.2,927.8 900.7,927.8 901.2,927.8 901.7,927.8 902.2,927.8 902.7,927.8 903.2,927.8 903.7,927.8 904.2,927.8 904.7,927.8 905.2,927.8 905.7,927.8 906.2,927.8 906.7,927.8 907.2,927.8 907.7,927.8 908.2,927.8 908.7,927.8 909.2,927.8 909.7,927.8 910.2,927.8 910.7,927.8 911.2,927.8 911.7,927.8 912.2,927.8 912.7,927.8 913.2,927.8 913.7,927.8 914.2,927.8 914.7,927.8 915.2,927.8 915.7,927.8 916.2,927.8 916.7,927.8 917.2,927.8 917.7,927.8 918.2,927.8 918.7,927.8 919.2,927.8 919.7,927.8 920.2,927.8 920.7,927.8 921.2,927.8 921.7,927.8 922.2,927.8 922.7,927.8 923.2,927.8 923.7,927.8 924.2,927.8 924.7,927.8 925.2,927.8 925.7,927.8 926.2,927.8 926.7,927.8 927.2,927.8 927.7,927.8 928.2,927.8 928.7,927.8 929.2,927.8 929.7,927.8 930.2,927.8 930.7,927.8 931.2,927.8 931.7,927.8 932.2,927.8 932.7,927.8 933.2,927.8 933.7,927.8 934.2,927.8 934.7,927.8 935.2,927.8 935.7,927.8 936.2,927.8 936.7,927.8 937.2,927.8 937.7,927.8 938.2,927.8 938.7,927.8 939.2,927.8 939.7,927.8 940.2,927.8 940.7,927.8 941.2,927.8 941.7,927.8 942.2,927.8 942.7,927.8 943.2,927.8 943.7,927.8 944.2,927.8 944.7,927.8 945.2,927.8 945.7,927.8 946.2,927.8 946.7,927.8 947.2,927.8 947.7,927.8 948.2,927.8 948.7,927.8 949.2,927.8 949.7,927.8 950.2,927.8 950.7,927.8 951.2,927.8 951.7,927.8 952.2,927.8 952.7,927.8 953.2,927.8 953.7,927.8 954.2,927.8 954.7,927.8 955.2,927.8 955.7,927.8 956.2,927.8 956.7,927.8 957.2,927.8 957.7,927.8 958.2,927.8 958.7,927.8 959.2,927.8 959.7,927.8 960.2,927.8 960.7,927.8 961.2,927.8 961.7,927.8 962.2,927.8 962.7,927.8 963.2,927.8 963.7,927.8 964.2,927.8 964.7,927.8 965.2,927.8 965.7,927.8 966.2,927.8 966.7,927.8 967.2,927.8 967.7,927.8 968.2,927.8 968.7,927.8 969.2,927.8 969.7,927.8 970.2,927.8 970.7,927.8 971.2,927.8 971.7,927.8 972.2,927.8 972.7,927.8 973.2,927.8 973.7,927.8 974.2,927.8 974.7,927.8 975.2,927.8 975.7,927.8 976.2,927.8 976.7,927.8 977.2,927.8 977.7,927.8 978.2,927.8 978.7,927.8 979.2,927.8 979.7,927.8 980.2,927.8 980.7,927.8 981.2,927.8 981.7,927.8 982.2,927.8 982.7,927.8 983.2,927.8 983.7,927.8 984.2,927.8 984.7,927.8 985.2,927.8 985.7,927.8 986.2,927.8 986.7,927.8 987.2,927.8 987.7,927.8 988.2,927.8 988.7,927.8 989.2,927.8 989.7,927.8 990.2,927.8 990.7,927.8 991.2,927.8 991.7,927.8 992.2,927.8 992.7,927.8 993.2,927.8 993.7,927.8 994.2,927.8 994.7,927.8 995.2,927.8 995.7,927.8 996.2,927.8 996.7,927.8 997.2,927.8 997.7,927.8 998.2,927.8 998.7,927.8 999.2,927.8 999.7,927.8 1000.2,927.8 1000.7,927.8 1001.2,927.8 1001.7,927.8 1002.2,927.8 1002.7,927.8 1003.2,927.8 1003.7,927.8 1004.2,927.8 1004.7,927.8 1005.2,927.8 1005.7,927.8 1006.2,927.8 1006.7,927.8 1007.2,927.8 1007.7,927.8 1008.2,927.8 1008.7,927.8 1009.2,927.8 1009.7,927.8 1010.2,927.8 1010.7,927.8 1011.2,927.8 1011.7,927.8 1012.2,927.8 1012.7,927.8 1013.2,927.8 1013.7,927.8 1014.2,927.8 1014.7,927.8 1015.2,927.8 1015.7,927.8 1016.2,927.8 1016.7,927.8 1017.2,927.8 1017.7,927.8 1018.2,927.8 1018.7,927.8 1019.2,927.8 1019.7,927.8 1020.2,927.8 1020.7,927.8 1021.2,927.8 1021.7,927.8 1022.2,927.8 1022.7,927.8 1023.2,927.8 1023.7,927.8 1024.2,927.8 1024.7,927.8 1025.2,927.8 1025.7,927.8 1026.2,927.8 1026.7,927.8 1027.2,927.8 1027.7,927.8 1028.2,927.8 1028.7,927.8 1029.2,927.8 1029.7,927.8 1030.2,927.8 1030.7,927.8 1031.2,927.8 1031.7,927.8 1032.2,927.8 1032.7,927.8 1033.2,927.8 1033.7,927.8 1034.2,927.8 1034.7,927.8 1035.2,927.8 1035.7,927.8 1036.2,927.8 1036.7,927.8 1037.2,927.8 1037.7,927.8 1038.2,927.8 1038.7,927.8 1039.2,927.8 1039.7,927.8 1040.2,927.8 1040.7,927.8 1041.2,927.8 1041.7,927.8 1042.2,927.8 1042.7,927.8 1043.2,927.8 1043.7,927.8 1044.2,927.8 1044.7,927.8 1045.2,927.8 1045.7,927.8 1046.2,927.8 1046.7,927.8 1047.2,927.8 1047.7,927.8 1048.2,927.8 1048.7,927.8 1049.2,927.8 1049.7,927.8 1050.2,927.8 1050.7,927.8 1051.2,927.8 1051.7,927.8 1052.2,927.8 1052.7,927.8 1053.2,927.8 1053.7,927.8 1054.2,927.8 1054.7,927.8 1055.2,927.8 1055.7,927.8 1056.2,927.8 1056.7,927.8 1057.2,927.8 1057.7,927.8"/>
<line x1="207.2" y1="970.2" x2="207.2" y2="1081.3" stroke="#3c3c3c" stroke-width="1.4"/>
<line x1="202.7" y1="1077.5" x2="207.2" y2="1077.5" stroke="#3c3c3c" stroke-width="1"/>
<line x1="205.2" y1="1064.92" x2="207.2" y2="1064.92" stroke="#3c3c3c" stroke-width="1"/>
<line x1="205.2" y1="1052.34" x2="207.2" y2="1052.34" stroke="#3c3c3c" stroke-width="1"/>
<line x1="205.2" y1="1039.76" x2="207.2" y2="1039.76" stroke="#3c3c3c" stroke-width="1"/>
<line x1="205.2" y1="1027.18" x2="207.2" y2="1027.18" stroke="#3c3c3c" stroke-width="1"/>
<line x1="202.7" y1="1014.6" x2="207.2" y2="1014.6" stroke="#3c3c3c" stroke-width="1"/>
<line x1="205.2" y1="1002.02" x2="207.2" y2="1002.02" stroke="#3c3c3c" stroke-width="1"/>
<line x1="205.2" y1="989.44" x2="207.2" y2="989.44" stroke="#3c3c3c" stroke-width="1"/>
<line x1="205.2" y1="976.86" x2="207.2" y2="976.86" stroke="#3c3c3c" stroke-width="1"/>
<text x="201.2" y="1084.4" font-size="16" text-anchor="end" font-weight="normal" fill="#4a4a4a" textLength="7.1" lengthAdjust="spacingAndGlyphs">0</text>
<text x="201.2" y="1021.5" font-size="16" text-anchor="end" font-weight="normal" fill="#4a4a4a" textLength="21.3" lengthAdjust="spacingAndGlyphs">250</text>
<rect x="207.2" y="1078" width="850.5" height="2.1" fill="#b4b4b4"/>
<line x1="207.2" y1="1080.6" x2="1057.7" y2="1080.6" stroke="#3c3c3c" stroke-width="1.4"/>
<line x1="207.2" y1="1080.6" x2="207.2" y2="1085.4" stroke="#777" stroke-width="1"/>
<line x1="221.38" y1="1080.6" x2="221.38" y2="1082.8" stroke="#3c3c3c" stroke-width="1"/>
<line x1="235.55" y1="1080.6" x2="235.55" y2="1082.8" stroke="#3c3c3c" stroke-width="1"/>
<line x1="249.72" y1="1080.6" x2="249.72" y2="1082.8" stroke="#3c3c3c" stroke-width="1"/>
<line x1="263.9" y1="1080.6" x2="263.9" y2="1085.4" stroke="#777" stroke-width="1"/>
<text x="264.2" y="1104.6" font-size="16" text-anchor="middle" font-weight="normal" fill="#4a4a4a" textLength="14" lengthAdjust="spacingAndGlyphs">12</text>
<line x1="278.07" y1="1080.6" x2="278.07" y2="1082.8" stroke="#3c3c3c" stroke-width="1"/>
<line x1="292.25" y1="1080.6" x2="292.25" y2="1082.8" stroke="#3c3c3c" stroke-width="1"/>
<line x1="306.43" y1="1080.6" x2="306.43" y2="1082.8" stroke="#3c3c3c" stroke-width="1"/>
<line x1="320.6" y1="1080.6" x2="320.6" y2="1085.4" stroke="#777" stroke-width="1"/>
<text x="320.9" y="1104.6" font-size="16" text-anchor="middle" font-weight="normal" fill="#4a4a4a" textLength="14" lengthAdjust="spacingAndGlyphs">14</text>
<line x1="334.77" y1="1080.6" x2="334.77" y2="1082.8" stroke="#3c3c3c" stroke-width="1"/>
<line x1="348.95" y1="1080.6" x2="348.95" y2="1082.8" stroke="#3c3c3c" stroke-width="1"/>
<line x1="363.12" y1="1080.6" x2="363.12" y2="1082.8" stroke="#3c3c3c" stroke-width="1"/>
<line x1="377.3" y1="1080.6" x2="377.3" y2="1085.4" stroke="#777" stroke-width="1"/>
<text x="377.6" y="1104.6" font-size="16" text-anchor="middle" font-weight="normal" fill="#4a4a4a" textLength="14" lengthAdjust="spacingAndGlyphs">16</text>
<line x1="391.48" y1="1080.6" x2="391.48" y2="1082.8" stroke="#3c3c3c" stroke-width="1"/>
<line x1="405.65" y1="1080.6" x2="405.65" y2="1082.8" stroke="#3c3c3c" stroke-width="1"/>
<line x1="419.82" y1="1080.6" x2="419.82" y2="1082.8" stroke="#3c3c3c" stroke-width="1"/>
<line x1="434" y1="1080.6" x2="434" y2="1085.4" stroke="#777" stroke-width="1"/>
<text x="434.3" y="1104.6" font-size="16" text-anchor="middle" font-weight="normal" fill="#4a4a4a" textLength="14" lengthAdjust="spacingAndGlyphs">18</text>
<line x1="448.18" y1="1080.6" x2="448.18" y2="1082.8" stroke="#3c3c3c" stroke-width="1"/>
<line x1="462.35" y1="1080.6" x2="462.35" y2="1082.8" stroke="#3c3c3c" stroke-width="1"/>
<line x1="476.52" y1="1080.6" x2="476.52" y2="1082.8" stroke="#3c3c3c" stroke-width="1"/>
<line x1="490.7" y1="1080.6" x2="490.7" y2="1085.4" stroke="#777" stroke-width="1"/>
<text x="491" y="1104.6" font-size="16" text-anchor="middle" font-weight="normal" fill="#4a4a4a" textLength="14" lengthAdjust="spacingAndGlyphs">20</text>
<line x1="504.88" y1="1080.6" x2="504.88" y2="1082.8" stroke="#3c3c3c" stroke-width="1"/>
<line x1="519.05" y1="1080.6" x2="519.05" y2="1082.8" stroke="#3c3c3c" stroke-width="1"/>
<line x1="533.23" y1="1080.6" x2="533.23" y2="1082.8" stroke="#3c3c3c" stroke-width="1"/>
<line x1="547.4" y1="1080.6" x2="547.4" y2="1085.4" stroke="#777" stroke-width="1"/>
<text x="547.7" y="1104.6" font-size="16" text-anchor="middle" font-weight="normal" fill="#4a4a4a" textLength="14" lengthAdjust="spacingAndGlyphs">22</text>
<line x1="561.58" y1="1080.6" x2="561.58" y2="1082.8" stroke="#3c3c3c" stroke-width="1"/>
<line x1="575.75" y1="1080.6" x2="575.75" y2="1082.8" stroke="#3c3c3c" stroke-width="1"/>
<line x1="589.92" y1="1080.6" x2="589.92" y2="1082.8" stroke="#3c3c3c" stroke-width="1"/>
<line x1="604.1" y1="1080.6" x2="604.1" y2="1085.4" stroke="#777" stroke-width="1"/>
<text x="604.4" y="1104.6" font-size="16" text-anchor="middle" font-weight="normal" fill="#4a4a4a" textLength="14" lengthAdjust="spacingAndGlyphs">24</text>
<line x1="618.28" y1="1080.6" x2="618.28" y2="1082.8" stroke="#3c3c3c" stroke-width="1"/>
<line x1="632.45" y1="1080.6" x2="632.45" y2="1082.8" stroke="#3c3c3c" stroke-width="1"/>
<line x1="646.62" y1="1080.6" x2="646.62" y2="1082.8" stroke="#3c3c3c" stroke-width="1"/>
<line x1="660.8" y1="1080.6" x2="660.8" y2="1085.4" stroke="#777" stroke-width="1"/>
<text x="661.1" y="1104.6" font-size="16" text-anchor="middle" font-weight="normal" fill="#4a4a4a" textLength="14" lengthAdjust="spacingAndGlyphs">26</text>
<line x1="674.98" y1="1080.6" x2="674.98" y2="1082.8" stroke="#3c3c3c" stroke-width="1"/>
<line x1="689.15" y1="1080.6" x2="689.15" y2="1082.8" stroke="#3c3c3c" stroke-width="1"/>
<line x1="703.33" y1="1080.6" x2="703.33" y2="1082.8" stroke="#3c3c3c" stroke-width="1"/>
<line x1="717.5" y1="1080.6" x2="717.5" y2="1085.4" stroke="#777" stroke-width="1"/>
<text x="717.8" y="1104.6" font-size="16" text-anchor="middle" font-weight="normal" fill="#4a4a4a" textLength="14" lengthAdjust="spacingAndGlyphs">28</text>
<line x1="731.67" y1="1080.6" x2="731.67" y2="1082.8" stroke="#3c3c3c" stroke-width="1"/>
<line x1="745.85" y1="1080.6" x2="745.85" y2="1082.8" stroke="#3c3c3c" stroke-width="1"/>
<line x1="760.03" y1="1080.6" x2="760.03" y2="1082.8" stroke="#3c3c3c" stroke-width="1"/>
<line x1="774.2" y1="1080.6" x2="774.2" y2="1085.4" stroke="#777" stroke-width="1"/>
<text x="774.5" y="1104.6" font-size="16" text-anchor="middle" font-weight="normal" fill="#4a4a4a" textLength="14" lengthAdjust="spacingAndGlyphs">30</text>
<line x1="788.38" y1="1080.6" x2="788.38" y2="1082.8" stroke="#3c3c3c" stroke-width="1"/>
<line x1="802.55" y1="1080.6" x2="802.55" y2="1082.8" stroke="#3c3c3c" stroke-width="1"/>
<line x1="816.72" y1="1080.6" x2="816.72" y2="1082.8" stroke="#3c3c3c" stroke-width="1"/>
<line x1="830.9" y1="1080.6" x2="830.9" y2="1085.4" stroke="#777" stroke-width="1"/>
<text x="831.2" y="1104.6" font-size="16" text-anchor="middle" font-weight="normal" fill="#4a4a4a" textLength="14" lengthAdjust="spacingAndGlyphs">32</text>
<line x1="845.08" y1="1080.6" x2="845.08" y2="1082.8" stroke="#3c3c3c" stroke-width="1"/>
<line x1="859.25" y1="1080.6" x2="859.25" y2="1082.8" stroke="#3c3c3c" stroke-width="1"/>
<line x1="873.42" y1="1080.6" x2="873.42" y2="1082.8" stroke="#3c3c3c" stroke-width="1"/>
<line x1="887.6" y1="1080.6" x2="887.6" y2="1085.4" stroke="#777" stroke-width="1"/>
<text x="887.9" y="1104.6" font-size="16" text-anchor="middle" font-weight="normal" fill="#4a4a4a" textLength="14" lengthAdjust="spacingAndGlyphs">34</text>
<line x1="901.78" y1="1080.6" x2="901.78" y2="1082.8" stroke="#3c3c3c" stroke-width="1"/>
<line x1="915.95" y1="1080.6" x2="915.95" y2="1082.8" stroke="#3c3c3c" stroke-width="1"/>
<line x1="930.12" y1="1080.6" x2="930.12" y2="1082.8" stroke="#3c3c3c" stroke-width="1"/>
<line x1="944.3" y1="1080.6" x2="944.3" y2="1085.4" stroke="#777" stroke-width="1"/>
<text x="944.6" y="1104.6" font-size="16" text-anchor="middle" font-weight="normal" fill="#4a4a4a" textLength="14" lengthAdjust="spacingAndGlyphs">36</text>
<line x1="958.48" y1="1080.6" x2="958.48" y2="1082.8" stroke="#3c3c3c" stroke-width="1"/>
<line x1="972.65" y1="1080.6" x2="972.65" y2="1082.8" stroke="#3c3c3c" stroke-width="1"/>
<line x1="986.83" y1="1080.6" x2="986.83" y2="1082.8" stroke="#3c3c3c" stroke-width="1"/>
<line x1="1001" y1="1080.6" x2="1001" y2="1085.4" stroke="#777" stroke-width="1"/>
<text x="1001.3" y="1104.6" font-size="16" text-anchor="middle" font-weight="normal" fill="#4a4a4a" textLength="14" lengthAdjust="spacingAndGlyphs">38</text>
<line x1="1015.17" y1="1080.6" x2="1015.17" y2="1082.8" stroke="#3c3c3c" stroke-width="1"/>
<line x1="1029.35" y1="1080.6" x2="1029.35" y2="1082.8" stroke="#3c3c3c" stroke-width="1"/>
<line x1="1043.53" y1="1080.6" x2="1043.53" y2="1082.8" stroke="#3c3c3c" stroke-width="1"/>
<line x1="1057.7" y1="1080.6" x2="1057.7" y2="1085.4" stroke="#777" stroke-width="1"/>
<text x="1058" y="1104.6" font-size="16" text-anchor="middle" font-weight="normal" fill="#4a4a4a" textLength="14" lengthAdjust="spacingAndGlyphs">40</text>
<text transform="translate(166.2,1025.4) rotate(-90)" font-size="15.5" text-anchor="middle" fill="#555" textLength="79" lengthAdjust="spacingAndGlyphs">Signal [EU]</text>
<polyline fill="none" stroke="#ff4040" stroke-width="1.6" stroke-linejoin="round" points="207.2,1077.5 207.7,1077.5 208.2,1077.5 208.7,1077.5 209.2,1077.5 209.7,1077.5 210.2,1077.5 210.7,1077.5 211.2,1077.5 211.7,1077.5 212.2,1077.5 212.7,1077.5 213.2,1077.5 213.7,1077.5 214.2,1077.5 214.7,1077.5 215.2,1077.5 215.7,1077.5 216.2,1077.5 216.7,1077.5 217.2,1077.5 217.7,1077.5 218.2,1077.5 218.7,1077.5 219.2,1077.5 219.7,1077.5 220.2,1077.5 220.7,1077.5 221.2,1077.5 221.7,1077.5 222.2,1077.5 222.7,1077.5 223.2,1077.5 223.7,1077.5 224.2,1077.5 224.7,1077.5 225.2,1077.5 225.7,1077.5 226.2,1077.5 226.7,1077.5 227.2,1077.5 227.7,1077.5 228.2,1077.5 228.7,1077.5 229.2,1077.5 229.7,1077.5 230.2,1077.5 230.7,1077.5 231.2,1077.5 231.7,1077.5 232.2,1077.5 232.7,1077.5 233.2,1077.5 233.7,1077.5 234.2,1077.5 234.7,1077.5 235.2,1077.5 235.7,1077.5 236.2,1077.5 236.7,1077.5 237.2,1077.5 237.7,1077.5 238.2,1077.5 238.7,1077.5 239.2,1077.5 239.7,1077.5 240.2,1077.5 240.7,1077.5 241.2,1077.5 241.7,1077.5 242.2,1077.5 242.7,1077.5 243.2,1077.5 243.7,1077.5 244.2,1077.5 244.7,1077.5 245.2,1077.5 245.7,1077.5 246.2,1077.5 246.7,1077.5 247.2,1077.5 247.7,1077.5 248.2,1077.5 248.7,1077.5 249.2,1077.5 249.7,1077.5 250.2,1077.5 250.7,1077.5 251.2,1077.5 251.7,1077.5 252.2,1077.5 252.7,1077.5 253.2,1077.5 253.7,1077.5 254.2,1077.5 254.7,1077.5 255.2,1077.5 255.7,1077.5 256.2,1077.5 256.7,1077.5 257.2,1077.5 257.7,1077.5 258.2,1077.5 258.7,1077.5 259.2,1077.5 259.7,1077.5 260.2,1077.5 260.7,1077.5 261.2,1077.5 261.7,1077.5 262.2,1077.5 262.7,1077.5 263.2,1077.5 263.7,1077.5 264.2,1077.5 264.7,1077.5 265.2,1077.5 265.7,1077.5 266.2,1077.5 266.7,1077.5 267.2,1077.5 267.7,1077.5 268.2,1077.5 268.7,1077.5 269.2,1077.5 269.7,1077.5 270.2,1077.5 270.7,1077.5 271.2,1077.5 271.7,1077.5 272.2,1077.5 272.7,1077.5 273.2,1077.5 273.7,1077.5 274.2,1077.5 274.7,1077.5 275.2,1077.5 275.7,1077.5 276.2,1077.5 276.7,1077.5 277.2,1077.5 277.7,1077.5 278.2,1077.5 278.7,1077.5 279.2,1077.5 279.7,1077.5 280.2,1077.5 280.7,1077.5 281.2,1077.5 281.7,1077.5 282.2,1077.5 282.7,1077.5 283.2,1077.5 283.7,1077.5 284.2,1077.5 284.7,1077.5 285.2,1077.5 285.7,1077.5 286.2,1077.5 286.7,1077.5 287.2,1077.5 287.7,1077.5 288.2,1077.5 288.7,1077.5 289.2,1077.5 289.7,1077.5 290.2,1077.5 290.7,1077.5 291.2,1077.5 291.7,1077.5 292.2,1077.5 292.7,1077.5 293.2,1077.5 293.7,1077.5 294.2,1077.5 294.7,1077.5 295.2,1077.5 295.7,1077.5 296.2,1077.5 296.7,1077.5 297.2,1077.5 297.7,1077.5 298.2,1077.5 298.7,1077.5 299.2,1077.5 299.7,1077.5 300.2,1077.5 300.7,1077.5 301.2,1077.5 301.7,1077.5 302.2,1077.5 302.7,1077.5 303.2,1077.5 303.7,1077.5 304.2,1077.5 304.7,1077.5 305.2,1077.5 305.7,1077.5 306.2,1077.5 306.7,1077.5 307.2,1077.5 307.7,1077.5 308.2,1077.5 308.7,1077.5 309.2,1077.5 309.7,1077.5 310.2,1077.5 310.7,1077.5 311.2,1077.5 311.7,1077.5 312.2,1077.5 312.7,1077.5 313.2,1077.5 313.7,1077.5 314.2,1077.5 314.7,1077.5 315.2,1077.5 315.7,1077.5 316.2,1077.5 316.7,1077.5 317.2,1077.5 317.7,1077.5 318.2,1077.5 318.7,1077.5 319.2,1077.5 319.7,1077.5 320.2,1077.5 320.7,1077.5 321.2,1077.5 321.7,1077.5 322.2,1077.5 322.7,1077.5 323.2,1077.5 323.7,1077.5 324.2,1077.5 324.7,1077.5 325.2,1077.5 325.7,1077.5 326.2,1077.5 326.7,1077.5 327.2,1077.5 327.7,1077.5 328.2,1077.5 328.7,1077.5 329.2,1077.5 329.7,1077.5 330.2,1077.5 330.7,1077.5 331.2,1077.5 331.7,1077.5 332.2,1077.5 332.7,1077.5 333.2,1077.5 333.7,1077.5 334.2,1077.5 334.7,1077.5 335.2,1077.5 335.7,1077.5 336.2,1077.5 336.7,1077.5 337.2,1077.5 337.7,1077.5 338.2,1077.5 338.7,1077.5 339.2,1077.5 339.7,1077.5 340.2,1077.5 340.7,1077.5 341.2,1077.5 341.7,1077.5 342.2,1077.5 342.7,1077.5 343.2,1077.5 343.7,1077.5 344.2,1077.5 344.7,1077.5 345.2,1077.5 345.7,1077.5 346.2,1077.5 346.7,1077.5 347.2,1077.5 347.7,1077.5 348.2,1077.5 348.7,1077.5 349.2,1077.5 349.7,1077.5 350.2,1077.5 350.7,1077.5 351.2,1077.5 351.7,1077.49 352.2,1077.49 352.7,1077.47 353.2,1077.42 353.7,1077.34 354.2,1077.21 354.7,1076.98 355.2,1076.65 355.7,1076.2 356.2,1075.67 356.7,1075.09 357.2,1074.56 357.7,1074.16 358.2,1073.98 358.7,1074.03 359.2,1074.23 359.7,1074.57 360.2,1074.99 360.7,1075.45 361.2,1075.9 361.7,1076.31 362.2,1076.66 362.7,1076.93 363.2,1077.13 363.7,1077.27 364.2,1077.37 364.7,1077.43 365.2,1077.46 365.7,1077.48 366.2,1077.49 366.7,1077.5 367.2,1077.5 367.7,1077.5 368.2,1077.5 368.7,1077.5 369.2,1077.5 369.7,1077.5 370.2,1077.5 370.7,1077.5 371.2,1077.5 371.7,1077.5 372.2,1077.5 372.7,1077.5 373.2,1077.5 373.7,1077.5 374.2,1077.5 374.7,1077.5 375.2,1077.5 375.7,1077.5 376.2,1077.5 376.7,1077.5 377.2,1077.5 377.7,1077.5 378.2,1077.5 378.7,1077.5 379.2,1077.5 379.7,1077.5 380.2,1077.5 380.7,1077.5 381.2,1077.5 381.7,1077.5 382.2,1077.5 382.7,1077.5 383.2,1077.5 383.7,1077.5 384.2,1077.5 384.7,1077.5 385.2,1077.5 385.7,1077.5 386.2,1077.5 386.7,1077.5 387.2,1077.5 387.7,1077.5 388.2,1077.5 388.7,1077.5 389.2,1077.5 389.7,1077.5 390.2,1077.5 390.7,1077.5 391.2,1077.5 391.7,1077.5 392.2,1077.5 392.7,1077.5 393.2,1077.5 393.7,1077.5 394.2,1077.5 394.7,1077.5 395.2,1077.5 395.7,1077.5 396.2,1077.5 396.7,1077.5 397.2,1077.5 397.7,1077.5 398.2,1077.5 398.7,1077.5 399.2,1077.5 399.7,1077.5 400.2,1077.5 400.7,1077.5 401.2,1077.5 401.7,1077.5 402.2,1077.5 402.7,1077.5 403.2,1077.5 403.7,1077.5 404.2,1077.5 404.7,1077.5 405.2,1077.5 405.7,1077.5 406.2,1077.5 406.7,1077.5 407.2,1077.5 407.7,1077.5 408.2,1077.5 408.7,1077.5 409.2,1077.5 409.7,1077.5 410.2,1077.5 410.7,1077.5 411.2,1077.5 411.7,1077.5 412.2,1077.5 412.7,1077.5 413.2,1077.5 413.7,1077.5 414.2,1077.5 414.7,1077.5 415.2,1077.5 415.7,1077.5 416.2,1077.5 416.7,1077.5 417.2,1077.5 417.7,1077.5 418.2,1077.5 418.7,1077.5 419.2,1077.5 419.7,1077.5 420.2,1077.5 420.7,1077.5 421.2,1077.5 421.7,1077.5 422.2,1077.5 422.7,1077.5 423.2,1077.5 423.7,1077.5 424.2,1077.5 424.7,1077.5 425.2,1077.5 425.7,1077.5 426.2,1077.5 426.7,1077.5 427.2,1077.5 427.7,1077.5 428.2,1077.5 428.7,1077.5 429.2,1077.5 429.7,1077.5 430.2,1077.5 430.7,1077.5 431.2,1077.5 431.7,1077.5 432.2,1077.5 432.7,1077.5 433.2,1077.5 433.7,1077.5 434.2,1077.5 434.7,1077.5 435.2,1077.5 435.7,1077.5 436.2,1077.5 436.7,1077.5 437.2,1077.5 437.7,1077.5 438.2,1077.5 438.7,1077.5 439.2,1077.5 439.7,1077.5 440.2,1077.5 440.7,1077.5 441.2,1077.5 441.7,1077.5 442.2,1077.5 442.7,1077.5 443.2,1077.5 443.7,1077.5 444.2,1077.5 444.7,1077.5 445.2,1077.5 445.7,1077.5 446.2,1077.5 446.7,1077.5 447.2,1077.5 447.7,1077.5 448.2,1077.5 448.7,1077.5 449.2,1077.5 449.7,1077.5 450.2,1077.5 450.7,1077.5 451.2,1077.5 451.7,1077.5 452.2,1077.5 452.7,1077.5 453.2,1077.5 453.7,1077.5 454.2,1077.5 454.7,1077.5 455.2,1077.5 455.7,1077.5 456.2,1077.5 456.7,1077.5 457.2,1077.5 457.7,1077.5 458.2,1077.5 458.7,1077.5 459.2,1077.5 459.7,1077.5 460.2,1077.5 460.7,1077.5 461.2,1077.5 461.7,1077.5 462.2,1077.5 462.7,1077.5 463.2,1077.5 463.7,1077.5 464.2,1077.5 464.7,1077.5 465.2,1077.5 465.7,1077.5 466.2,1077.5 466.7,1077.5 467.2,1077.5 467.7,1077.5 468.2,1077.5 468.7,1077.5 469.2,1077.5 469.7,1077.5 470.2,1077.5 470.7,1077.5 471.2,1077.5 471.7,1077.5 472.2,1077.5 472.7,1077.5 473.2,1077.5 473.7,1077.5 474.2,1077.5 474.7,1077.5 475.2,1077.5 475.7,1077.5 476.2,1077.5 476.7,1077.5 477.2,1077.5 477.7,1077.5 478.2,1077.5 478.7,1077.5 479.2,1077.5 479.7,1077.5 480.2,1077.5 480.7,1077.5 481.2,1077.5 481.7,1077.5 482.2,1077.5 482.7,1077.5 483.2,1077.5 483.7,1077.5 484.2,1077.5 484.7,1077.5 485.2,1077.5 485.7,1077.5 486.2,1077.5 486.7,1077.5 487.2,1077.5 487.7,1077.5 488.2,1077.5 488.7,1077.5 489.2,1077.5 489.7,1077.5 490.2,1077.5 490.7,1077.5 491.2,1077.5 491.7,1077.5 492.2,1077.5 492.7,1077.5 493.2,1077.5 493.7,1077.5 494.2,1077.5 494.7,1077.5 495.2,1077.5 495.7,1077.5 496.2,1077.5 496.7,1077.5 497.2,1077.5 497.7,1077.5 498.2,1077.5 498.7,1077.5 499.2,1077.5 499.7,1077.5 500.2,1077.5 500.7,1077.5 501.2,1077.5 501.7,1077.5 502.2,1077.5 502.7,1077.5 503.2,1077.5 503.7,1077.5 504.2,1077.5 504.7,1077.5 505.2,1077.5 505.7,1077.5 506.2,1077.5 506.7,1077.5 507.2,1077.5 507.7,1077.5 508.2,1077.5 508.7,1077.5 509.2,1077.5 509.7,1077.5 510.2,1077.5 510.7,1077.5 511.2,1077.5 511.7,1077.5 512.2,1077.5 512.7,1077.5 513.2,1077.5 513.7,1077.5 514.2,1077.5 514.7,1077.5 515.2,1077.5 515.7,1077.49 516.2,1077.49 516.7,1077.47 517.2,1077.44 517.7,1077.39 518.2,1077.3 518.7,1077.16 519.2,1076.98 519.7,1076.75 520.2,1076.51 520.7,1076.27 521.2,1076.09 521.7,1076 522.2,1076 522.7,1076.08 523.2,1076.22 523.7,1076.39 524.2,1076.59 524.7,1076.78 525.2,1076.96 525.7,1077.12 526.2,1077.24 526.7,1077.33 527.2,1077.39 527.7,1077.44 528.2,1077.46 528.7,1077.48 529.2,1077.49 529.7,1077.5 530.2,1077.5 530.7,1077.5 531.2,1077.5 531.7,1077.5 532.2,1077.5 532.7,1077.49 533.2,1077.49 533.7,1077.47 534.2,1077.44 534.7,1077.39 535.2,1077.3 535.7,1077.16 536.2,1076.98 536.7,1076.76 537.2,1076.51 537.7,1076.28 538.2,1076.09 538.7,1076 539.2,1076 539.7,1076.08 540.2,1076.21 540.7,1076.39 541.2,1076.59 541.7,1076.78 542.2,1076.96 542.7,1077.11 543.2,1077.24 543.7,1077.33 544.2,1077.39 544.7,1077.44 545.2,1077.46 545.7,1077.48 546.2,1077.49 546.7,1077.5 547.2,1077.5 547.7,1077.5 548.2,1077.5 548.7,1077.5 549.2,1077.5 549.7,1077.5 550.2,1077.5 550.7,1077.5 551.2,1077.49 551.7,1077.49 552.2,1077.47 552.7,1077.45 553.2,1077.4 553.7,1077.32 554.2,1077.2 554.7,1077.04 555.2,1076.85 555.7,1076.65 556.2,1076.46 556.7,1076.31 557.2,1076.24 557.7,1076.26 558.2,1076.33 558.7,1076.45 559.2,1076.6 559.7,1076.76 560.2,1076.92 560.7,1077.07 561.2,1077.19 561.7,1077.29 562.2,1077.36 562.7,1077.41 563.2,1077.42 563.7,1077.39 564.2,1077.28 564.7,1077.02 565.2,1076.5 565.7,1075.53 566.2,1073.88 566.7,1071.32 567.2,1067.71 567.7,1063.08 568.2,1057.76 568.7,1052.41 569.2,1047.87 569.7,1044.99 570.2,1044.33 570.7,1045.47 571.2,1047.99 571.7,1051.57 572.2,1055.76 572.7,1060.11 573.2,1064.23 573.7,1067.84 574.2,1070.79 574.7,1073.06 575.2,1074.69 575.7,1075.81 576.2,1076.53 576.7,1076.97 577.2,1077.22 577.7,1077.36 578.2,1077.43 578.7,1077.47 579.2,1077.49 579.7,1077.49 580.2,1077.5 580.7,1077.5 581.2,1077.5 581.7,1077.5 582.2,1077.5 582.7,1077.5 583.2,1077.5 583.7,1077.5 584.2,1077.5 584.7,1077.5 585.2,1077.5 585.7,1077.5 586.2,1077.5 586.7,1077.5 587.2,1077.5 587.7,1077.5 588.2,1077.49 588.7,1077.48 589.2,1077.45 589.7,1077.39 590.2,1077.3 590.7,1077.16 591.2,1076.95 591.7,1076.68 592.2,1076.36 592.7,1076.01 593.2,1075.68 593.7,1075.38 594.2,1075.11 594.7,1074.77 595.2,1074.22 595.7,1073.33 596.2,1071.96 596.7,1070.07 597.2,1067.74 597.7,1065.21 598.2,1062.87 598.7,1061.17 599.2,1060.47 599.7,1060.81 600.2,1061.87 600.7,1063.52 601.2,1065.57 601.7,1067.78 602.2,1069.95 602.7,1071.9 603.2,1073.54 603.7,1074.82 604.2,1075.78 604.7,1076.44 605.2,1076.88 605.7,1077.15 606.2,1077.31 606.7,1077.41 607.2,1077.45 607.7,1077.48 608.2,1077.49 608.7,1077.5 609.2,1077.5 609.7,1077.5 610.2,1077.5 610.7,1077.5 611.2,1077.5 611.7,1077.5 612.2,1077.5 612.7,1077.5 613.2,1077.5 613.7,1077.5 614.2,1077.5 614.7,1077.5 615.2,1077.49 615.7,1077.47 616.2,1077.44 616.7,1077.39 617.2,1077.29 617.7,1077.14 618.2,1076.92 618.7,1076.64 619.2,1076.32 619.7,1076 620.2,1075.72 620.7,1075.54 621.2,1075.49 621.7,1075.55 622.2,1075.7 622.7,1075.91 623.2,1076.17 623.7,1076.43 624.2,1076.68 624.7,1076.9 625.2,1077.07 625.7,1077.2 626.2,1077.28 626.7,1077.3 627.2,1077.27 627.7,1077.17 628.2,1077.02 628.7,1076.81 629.2,1076.58 629.7,1076.34 630.2,1076.14 630.7,1076.01 631.2,1075.99 631.7,1076.05 632.2,1076.17 632.7,1076.34 633.2,1076.53 633.7,1076.73 634.2,1076.91 634.7,1077.08 635.2,1077.21 635.7,1077.31 636.2,1077.38 636.7,1077.43 637.2,1077.46 637.7,1077.48 638.2,1077.49 638.7,1077.49 639.2,1077.5 639.7,1077.5 640.2,1077.5 640.7,1077.5 641.2,1077.5 641.7,1077.5 642.2,1077.5 642.7,1077.5 643.2,1077.5 643.7,1077.5 644.2,1077.5 644.7,1077.49 645.2,1077.48 645.7,1077.45 646.2,1077.39 646.7,1077.26 647.2,1077.04 647.7,1076.67 648.2,1076.11 648.7,1075.34 649.2,1074.38 649.7,1073.32 650.2,1072.29 650.7,1071.47 651.2,1071.01 651.7,1071 652.2,1071.3 652.7,1071.86 653.2,1072.61 653.7,1073.45 654.2,1074.3 654.7,1075.09 655.2,1075.77 655.7,1076.31 656.2,1076.72 656.7,1077.01 657.2,1077.21 657.7,1077.33 658.2,1077.41 658.7,1077.45 659.2,1077.47 659.7,1077.48 660.2,1077.49 660.7,1077.49 661.2,1077.49 661.7,1077.49 662.2,1077.49 662.7,1077.48 663.2,1077.48 663.7,1077.48 664.2,1077.48 664.7,1077.48 665.2,1077.47 665.7,1077.47 666.2,1077.47 666.7,1077.46 667.2,1077.46 667.7,1077.45 668.2,1077.44 668.7,1077.41 669.2,1077.34 669.7,1077.18 670.2,1076.81 670.7,1076 671.2,1074.38 671.7,1071.39 672.2,1066.3 672.7,1058.38 673.2,1047.11 673.7,1032.6 674.2,1015.84 674.7,998.81 675.2,984.19 675.7,974.68 676.2,972.19 676.7,975.49 677.2,983.23 677.7,994.36 678.2,1007.54 678.7,1021.3 679.2,1034.4 679.7,1045.92 680.2,1055.36 680.7,1062.62 681.2,1067.88 681.7,1071.46 682.2,1073.76 682.7,1075.16 683.2,1075.94 683.7,1076.34 684.2,1076.5 684.7,1076.51 685.2,1076.4 685.7,1076.2 686.2,1075.9 686.7,1075.51 687.2,1075.06 687.7,1074.6 688.2,1074.18 688.7,1073.88 689.2,1073.75 689.7,1073.76 690.2,1073.87 690.7,1074.07 691.2,1074.32 691.7,1074.58 692.2,1074.83 692.7,1075.04 693.2,1075.19 693.7,1075.28 694.2,1075.27 694.7,1075.14 695.2,1074.78 695.7,1074.02 696.2,1072.59 696.7,1070.13 697.2,1066.2 697.7,1060.47 698.2,1052.85 698.7,1043.73 699.2,1034.04 699.7,1025.18 700.2,1018.71 700.7,1015.92 701.2,1016.81 701.7,1020.34 702.2,1025.98 702.7,1033.04 703.2,1040.69 703.7,1048.18 704.2,1054.94 704.7,1060.6 705.2,1065.05 705.7,1068.34 706.2,1070.62 706.7,1072.11 707.2,1073.03 707.7,1073.54 708.2,1073.76 708.7,1073.73 709.2,1073.42 709.7,1072.75 710.2,1071.56 710.7,1069.68 711.2,1067.01 711.7,1063.58 712.2,1059.62 712.7,1055.61 713.2,1052.19 713.7,1049.99 714.2,1049.47 714.7,1050.3 715.2,1052.19 715.7,1054.87 716.2,1058.03 716.7,1061.33 717.2,1064.46 717.7,1067.22 718.2,1069.49 718.7,1071.24 719.2,1072.52 719.7,1073.4 720.2,1073.98 720.7,1074.33 721.2,1074.53 721.7,1074.6 722.2,1074.55 722.7,1074.36 723.2,1073.99 723.7,1073.41 724.2,1072.61 724.7,1071.62 725.2,1070.54 725.7,1069.53 726.2,1068.76 726.7,1068.39 727.2,1068.46 727.7,1068.85 728.2,1069.49 728.7,1070.31 729.2,1071.2 729.7,1072.08 730.2,1072.87 730.7,1073.51 731.2,1073.95 731.7,1074.14 732.2,1074.05 732.7,1073.6 733.2,1072.74 733.7,1071.45 734.2,1069.79 734.7,1067.89 735.2,1066.01 735.7,1064.47 736.2,1063.57 736.7,1063.46 737.2,1063.94 737.7,1064.91 738.2,1066.22 738.7,1067.73 739.2,1069.27 739.7,1070.71 740.2,1071.96 740.7,1072.97 741.2,1073.74 741.7,1074.29 742.2,1074.67 742.7,1074.92 743.2,1075.07 743.7,1075.17 744.2,1075.24 744.7,1075.29 745.2,1075.33 745.7,1075.36 746.2,1075.39 746.7,1075.43 747.2,1075.46 747.7,1075.49 748.2,1075.53 748.7,1075.56 749.2,1075.57 749.7,1075.57 750.2,1075.54 750.7,1075.46 751.2,1075.33 751.7,1075.12 752.2,1074.87 752.7,1074.59 753.2,1074.33 753.7,1074.14 754.2,1074.08 754.7,1074.14 755.2,1074.3 755.7,1074.54 756.2,1074.82 756.7,1075.13 757.2,1075.44 757.7,1075.73 758.2,1075.98 758.7,1076.19 759.2,1076.35 759.7,1076.48 760.2,1076.58 760.7,1076.66 761.2,1076.71 761.7,1076.75 762.2,1076.76 762.7,1076.74 763.2,1076.67 763.7,1076.54 764.2,1076.33 764.7,1076.05 765.2,1075.72 765.7,1075.39 766.2,1075.1 766.7,1074.92 767.2,1074.9 767.7,1074.99 768.2,1075.18 768.7,1075.44 769.2,1075.75 769.7,1076.06 770.2,1076.37 770.7,1076.63 771.2,1076.85 771.7,1077.02 772.2,1077.15 772.7,1077.24 773.2,1077.31 773.7,1077.35 774.2,1077.38 774.7,1077.4 775.2,1077.41 775.7,1077.42 776.2,1077.43 776.7,1077.44 777.2,1077.44 777.7,1077.45 778.2,1077.46 778.7,1077.46 779.2,1077.46 779.7,1077.47 780.2,1077.47 780.7,1077.47 781.2,1077.48 781.7,1077.48 782.2,1077.48 782.7,1077.48 783.2,1077.49 783.7,1077.49 784.2,1077.49 784.7,1077.49 785.2,1077.49 785.7,1077.49 786.2,1077.49 786.7,1077.49 787.2,1077.5 787.7,1077.5 788.2,1077.5 788.7,1077.5 789.2,1077.5 789.7,1077.5 790.2,1077.5 790.7,1077.5 791.2,1077.5 791.7,1077.5 792.2,1077.5 792.7,1077.5 793.2,1077.5 793.7,1077.5 794.2,1077.5 794.7,1077.5 795.2,1077.5 795.7,1077.5 796.2,1077.5 796.7,1077.5 797.2,1077.5 797.7,1077.5 798.2,1077.5 798.7,1077.5 799.2,1077.5 799.7,1077.5 800.2,1077.5 800.7,1077.5 801.2,1077.5 801.7,1077.5 802.2,1077.5 802.7,1077.5 803.2,1077.5 803.7,1077.5 804.2,1077.5 804.7,1077.5 805.2,1077.5 805.7,1077.5 806.2,1077.5 806.7,1077.5 807.2,1077.5 807.7,1077.5 808.2,1077.5 808.7,1077.5 809.2,1077.5 809.7,1077.5 810.2,1077.5 810.7,1077.5 811.2,1077.5 811.7,1077.5 812.2,1077.5 812.7,1077.5 813.2,1077.5 813.7,1077.5 814.2,1077.5 814.7,1077.5 815.2,1077.5 815.7,1077.5 816.2,1077.5 816.7,1077.5 817.2,1077.5 817.7,1077.5 818.2,1077.5 818.7,1077.5 819.2,1077.5 819.7,1077.5 820.2,1077.5 820.7,1077.5 821.2,1077.5 821.7,1077.5 822.2,1077.5 822.7,1077.5 823.2,1077.5 823.7,1077.5 824.2,1077.5 824.7,1077.5 825.2,1077.5 825.7,1077.5 826.2,1077.5 826.7,1077.5 827.2,1077.5 827.7,1077.5 828.2,1077.5 828.7,1077.5 829.2,1077.5 829.7,1077.5 830.2,1077.5 830.7,1077.5 831.2,1077.5 831.7,1077.5 832.2,1077.5 832.7,1077.5 833.2,1077.5 833.7,1077.5 834.2,1077.5 834.7,1077.5 835.2,1077.5 835.7,1077.5 836.2,1077.5 836.7,1077.5 837.2,1077.5 837.7,1077.5 838.2,1077.5 838.7,1077.5 839.2,1077.5 839.7,1077.5 840.2,1077.5 840.7,1077.5 841.2,1077.5 841.7,1077.5 842.2,1077.5 842.7,1077.5 843.2,1077.5 843.7,1077.5 844.2,1077.5 844.7,1077.5 845.2,1077.5 845.7,1077.5 846.2,1077.5 846.7,1077.5 847.2,1077.5 847.7,1077.5 848.2,1077.5 848.7,1077.5 849.2,1077.5 849.7,1077.5 850.2,1077.5 850.7,1077.5 851.2,1077.5 851.7,1077.5 852.2,1077.5 852.7,1077.5 853.2,1077.5 853.7,1077.5 854.2,1077.5 854.7,1077.5 855.2,1077.5 855.7,1077.5 856.2,1077.5 856.7,1077.5 857.2,1077.5 857.7,1077.5 858.2,1077.5 858.7,1077.5 859.2,1077.5 859.7,1077.5 860.2,1077.5 860.7,1077.5 861.2,1077.5 861.7,1077.5 862.2,1077.5 862.7,1077.5 863.2,1077.5 863.7,1077.5 864.2,1077.5 864.7,1077.5 865.2,1077.5 865.7,1077.5 866.2,1077.5 866.7,1077.5 867.2,1077.5 867.7,1077.5 868.2,1077.5 868.7,1077.5 869.2,1077.5 869.7,1077.5 870.2,1077.5 870.7,1077.5 871.2,1077.5 871.7,1077.5 872.2,1077.5 872.7,1077.5 873.2,1077.5 873.7,1077.5 874.2,1077.5 874.7,1077.5 875.2,1077.5 875.7,1077.5 876.2,1077.5 876.7,1077.5 877.2,1077.5 877.7,1077.5 878.2,1077.5 878.7,1077.5 879.2,1077.5 879.7,1077.5 880.2,1077.5 880.7,1077.5 881.2,1077.5 881.7,1077.5 882.2,1077.5 882.7,1077.5 883.2,1077.5 883.7,1077.5 884.2,1077.5 884.7,1077.5 885.2,1077.5 885.7,1077.5 886.2,1077.5 886.7,1077.5 887.2,1077.5 887.7,1077.5 888.2,1077.5 888.7,1077.5 889.2,1077.5 889.7,1077.5 890.2,1077.5 890.7,1077.5 891.2,1077.5 891.7,1077.5 892.2,1077.5 892.7,1077.5 893.2,1077.5 893.7,1077.5 894.2,1077.5 894.7,1077.5 895.2,1077.5 895.7,1077.5 896.2,1077.5 896.7,1077.5 897.2,1077.5 897.7,1077.5 898.2,1077.5 898.7,1077.5 899.2,1077.5 899.7,1077.5 900.2,1077.5 900.7,1077.5 901.2,1077.5 901.7,1077.5 902.2,1077.5 902.7,1077.5 903.2,1077.5 903.7,1077.5 904.2,1077.5 904.7,1077.5 905.2,1077.5 905.7,1077.5 906.2,1077.5 906.7,1077.5 907.2,1077.5 907.7,1077.5 908.2,1077.5 908.7,1077.5 909.2,1077.5 909.7,1077.5 910.2,1077.5 910.7,1077.5 911.2,1077.5 911.7,1077.5 912.2,1077.5 912.7,1077.5 913.2,1077.5 913.7,1077.5 914.2,1077.5 914.7,1077.5 915.2,1077.5 915.7,1077.5 916.2,1077.5 916.7,1077.5 917.2,1077.5 917.7,1077.5 918.2,1077.5 918.7,1077.5 919.2,1077.5 919.7,1077.5 920.2,1077.5 920.7,1077.5 921.2,1077.5 921.7,1077.5 922.2,1077.5 922.7,1077.5 923.2,1077.5 923.7,1077.5 924.2,1077.5 924.7,1077.5 925.2,1077.5 925.7,1077.5 926.2,1077.5 926.7,1077.5 927.2,1077.5 927.7,1077.5 928.2,1077.5 928.7,1077.5 929.2,1077.5 929.7,1077.5 930.2,1077.5 930.7,1077.5 931.2,1077.5 931.7,1077.5 932.2,1077.5 932.7,1077.5 933.2,1077.5 933.7,1077.5 934.2,1077.5 934.7,1077.5 935.2,1077.5 935.7,1077.5 936.2,1077.5 936.7,1077.5 937.2,1077.5 937.7,1077.5 938.2,1077.5 938.7,1077.5 939.2,1077.5 939.7,1077.5 940.2,1077.5 940.7,1077.5 941.2,1077.5 941.7,1077.5 942.2,1077.5 942.7,1077.5 943.2,1077.5 943.7,1077.5 944.2,1077.5 944.7,1077.5 945.2,1077.5 945.7,1077.5 946.2,1077.5 946.7,1077.5 947.2,1077.5 947.7,1077.5 948.2,1077.5 948.7,1077.5 949.2,1077.5 949.7,1077.5 950.2,1077.5 950.7,1077.5 951.2,1077.5 951.7,1077.5 952.2,1077.5 952.7,1077.5 953.2,1077.5 953.7,1077.5 954.2,1077.5 954.7,1077.5 955.2,1077.5 955.7,1077.5 956.2,1077.5 956.7,1077.5 957.2,1077.5 957.7,1077.5 958.2,1077.5 958.7,1077.5 959.2,1077.5 959.7,1077.5 960.2,1077.5 960.7,1077.5 961.2,1077.5 961.7,1077.5 962.2,1077.5 962.7,1077.5 963.2,1077.5 963.7,1077.5 964.2,1077.5 964.7,1077.5 965.2,1077.5 965.7,1077.5 966.2,1077.5 966.7,1077.5 967.2,1077.5 967.7,1077.5 968.2,1077.5 968.7,1077.5 969.2,1077.5 969.7,1077.5 970.2,1077.5 970.7,1077.5 971.2,1077.5 971.7,1077.5 972.2,1077.5 972.7,1077.5 973.2,1077.5 973.7,1077.5 974.2,1077.5 974.7,1077.5 975.2,1077.5 975.7,1077.5 976.2,1077.5 976.7,1077.5 977.2,1077.5 977.7,1077.5 978.2,1077.5 978.7,1077.5 979.2,1077.5 979.7,1077.5 980.2,1077.5 980.7,1077.5 981.2,1077.5 981.7,1077.5 982.2,1077.5 982.7,1077.5 983.2,1077.5 983.7,1077.5 984.2,1077.5 984.7,1077.5 985.2,1077.5 985.7,1077.5 986.2,1077.5 986.7,1077.5 987.2,1077.5 987.7,1077.5 988.2,1077.5 988.7,1077.5 989.2,1077.5 989.7,1077.5 990.2,1077.5 990.7,1077.5 991.2,1077.5 991.7,1077.5 992.2,1077.5 992.7,1077.5 993.2,1077.5 993.7,1077.5 994.2,1077.5 994.7,1077.5 995.2,1077.5 995.7,1077.5 996.2,1077.5 996.7,1077.5 997.2,1077.5 997.7,1077.5 998.2,1077.5 998.7,1077.5 999.2,1077.5 999.7,1077.5 1000.2,1077.5 1000.7,1077.5 1001.2,1077.5 1001.7,1077.5 1002.2,1077.5 1002.7,1077.5 1003.2,1077.5 1003.7,1077.5 1004.2,1077.5 1004.7,1077.5 1005.2,1077.5 1005.7,1077.5 1006.2,1077.5 1006.7,1077.5 1007.2,1077.5 1007.7,1077.5 1008.2,1077.5 1008.7,1077.5 1009.2,1077.5 1009.7,1077.5 1010.2,1077.5 1010.7,1077.5 1011.2,1077.5 1011.7,1077.5 1012.2,1077.5 1012.7,1077.5 1013.2,1077.5 1013.7,1077.5 1014.2,1077.5 1014.7,1077.5 1015.2,1077.5 1015.7,1077.5 1016.2,1077.5 1016.7,1077.5 1017.2,1077.5 1017.7,1077.5 1018.2,1077.5 1018.7,1077.5 1019.2,1077.5 1019.7,1077.5 1020.2,1077.5 1020.7,1077.5 1021.2,1077.5 1021.7,1077.5 1022.2,1077.5 1022.7,1077.5 1023.2,1077.5 1023.7,1077.5 1024.2,1077.5 1024.7,1077.5 1025.2,1077.5 1025.7,1077.5 1026.2,1077.5 1026.7,1077.5 1027.2,1077.5 1027.7,1077.5 1028.2,1077.5 1028.7,1077.5 1029.2,1077.5 1029.7,1077.5 1030.2,1077.5 1030.7,1077.5 1031.2,1077.5 1031.7,1077.5 1032.2,1077.5 1032.7,1077.5 1033.2,1077.5 1033.7,1077.5 1034.2,1077.5 1034.7,1077.5 1035.2,1077.5 1035.7,1077.5 1036.2,1077.5 1036.7,1077.5 1037.2,1077.5 1037.7,1077.5 1038.2,1077.5 1038.7,1077.5 1039.2,1077.5 1039.7,1077.5 1040.2,1077.5 1040.7,1077.5 1041.2,1077.5 1041.7,1077.5 1042.2,1077.5 1042.7,1077.5 1043.2,1077.5 1043.7,1077.5 1044.2,1077.5 1044.7,1077.5 1045.2,1077.5 1045.7,1077.5 1046.2,1077.5 1046.7,1077.5 1047.2,1077.5 1047.7,1077.5 1048.2,1077.5 1048.7,1077.5 1049.2,1077.5 1049.7,1077.5 1050.2,1077.5 1050.7,1077.5 1051.2,1077.5 1051.7,1077.5 1052.2,1077.5 1052.7,1077.5 1053.2,1077.5 1053.7,1077.5 1054.2,1077.5 1054.7,1077.5 1055.2,1077.5 1055.7,1077.5 1056.2,1077.5 1056.7,1077.5 1057.2,1077.5 1057.7,1077.5"/>
<line x1="207.2" y1="1118.9" x2="207.2" y2="1223.2" stroke="#3c3c3c" stroke-width="1.4"/>
<line x1="202.7" y1="1219.7" x2="207.2" y2="1219.7" stroke="#3c3c3c" stroke-width="1"/>
<line x1="205.2" y1="1206.34" x2="207.2" y2="1206.34" stroke="#3c3c3c" stroke-width="1"/>
<line x1="205.2" y1="1192.98" x2="207.2" y2="1192.98" stroke="#3c3c3c" stroke-width="1"/>
<line x1="205.2" y1="1179.62" x2="207.2" y2="1179.62" stroke="#3c3c3c" stroke-width="1"/>
<line x1="205.2" y1="1166.26" x2="207.2" y2="1166.26" stroke="#3c3c3c" stroke-width="1"/>
<line x1="202.7" y1="1152.9" x2="207.2" y2="1152.9" stroke="#3c3c3c" stroke-width="1"/>
<line x1="205.2" y1="1139.54" x2="207.2" y2="1139.54" stroke="#3c3c3c" stroke-width="1"/>
<line x1="205.2" y1="1126.18" x2="207.2" y2="1126.18" stroke="#3c3c3c" stroke-width="1"/>
<text x="201.2" y="1226.6" font-size="16" text-anchor="end" font-weight="normal" fill="#4a4a4a" textLength="7.1" lengthAdjust="spacingAndGlyphs">0</text>
<text x="201.2" y="1159.8" font-size="16" text-anchor="end" font-weight="normal" fill="#4a4a4a" textLength="21.3" lengthAdjust="spacingAndGlyphs">500</text>
<rect x="207.2" y="1220.2" width="850.5" height="1.8" fill="#b4b4b4"/>
<line x1="207.2" y1="1222.5" x2="1057.7" y2="1222.5" stroke="#3c3c3c" stroke-width="1.4"/>
<line x1="207.2" y1="1222.5" x2="207.2" y2="1227.3" stroke="#777" stroke-width="1"/>
<line x1="221.38" y1="1222.5" x2="221.38" y2="1224.7" stroke="#3c3c3c" stroke-width="1"/>
<line x1="235.55" y1="1222.5" x2="235.55" y2="1224.7" stroke="#3c3c3c" stroke-width="1"/>
<line x1="249.72" y1="1222.5" x2="249.72" y2="1224.7" stroke="#3c3c3c" stroke-width="1"/>
<line x1="263.9" y1="1222.5" x2="263.9" y2="1227.3" stroke="#777" stroke-width="1"/>
<text x="264.2" y="1246.5" font-size="16" text-anchor="middle" font-weight="normal" fill="#4a4a4a" textLength="14" lengthAdjust="spacingAndGlyphs">12</text>
<line x1="278.07" y1="1222.5" x2="278.07" y2="1224.7" stroke="#3c3c3c" stroke-width="1"/>
<line x1="292.25" y1="1222.5" x2="292.25" y2="1224.7" stroke="#3c3c3c" stroke-width="1"/>
<line x1="306.43" y1="1222.5" x2="306.43" y2="1224.7" stroke="#3c3c3c" stroke-width="1"/>
<line x1="320.6" y1="1222.5" x2="320.6" y2="1227.3" stroke="#777" stroke-width="1"/>
<text x="320.9" y="1246.5" font-size="16" text-anchor="middle" font-weight="normal" fill="#4a4a4a" textLength="14" lengthAdjust="spacingAndGlyphs">14</text>
<line x1="334.77" y1="1222.5" x2="334.77" y2="1224.7" stroke="#3c3c3c" stroke-width="1"/>
<line x1="348.95" y1="1222.5" x2="348.95" y2="1224.7" stroke="#3c3c3c" stroke-width="1"/>
<line x1="363.12" y1="1222.5" x2="363.12" y2="1224.7" stroke="#3c3c3c" stroke-width="1"/>
<line x1="377.3" y1="1222.5" x2="377.3" y2="1227.3" stroke="#777" stroke-width="1"/>
<text x="377.6" y="1246.5" font-size="16" text-anchor="middle" font-weight="normal" fill="#4a4a4a" textLength="14" lengthAdjust="spacingAndGlyphs">16</text>
<line x1="391.48" y1="1222.5" x2="391.48" y2="1224.7" stroke="#3c3c3c" stroke-width="1"/>
<line x1="405.65" y1="1222.5" x2="405.65" y2="1224.7" stroke="#3c3c3c" stroke-width="1"/>
<line x1="419.82" y1="1222.5" x2="419.82" y2="1224.7" stroke="#3c3c3c" stroke-width="1"/>
<line x1="434" y1="1222.5" x2="434" y2="1227.3" stroke="#777" stroke-width="1"/>
<text x="434.3" y="1246.5" font-size="16" text-anchor="middle" font-weight="normal" fill="#4a4a4a" textLength="14" lengthAdjust="spacingAndGlyphs">18</text>
<line x1="448.18" y1="1222.5" x2="448.18" y2="1224.7" stroke="#3c3c3c" stroke-width="1"/>
<line x1="462.35" y1="1222.5" x2="462.35" y2="1224.7" stroke="#3c3c3c" stroke-width="1"/>
<line x1="476.52" y1="1222.5" x2="476.52" y2="1224.7" stroke="#3c3c3c" stroke-width="1"/>
<line x1="490.7" y1="1222.5" x2="490.7" y2="1227.3" stroke="#777" stroke-width="1"/>
<text x="491" y="1246.5" font-size="16" text-anchor="middle" font-weight="normal" fill="#4a4a4a" textLength="14" lengthAdjust="spacingAndGlyphs">20</text>
<line x1="504.88" y1="1222.5" x2="504.88" y2="1224.7" stroke="#3c3c3c" stroke-width="1"/>
<line x1="519.05" y1="1222.5" x2="519.05" y2="1224.7" stroke="#3c3c3c" stroke-width="1"/>
<line x1="533.23" y1="1222.5" x2="533.23" y2="1224.7" stroke="#3c3c3c" stroke-width="1"/>
<line x1="547.4" y1="1222.5" x2="547.4" y2="1227.3" stroke="#777" stroke-width="1"/>
<text x="547.7" y="1246.5" font-size="16" text-anchor="middle" font-weight="normal" fill="#4a4a4a" textLength="14" lengthAdjust="spacingAndGlyphs">22</text>
<line x1="561.58" y1="1222.5" x2="561.58" y2="1224.7" stroke="#3c3c3c" stroke-width="1"/>
<line x1="575.75" y1="1222.5" x2="575.75" y2="1224.7" stroke="#3c3c3c" stroke-width="1"/>
<line x1="589.92" y1="1222.5" x2="589.92" y2="1224.7" stroke="#3c3c3c" stroke-width="1"/>
<line x1="604.1" y1="1222.5" x2="604.1" y2="1227.3" stroke="#777" stroke-width="1"/>
<text x="604.4" y="1246.5" font-size="16" text-anchor="middle" font-weight="normal" fill="#4a4a4a" textLength="14" lengthAdjust="spacingAndGlyphs">24</text>
<line x1="618.28" y1="1222.5" x2="618.28" y2="1224.7" stroke="#3c3c3c" stroke-width="1"/>
<line x1="632.45" y1="1222.5" x2="632.45" y2="1224.7" stroke="#3c3c3c" stroke-width="1"/>
<line x1="646.62" y1="1222.5" x2="646.62" y2="1224.7" stroke="#3c3c3c" stroke-width="1"/>
<line x1="660.8" y1="1222.5" x2="660.8" y2="1227.3" stroke="#777" stroke-width="1"/>
<text x="661.1" y="1246.5" font-size="16" text-anchor="middle" font-weight="normal" fill="#4a4a4a" textLength="14" lengthAdjust="spacingAndGlyphs">26</text>
<line x1="674.98" y1="1222.5" x2="674.98" y2="1224.7" stroke="#3c3c3c" stroke-width="1"/>
<line x1="689.15" y1="1222.5" x2="689.15" y2="1224.7" stroke="#3c3c3c" stroke-width="1"/>
<line x1="703.33" y1="1222.5" x2="703.33" y2="1224.7" stroke="#3c3c3c" stroke-width="1"/>
<line x1="717.5" y1="1222.5" x2="717.5" y2="1227.3" stroke="#777" stroke-width="1"/>
<text x="717.8" y="1246.5" font-size="16" text-anchor="middle" font-weight="normal" fill="#4a4a4a" textLength="14" lengthAdjust="spacingAndGlyphs">28</text>
<line x1="731.67" y1="1222.5" x2="731.67" y2="1224.7" stroke="#3c3c3c" stroke-width="1"/>
<line x1="745.85" y1="1222.5" x2="745.85" y2="1224.7" stroke="#3c3c3c" stroke-width="1"/>
<line x1="760.03" y1="1222.5" x2="760.03" y2="1224.7" stroke="#3c3c3c" stroke-width="1"/>
<line x1="774.2" y1="1222.5" x2="774.2" y2="1227.3" stroke="#777" stroke-width="1"/>
<text x="774.5" y="1246.5" font-size="16" text-anchor="middle" font-weight="normal" fill="#4a4a4a" textLength="14" lengthAdjust="spacingAndGlyphs">30</text>
<line x1="788.38" y1="1222.5" x2="788.38" y2="1224.7" stroke="#3c3c3c" stroke-width="1"/>
<line x1="802.55" y1="1222.5" x2="802.55" y2="1224.7" stroke="#3c3c3c" stroke-width="1"/>
<line x1="816.72" y1="1222.5" x2="816.72" y2="1224.7" stroke="#3c3c3c" stroke-width="1"/>
<line x1="830.9" y1="1222.5" x2="830.9" y2="1227.3" stroke="#777" stroke-width="1"/>
<text x="831.2" y="1246.5" font-size="16" text-anchor="middle" font-weight="normal" fill="#4a4a4a" textLength="14" lengthAdjust="spacingAndGlyphs">32</text>
<line x1="845.08" y1="1222.5" x2="845.08" y2="1224.7" stroke="#3c3c3c" stroke-width="1"/>
<line x1="859.25" y1="1222.5" x2="859.25" y2="1224.7" stroke="#3c3c3c" stroke-width="1"/>
<line x1="873.42" y1="1222.5" x2="873.42" y2="1224.7" stroke="#3c3c3c" stroke-width="1"/>
<line x1="887.6" y1="1222.5" x2="887.6" y2="1227.3" stroke="#777" stroke-width="1"/>
<text x="887.9" y="1246.5" font-size="16" text-anchor="middle" font-weight="normal" fill="#4a4a4a" textLength="14" lengthAdjust="spacingAndGlyphs">34</text>
<line x1="901.78" y1="1222.5" x2="901.78" y2="1224.7" stroke="#3c3c3c" stroke-width="1"/>
<line x1="915.95" y1="1222.5" x2="915.95" y2="1224.7" stroke="#3c3c3c" stroke-width="1"/>
<line x1="930.12" y1="1222.5" x2="930.12" y2="1224.7" stroke="#3c3c3c" stroke-width="1"/>
<line x1="944.3" y1="1222.5" x2="944.3" y2="1227.3" stroke="#777" stroke-width="1"/>
<text x="944.6" y="1246.5" font-size="16" text-anchor="middle" font-weight="normal" fill="#4a4a4a" textLength="14" lengthAdjust="spacingAndGlyphs">36</text>
<line x1="958.48" y1="1222.5" x2="958.48" y2="1224.7" stroke="#3c3c3c" stroke-width="1"/>
<line x1="972.65" y1="1222.5" x2="972.65" y2="1224.7" stroke="#3c3c3c" stroke-width="1"/>
<line x1="986.83" y1="1222.5" x2="986.83" y2="1224.7" stroke="#3c3c3c" stroke-width="1"/>
<line x1="1001" y1="1222.5" x2="1001" y2="1227.3" stroke="#777" stroke-width="1"/>
<text x="1001.3" y="1246.5" font-size="16" text-anchor="middle" font-weight="normal" fill="#4a4a4a" textLength="14" lengthAdjust="spacingAndGlyphs">38</text>
<line x1="1015.17" y1="1222.5" x2="1015.17" y2="1224.7" stroke="#3c3c3c" stroke-width="1"/>
<line x1="1029.35" y1="1222.5" x2="1029.35" y2="1224.7" stroke="#3c3c3c" stroke-width="1"/>
<line x1="1043.53" y1="1222.5" x2="1043.53" y2="1224.7" stroke="#3c3c3c" stroke-width="1"/>
<line x1="1057.7" y1="1222.5" x2="1057.7" y2="1227.3" stroke="#777" stroke-width="1"/>
<text x="1058" y="1246.5" font-size="16" text-anchor="middle" font-weight="normal" fill="#4a4a4a" textLength="14" lengthAdjust="spacingAndGlyphs">40</text>
<text transform="translate(166.2,1170.7) rotate(-90)" font-size="15.5" text-anchor="middle" fill="#555" textLength="79" lengthAdjust="spacingAndGlyphs">Signal [EU]</text>
<polyline fill="none" stroke="#4040ff" stroke-width="1.6" stroke-linejoin="round" points="207.2,1219.7 207.7,1219.7 208.2,1219.7 208.7,1219.7 209.2,1219.7 209.7,1219.7 210.2,1219.7 210.7,1219.7 211.2,1219.7 211.7,1219.7 212.2,1219.7 212.7,1219.7 213.2,1219.7 213.7,1219.7 214.2,1219.7 214.7,1219.7 215.2,1219.7 215.7,1219.7 216.2,1219.7 216.7,1219.7 217.2,1219.7 217.7,1219.7 218.2,1219.7 218.7,1219.7 219.2,1219.7 219.7,1219.7 220.2,1219.7 220.7,1219.7 221.2,1219.7 221.7,1219.7 222.2,1219.7 222.7,1219.7 223.2,1219.7 223.7,1219.7 224.2,1219.7 224.7,1219.7 225.2,1219.7 225.7,1219.7 226.2,1219.7 226.7,1219.7 227.2,1219.7 227.7,1219.7 228.2,1219.7 228.7,1219.7 229.2,1219.7 229.7,1219.7 230.2,1219.7 230.7,1219.7 231.2,1219.7 231.7,1219.7 232.2,1219.7 232.7,1219.7 233.2,1219.7 233.7,1219.7 234.2,1219.7 234.7,1219.7 235.2,1219.7 235.7,1219.7 236.2,1219.7 236.7,1219.7 237.2,1219.7 237.7,1219.7 238.2,1219.7 238.7,1219.7 239.2,1219.7 239.7,1219.7 240.2,1219.7 240.7,1219.7 241.2,1219.7 241.7,1219.7 242.2,1219.7 242.7,1219.7 243.2,1219.7 243.7,1219.7 244.2,1219.7 244.7,1219.7 245.2,1219.7 245.7,1219.7 246.2,1219.7 246.7,1219.7 247.2,1219.7 247.7,1219.7 248.2,1219.7 248.7,1219.7 249.2,1219.7 249.7,1219.7 250.2,1219.7 250.7,1219.7 251.2,1219.7 251.7,1219.7 252.2,1219.7 252.7,1219.7 253.2,1219.7 253.7,1219.7 254.2,1219.7 254.7,1219.7 255.2,1219.7 255.7,1219.7 256.2,1219.7 256.7,1219.7 257.2,1219.7 257.7,1219.7 258.2,1219.7 258.7,1219.7 259.2,1219.7 259.7,1219.7 260.2,1219.7 260.7,1219.7 261.2,1219.7 261.7,1219.7 262.2,1219.7 262.7,1219.7 263.2,1219.7 263.7,1219.7 264.2,1219.7 264.7,1219.7 265.2,1219.7 265.7,1219.7 266.2,1219.7 266.7,1219.7 267.2,1219.7 267.7,1219.7 268.2,1219.7 268.7,1219.7 269.2,1219.7 269.7,1219.7 270.2,1219.7 270.7,1219.7 271.2,1219.7 271.7,1219.7 272.2,1219.7 272.7,1219.7 273.2,1219.7 273.7,1219.7 274.2,1219.7 274.7,1219.7 275.2,1219.7 275.7,1219.7 276.2,1219.7 276.7,1219.7 277.2,1219.7 277.7,1219.7 278.2,1219.7 278.7,1219.7 279.2,1219.7 279.7,1219.7 280.2,1219.7 280.7,1219.7 281.2,1219.7 281.7,1219.7 282.2,1219.7 282.7,1219.7 283.2,1219.7 283.7,1219.7 284.2,1219.7 284.7,1219.7 285.2,1219.7 285.7,1219.7 286.2,1219.7 286.7,1219.7 287.2,1219.7 287.7,1219.7 288.2,1219.7 288.7,1219.7 289.2,1219.7 289.7,1219.7 290.2,1219.7 290.7,1219.7 291.2,1219.7 291.7,1219.7 292.2,1219.7 292.7,1219.7 293.2,1219.7 293.7,1219.7 294.2,1219.7 294.7,1219.7 295.2,1219.7 295.7,1219.7 296.2,1219.7 296.7,1219.7 297.2,1219.7 297.7,1219.7 298.2,1219.7 298.7,1219.7 299.2,1219.7 299.7,1219.7 300.2,1219.7 300.7,1219.7 301.2,1219.7 301.7,1219.7 302.2,1219.7 302.7,1219.7 303.2,1219.7 303.7,1219.7 304.2,1219.7 304.7,1219.7 305.2,1219.7 305.7,1219.7 306.2,1219.7 306.7,1219.7 307.2,1219.7 307.7,1219.7 308.2,1219.7 308.7,1219.7 309.2,1219.7 309.7,1219.7 310.2,1219.7 310.7,1219.7 311.2,1219.7 311.7,1219.7 312.2,1219.7 312.7,1219.7 313.2,1219.7 313.7,1219.7 314.2,1219.7 314.7,1219.7 315.2,1219.7 315.7,1219.7 316.2,1219.7 316.7,1219.7 317.2,1219.7 317.7,1219.7 318.2,1219.7 318.7,1219.7 319.2,1219.7 319.7,1219.7 320.2,1219.7 320.7,1219.7 321.2,1219.7 321.7,1219.7 322.2,1219.7 322.7,1219.7 323.2,1219.7 323.7,1219.7 324.2,1219.7 324.7,1219.7 325.2,1219.7 325.7,1219.7 326.2,1219.7 326.7,1219.7 327.2,1219.7 327.7,1219.7 328.2,1219.7 328.7,1219.7 329.2,1219.7 329.7,1219.7 330.2,1219.7 330.7,1219.7 331.2,1219.7 331.7,1219.7 332.2,1219.7 332.7,1219.7 333.2,1219.7 333.7,1219.7 334.2,1219.7 334.7,1219.7 335.2,1219.7 335.7,1219.7 336.2,1219.7 336.7,1219.7 337.2,1219.7 337.7,1219.7 338.2,1219.7 338.7,1219.7 339.2,1219.7 339.7,1219.7 340.2,1219.7 340.7,1219.7 341.2,1219.7 341.7,1219.7 342.2,1219.7 342.7,1219.7 343.2,1219.7 343.7,1219.7 344.2,1219.7 344.7,1219.7 345.2,1219.7 345.7,1219.7 346.2,1219.7 346.7,1219.7 347.2,1219.7 347.7,1219.7 348.2,1219.7 348.7,1219.7 349.2,1219.7 349.7,1219.7 350.2,1219.7 350.7,1219.7 351.2,1219.7 351.7,1219.7 352.2,1219.7 352.7,1219.7 353.2,1219.69 353.7,1219.67 354.2,1219.65 354.7,1219.6 355.2,1219.52 355.7,1219.4 356.2,1219.23 356.7,1219.03 357.2,1218.82 357.7,1218.61 358.2,1218.45 358.7,1218.37 359.2,1218.38 359.7,1218.45 360.2,1218.57 360.7,1218.72 361.2,1218.9 361.7,1219.07 362.2,1219.23 362.7,1219.36 363.2,1219.47 363.7,1219.55 364.2,1219.61 364.7,1219.65 365.2,1219.67 365.7,1219.68 366.2,1219.69 366.7,1219.7 367.2,1219.7 367.7,1219.7 368.2,1219.7 368.7,1219.7 369.2,1219.7 369.7,1219.7 370.2,1219.7 370.7,1219.7 371.2,1219.7 371.7,1219.7 372.2,1219.7 372.7,1219.7 373.2,1219.7 373.7,1219.7 374.2,1219.7 374.7,1219.7 375.2,1219.7 375.7,1219.7 376.2,1219.7 376.7,1219.7 377.2,1219.7 377.7,1219.7 378.2,1219.7 378.7,1219.7 379.2,1219.7 379.7,1219.7 380.2,1219.7 380.7,1219.7 381.2,1219.7 381.7,1219.7 382.2,1219.7 382.7,1219.7 383.2,1219.7 383.7,1219.7 384.2,1219.7 384.7,1219.7 385.2,1219.7 385.7,1219.7 386.2,1219.7 386.7,1219.7 387.2,1219.7 387.7,1219.7 388.2,1219.7 388.7,1219.7 389.2,1219.7 389.7,1219.7 390.2,1219.7 390.7,1219.7 391.2,1219.7 391.7,1219.7 392.2,1219.7 392.7,1219.7 393.2,1219.7 393.7,1219.7 394.2,1219.7 394.7,1219.7 395.2,1219.7 395.7,1219.7 396.2,1219.7 396.7,1219.7 397.2,1219.7 397.7,1219.7 398.2,1219.7 398.7,1219.7 399.2,1219.7 399.7,1219.7 400.2,1219.7 400.7,1219.7 401.2,1219.7 401.7,1219.7 402.2,1219.7 402.7,1219.7 403.2,1219.7 403.7,1219.7 404.2,1219.7 404.7,1219.7 405.2,1219.7 405.7,1219.7 406.2,1219.7 406.7,1219.7 407.2,1219.7 407.7,1219.7 408.2,1219.7 408.7,1219.7 409.2,1219.7 409.7,1219.7 410.2,1219.7 410.7,1219.7 411.2,1219.7 411.7,1219.7 412.2,1219.7 412.7,1219.7 413.2,1219.7 413.7,1219.7 414.2,1219.7 414.7,1219.7 415.2,1219.7 415.7,1219.7 416.2,1219.7 416.7,1219.7 417.2,1219.7 417.7,1219.7 418.2,1219.7 418.7,1219.7 419.2,1219.7 419.7,1219.7 420.2,1219.7 420.7,1219.7 421.2,1219.7 421.7,1219.7 422.2,1219.7 422.7,1219.7 423.2,1219.7 423.7,1219.7 424.2,1219.7 424.7,1219.7 425.2,1219.7 425.7,1219.7 426.2,1219.7 426.7,1219.7 427.2,1219.7 427.7,1219.7 428.2,1219.7 428.7,1219.7 429.2,1219.7 429.7,1219.7 430.2,1219.7 430.7,1219.7 431.2,1219.7 431.7,1219.7 432.2,1219.7 432.7,1219.7 433.2,1219.7 433.7,1219.7 434.2,1219.7 434.7,1219.7 435.2,1219.7 435.7,1219.7 436.2,1219.7 436.7,1219.7 437.2,1219.7 437.7,1219.7 438.2,1219.7 438.7,1219.7 439.2,1219.7 439.7,1219.7 440.2,1219.7 440.7,1219.7 441.2,1219.7 441.7,1219.7 442.2,1219.7 442.7,1219.7 443.2,1219.7 443.7,1219.7 444.2,1219.7 444.7,1219.7 445.2,1219.7 445.7,1219.7 446.2,1219.7 446.7,1219.7 447.2,1219.7 447.7,1219.7 448.2,1219.7 448.7,1219.7 449.2,1219.7 449.7,1219.7 450.2,1219.7 450.7,1219.7 451.2,1219.7 451.7,1219.7 452.2,1219.7 452.7,1219.7 453.2,1219.7 453.7,1219.7 454.2,1219.7 454.7,1219.7 455.2,1219.7 455.7,1219.7 456.2,1219.7 456.7,1219.7 457.2,1219.7 457.7,1219.7 458.2,1219.7 458.7,1219.7 459.2,1219.7 459.7,1219.7 460.2,1219.7 460.7,1219.7 461.2,1219.7 461.7,1219.7 462.2,1219.7 462.7,1219.7 463.2,1219.7 463.7,1219.7 464.2,1219.7 464.7,1219.7 465.2,1219.7 465.7,1219.7 466.2,1219.7 466.7,1219.7 467.2,1219.7 467.7,1219.7 468.2,1219.7 468.7,1219.7 469.2,1219.7 469.7,1219.7 470.2,1219.7 470.7,1219.7 471.2,1219.7 471.7,1219.7 472.2,1219.7 472.7,1219.7 473.2,1219.7 473.7,1219.7 474.2,1219.7 474.7,1219.7 475.2,1219.7 475.7,1219.7 476.2,1219.7 476.7,1219.7 477.2,1219.7 477.7,1219.7 478.2,1219.7 478.7,1219.7 479.2,1219.7 479.7,1219.7 480.2,1219.7 480.7,1219.7 481.2,1219.7 481.7,1219.7 482.2,1219.7 482.7,1219.7 483.2,1219.7 483.7,1219.7 484.2,1219.7 484.7,1219.7 485.2,1219.7 485.7,1219.7 486.2,1219.7 486.7,1219.7 487.2,1219.7 487.7,1219.7 488.2,1219.7 488.7,1219.7 489.2,1219.7 489.7,1219.7 490.2,1219.7 490.7,1219.7 491.2,1219.7 491.7,1219.7 492.2,1219.7 492.7,1219.7 493.2,1219.7 493.7,1219.7 494.2,1219.7 494.7,1219.7 495.2,1219.7 495.7,1219.7 496.2,1219.7 496.7,1219.7 497.2,1219.7 497.7,1219.7 498.2,1219.7 498.7,1219.7 499.2,1219.7 499.7,1219.7 500.2,1219.7 500.7,1219.7 501.2,1219.7 501.7,1219.7 502.2,1219.7 502.7,1219.7 503.2,1219.7 503.7,1219.7 504.2,1219.7 504.7,1219.7 505.2,1219.7 505.7,1219.7 506.2,1219.7 506.7,1219.7 507.2,1219.7 507.7,1219.7 508.2,1219.7 508.7,1219.7 509.2,1219.7 509.7,1219.7 510.2,1219.7 510.7,1219.7 511.2,1219.7 511.7,1219.7 512.2,1219.7 512.7,1219.7 513.2,1219.7 513.7,1219.7 514.2,1219.7 514.7,1219.7 515.2,1219.7 515.7,1219.69 516.2,1219.68 516.7,1219.66 517.2,1219.62 517.7,1219.55 518.2,1219.43 518.7,1219.25 519.2,1219.01 519.7,1218.71 520.2,1218.38 520.7,1218.07 521.2,1217.83 521.7,1217.71 522.2,1217.71 522.7,1217.82 523.2,1218 523.7,1218.23 524.2,1218.49 524.7,1218.75 525.2,1218.99 525.7,1219.19 526.2,1219.35 526.7,1219.47 527.2,1219.56 527.7,1219.62 528.2,1219.65 528.7,1219.67 529.2,1219.69 529.7,1219.69 530.2,1219.7 530.7,1219.7 531.2,1219.7 531.7,1219.7 532.2,1219.7 532.7,1219.69 533.2,1219.69 533.7,1219.67 534.2,1219.64 534.7,1219.58 535.2,1219.49 535.7,1219.34 536.2,1219.15 536.7,1218.91 537.2,1218.65 537.7,1218.4 538.2,1218.21 538.7,1218.11 539.2,1218.11 539.7,1218.19 540.2,1218.33 540.7,1218.52 541.2,1218.73 541.7,1218.94 542.2,1219.13 542.7,1219.29 543.2,1219.42 543.7,1219.52 544.2,1219.59 544.7,1219.63 545.2,1219.66 545.7,1219.68 546.2,1219.69 546.7,1219.69 547.2,1219.7 547.7,1219.7 548.2,1219.7 548.7,1219.7 549.2,1219.7 549.7,1219.7 550.2,1219.7 550.7,1219.7 551.2,1219.69 551.7,1219.69 552.2,1219.67 552.7,1219.64 553.2,1219.59 553.7,1219.51 554.2,1219.38 554.7,1219.21 555.2,1219.01 555.7,1218.79 556.2,1218.59 556.7,1218.44 557.2,1218.37 557.7,1218.38 558.2,1218.46 558.7,1218.58 559.2,1218.74 559.7,1218.92 560.2,1219.09 560.7,1219.24 561.2,1219.38 561.7,1219.48 562.2,1219.55 562.7,1219.6 563.2,1219.62 563.7,1219.6 564.2,1219.5 564.7,1219.27 565.2,1218.79 565.7,1217.92 566.2,1216.42 566.7,1214.11 567.2,1210.84 567.7,1206.65 568.2,1201.84 568.7,1196.99 569.2,1192.88 569.7,1190.27 570.2,1189.68 570.7,1190.71 571.2,1192.99 571.7,1196.23 572.2,1200.02 572.7,1203.96 573.2,1207.69 573.7,1210.96 574.2,1213.63 574.7,1215.68 575.2,1217.16 575.7,1218.17 576.2,1218.82 576.7,1219.22 577.2,1219.45 577.7,1219.57 578.2,1219.64 578.7,1219.67 579.2,1219.69 579.7,1219.7 580.2,1219.7 580.7,1219.7 581.2,1219.7 581.7,1219.7 582.2,1219.7 582.7,1219.7 583.2,1219.7 583.7,1219.7 584.2,1219.7 584.7,1219.7 585.2,1219.7 585.7,1219.7 586.2,1219.7 586.7,1219.7 587.2,1219.7 587.7,1219.7 588.2,1219.69 588.7,1219.68 589.2,1219.65 589.7,1219.6 590.2,1219.5 590.7,1219.36 591.2,1219.16 591.7,1218.88 592.2,1218.56 592.7,1218.22 593.2,1217.89 593.7,1217.6 594.2,1217.34 594.7,1217.03 595.2,1216.53 595.7,1215.7 596.2,1214.44 596.7,1212.69 597.2,1210.52 597.7,1208.16 598.2,1205.99 598.7,1204.41 599.2,1203.76 599.7,1204.08 600.2,1205.08 600.7,1206.63 601.2,1208.54 601.7,1210.61 602.2,1212.63 602.7,1214.46 603.2,1215.99 603.7,1217.2 604.2,1218.09 604.7,1218.71 605.2,1219.12 605.7,1219.38 606.2,1219.53 606.7,1219.61 607.2,1219.66 607.7,1219.68 608.2,1219.69 608.7,1219.7 609.2,1219.7 609.7,1219.7 610.2,1219.7 610.7,1219.7 611.2,1219.7 611.7,1219.7 612.2,1219.7 612.7,1219.7 613.2,1219.7 613.7,1219.7 614.2,1219.7 614.7,1219.7 615.2,1219.69 615.7,1219.67 616.2,1219.64 616.7,1219.59 617.2,1219.49 617.7,1219.34 618.2,1219.12 618.7,1218.85 619.2,1218.53 619.7,1218.2 620.2,1217.93 620.7,1217.74 621.2,1217.7 621.7,1217.76 622.2,1217.91 622.7,1218.12 623.2,1218.37 623.7,1218.63 624.2,1218.88 624.7,1219.1 625.2,1219.28 625.7,1219.4 626.2,1219.47 626.7,1219.49 627.2,1219.45 627.7,1219.35 628.2,1219.19 628.7,1218.97 629.2,1218.72 629.7,1218.46 630.2,1218.25 630.7,1218.12 631.2,1218.1 631.7,1218.16 632.2,1218.29 632.7,1218.47 633.2,1218.67 633.7,1218.88 634.2,1219.08 634.7,1219.25 635.2,1219.39 635.7,1219.49 636.2,1219.57 636.7,1219.62 637.2,1219.66 637.7,1219.68 638.2,1219.69 638.7,1219.69 639.2,1219.7 639.7,1219.7 640.2,1219.7 640.7,1219.7 641.2,1219.7 641.7,1219.7 642.2,1219.7 642.7,1219.7 643.2,1219.7 643.7,1219.7 644.2,1219.7 644.7,1219.69 645.2,1219.68 645.7,1219.65 646.2,1219.58 646.7,1219.46 647.2,1219.23 647.7,1218.85 648.2,1218.28 648.7,1217.5 649.2,1216.52 649.7,1215.43 650.2,1214.38 650.7,1213.54 651.2,1213.08 651.7,1213.06 652.2,1213.37 652.7,1213.94 653.2,1214.7 653.7,1215.56 654.2,1216.43 654.7,1217.24 655.2,1217.93 655.7,1218.48 656.2,1218.9 656.7,1219.2 657.2,1219.4 657.7,1219.53 658.2,1219.6 658.7,1219.65 659.2,1219.67 659.7,1219.68 660.2,1219.69 660.7,1219.69 661.2,1219.69 661.7,1219.69 662.2,1219.69 662.7,1219.68 663.2,1219.68 663.7,1219.68 664.2,1219.68 664.7,1219.68 665.2,1219.67 665.7,1219.67 666.2,1219.67 666.7,1219.66 667.2,1219.65 667.7,1219.63 668.2,1219.58 668.7,1219.47 669.2,1219.19 669.7,1218.59 670.2,1217.35 670.7,1214.99 671.2,1210.89 671.7,1204.32 672.2,1194.72 672.7,1181.97 673.2,1166.74 673.7,1150.6 674.2,1135.94 674.7,1125.36 675.2,1120.97 675.7,1122.69 676.2,1128.78 676.7,1138.4 677.2,1150.32 677.7,1163.2 678.2,1175.77 678.7,1187.08 679.2,1196.54 679.7,1203.96 680.2,1209.42 680.7,1213.21 681.2,1215.69 681.7,1217.22 682.2,1218.11 682.7,1218.59 683.2,1218.81 683.7,1218.89 684.2,1218.88 684.7,1218.79 685.2,1218.64 685.7,1218.4 686.2,1218.08 686.7,1217.66 687.2,1217.19 687.7,1216.7 688.2,1216.27 688.7,1215.96 689.2,1215.82 689.7,1215.83 690.2,1215.96 690.7,1216.18 691.2,1216.44 691.7,1216.73 692.2,1216.99 692.7,1217.22 693.2,1217.37 693.7,1217.42 694.2,1217.33 694.7,1217 695.2,1216.25 695.7,1214.84 696.2,1212.4 696.7,1208.55 697.2,1202.99 697.7,1195.7 698.2,1187.09 698.7,1178.12 699.2,1170.1 699.7,1164.5 700.2,1162.41 700.7,1163.6 701.2,1167.15 701.7,1172.61 702.2,1179.27 702.7,1186.38 703.2,1193.27 703.7,1199.41 704.2,1204.51 704.7,1208.49 705.2,1211.39 705.7,1213.4 706.2,1214.7 706.7,1215.49 707.2,1215.94 707.7,1216.14 708.2,1216.15 708.7,1215.96 709.2,1215.5 709.7,1214.65 710.2,1213.25 710.7,1211.18 711.2,1208.41 711.7,1205.04 712.2,1201.43 712.7,1198.08 713.2,1195.59 713.7,1194.46 714.2,1194.74 714.7,1196.04 715.2,1198.15 715.7,1200.82 716.2,1203.75 716.7,1206.63 717.2,1209.25 717.7,1211.47 718.2,1213.22 718.7,1214.54 719.2,1215.47 719.7,1216.1 720.2,1216.5 720.7,1216.75 721.2,1216.88 721.7,1216.92 722.2,1216.87 722.7,1216.71 723.2,1216.41 723.7,1215.93 724.2,1215.28 724.7,1214.46 725.2,1213.58 725.7,1212.74 726.2,1212.11 726.7,1211.81 727.2,1211.88 727.7,1212.2 728.2,1212.73 728.7,1213.4 729.2,1214.13 729.7,1214.83 730.2,1215.43 730.7,1215.85 731.2,1216.03 731.7,1215.9 732.2,1215.4 732.7,1214.51 733.2,1213.24 733.7,1211.71 734.2,1210.11 734.7,1208.7 735.2,1207.76 735.7,1207.47 736.2,1207.75 736.7,1208.45 737.2,1209.49 737.7,1210.73 738.2,1212.04 738.7,1213.29 739.2,1214.4 739.7,1215.31 740.2,1216.02 740.7,1216.53 741.2,1216.89 741.7,1217.13 742.2,1217.28 742.7,1217.37 743.2,1217.43 743.7,1217.47 744.2,1217.51 744.7,1217.54 745.2,1217.57 745.7,1217.6 746.2,1217.63 746.7,1217.66 747.2,1217.69 747.7,1217.73 748.2,1217.76 748.7,1217.79 749.2,1217.81 749.7,1217.82 750.2,1217.8 750.7,1217.75 751.2,1217.65 751.7,1217.49 752.2,1217.3 752.7,1217.09 753.2,1216.89 753.7,1216.75 754.2,1216.7 754.7,1216.77 755.2,1216.9 755.7,1217.1 756.2,1217.34 756.7,1217.59 757.2,1217.85 757.7,1218.09 758.2,1218.3 758.7,1218.47 759.2,1218.61 759.7,1218.72 760.2,1218.81 760.7,1218.88 761.2,1218.93 761.7,1218.97 762.2,1218.98 762.7,1218.96 763.2,1218.91 763.7,1218.79 764.2,1218.61 764.7,1218.37 765.2,1218.08 765.7,1217.79 766.2,1217.54 766.7,1217.38 767.2,1217.36 767.7,1217.45 768.2,1217.62 768.7,1217.85 769.2,1218.12 769.7,1218.41 770.2,1218.67 770.7,1218.91 771.2,1219.11 771.7,1219.26 772.2,1219.38 772.7,1219.46 773.2,1219.52 773.7,1219.56 774.2,1219.58 774.7,1219.6 775.2,1219.61 775.7,1219.62 776.2,1219.63 776.7,1219.64 777.2,1219.64 777.7,1219.65 778.2,1219.66 778.7,1219.66 779.2,1219.66 779.7,1219.67 780.2,1219.67 780.7,1219.67 781.2,1219.68 781.7,1219.68 782.2,1219.68 782.7,1219.68 783.2,1219.69 783.7,1219.69 784.2,1219.69 784.7,1219.69 785.2,1219.69 785.7,1219.69 786.2,1219.69 786.7,1219.69 787.2,1219.7 787.7,1219.7 788.2,1219.7 788.7,1219.7 789.2,1219.7 789.7,1219.7 790.2,1219.7 790.7,1219.7 791.2,1219.7 791.7,1219.7 792.2,1219.7 792.7,1219.7 793.2,1219.7 793.7,1219.7 794.2,1219.7 794.7,1219.7 795.2,1219.7 795.7,1219.7 796.2,1219.7 796.7,1219.7 797.2,1219.7 797.7,1219.7 798.2,1219.7 798.7,1219.7 799.2,1219.7 799.7,1219.7 800.2,1219.7 800.7,1219.7 801.2,1219.7 801.7,1219.7 802.2,1219.7 802.7,1219.7 803.2,1219.7 803.7,1219.7 804.2,1219.7 804.7,1219.7 805.2,1219.7 805.7,1219.7 806.2,1219.7 806.7,1219.7 807.2,1219.7 807.7,1219.7 808.2,1219.7 808.7,1219.7 809.2,1219.7 809.7,1219.7 810.2,1219.7 810.7,1219.7 811.2,1219.7 811.7,1219.7 812.2,1219.7 812.7,1219.7 813.2,1219.7 813.7,1219.7 814.2,1219.7 814.7,1219.7 815.2,1219.7 815.7,1219.7 816.2,1219.7 816.7,1219.7 817.2,1219.7 817.7,1219.7 818.2,1219.7 818.7,1219.7 819.2,1219.7 819.7,1219.7 820.2,1219.7 820.7,1219.7 821.2,1219.7 821.7,1219.7 822.2,1219.7 822.7,1219.7 823.2,1219.7 823.7,1219.7 824.2,1219.7 824.7,1219.7 825.2,1219.7 825.7,1219.7 826.2,1219.7 826.7,1219.7 827.2,1219.7 827.7,1219.7 828.2,1219.7 828.7,1219.7 829.2,1219.7 829.7,1219.7 830.2,1219.7 830.7,1219.7 831.2,1219.7 831.7,1219.7 832.2,1219.7 832.7,1219.7 833.2,1219.7 833.7,1219.7 834.2,1219.7 834.7,1219.7 835.2,1219.7 835.7,1219.7 836.2,1219.7 836.7,1219.7 837.2,1219.7 837.7,1219.7 838.2,1219.7 838.7,1219.7 839.2,1219.7 839.7,1219.7 840.2,1219.7 840.7,1219.7 841.2,1219.7 841.7,1219.7 842.2,1219.7 842.7,1219.7 843.2,1219.7 843.7,1219.7 844.2,1219.7 844.7,1219.7 845.2,1219.7 845.7,1219.7 846.2,1219.7 846.7,1219.7 847.2,1219.7 847.7,1219.7 848.2,1219.7 848.7,1219.7 849.2,1219.7 849.7,1219.7 850.2,1219.7 850.7,1219.7 851.2,1219.7 851.7,1219.7 852.2,1219.7 852.7,1219.7 853.2,1219.7 853.7,1219.7 854.2,1219.7 854.7,1219.7 855.2,1219.7 855.7,1219.7 856.2,1219.7 856.7,1219.7 857.2,1219.7 857.7,1219.7 858.2,1219.7 858.7,1219.7 859.2,1219.7 859.7,1219.7 860.2,1219.7 860.7,1219.7 861.2,1219.7 861.7,1219.7 862.2,1219.7 862.7,1219.7 863.2,1219.7 863.7,1219.7 864.2,1219.7 864.7,1219.7 865.2,1219.7 865.7,1219.7 866.2,1219.7 866.7,1219.7 867.2,1219.7 867.7,1219.7 868.2,1219.7 868.7,1219.7 869.2,1219.7 869.7,1219.7 870.2,1219.7 870.7,1219.7 871.2,1219.7 871.7,1219.7 872.2,1219.7 872.7,1219.7 873.2,1219.7 873.7,1219.7 874.2,1219.7 874.7,1219.7 875.2,1219.7 875.7,1219.7 876.2,1219.7 876.7,1219.7 877.2,1219.7 877.7,1219.7 878.2,1219.7 878.7,1219.7 879.2,1219.7 879.7,1219.7 880.2,1219.7 880.7,1219.7 881.2,1219.7 881.7,1219.7 882.2,1219.7 882.7,1219.7 883.2,1219.7 883.7,1219.7 884.2,1219.7 884.7,1219.7 885.2,1219.7 885.7,1219.7 886.2,1219.7 886.7,1219.7 887.2,1219.7 887.7,1219.7 888.2,1219.7 888.7,1219.7 889.2,1219.7 889.7,1219.7 890.2,1219.7 890.7,1219.7 891.2,1219.7 891.7,1219.7 892.2,1219.7 892.7,1219.7 893.2,1219.7 893.7,1219.7 894.2,1219.7 894.7,1219.7 895.2,1219.7 895.7,1219.7 896.2,1219.7 896.7,1219.7 897.2,1219.7 897.7,1219.7 898.2,1219.7 898.7,1219.7 899.2,1219.7 899.7,1219.7 900.2,1219.7 900.7,1219.7 901.2,1219.7 901.7,1219.7 902.2,1219.7 902.7,1219.7 903.2,1219.7 903.7,1219.7 904.2,1219.7 904.7,1219.7 905.2,1219.7 905.7,1219.7 906.2,1219.7 906.7,1219.7 907.2,1219.7 907.7,1219.7 908.2,1219.7 908.7,1219.7 909.2,1219.7 909.7,1219.7 910.2,1219.7 910.7,1219.7 911.2,1219.7 911.7,1219.7 912.2,1219.7 912.7,1219.7 913.2,1219.7 913.7,1219.7 914.2,1219.7 914.7,1219.7 915.2,1219.7 915.7,1219.7 916.2,1219.7 916.7,1219.7 917.2,1219.7 917.7,1219.7 918.2,1219.7 918.7,1219.7 919.2,1219.7 919.7,1219.7 920.2,1219.7 920.7,1219.7 921.2,1219.7 921.7,1219.7 922.2,1219.7 922.7,1219.7 923.2,1219.7 923.7,1219.7 924.2,1219.7 924.7,1219.7 925.2,1219.7 925.7,1219.7 926.2,1219.7 926.7,1219.7 927.2,1219.7 927.7,1219.7 928.2,1219.7 928.7,1219.7 929.2,1219.7 929.7,1219.7 930.2,1219.7 930.7,1219.7 931.2,1219.7 931.7,1219.7 932.2,1219.7 932.7,1219.7 933.2,1219.7 933.7,1219.7 934.2,1219.7 934.7,1219.7 935.2,1219.7 935.7,1219.7 936.2,1219.7 936.7,1219.7 937.2,1219.7 937.7,1219.7 938.2,1219.7 938.7,1219.7 939.2,1219.7 939.7,1219.7 940.2,1219.7 940.7,1219.7 941.2,1219.7 941.7,1219.7 942.2,1219.7 942.7,1219.7 943.2,1219.7 943.7,1219.7 944.2,1219.7 944.7,1219.7 945.2,1219.7 945.7,1219.7 946.2,1219.7 946.7,1219.7 947.2,1219.7 947.7,1219.7 948.2,1219.7 948.7,1219.7 949.2,1219.7 949.7,1219.7 950.2,1219.7 950.7,1219.7 951.2,1219.7 951.7,1219.7 952.2,1219.7 952.7,1219.7 953.2,1219.7 953.7,1219.7 954.2,1219.7 954.7,1219.7 955.2,1219.7 955.7,1219.7 956.2,1219.7 956.7,1219.7 957.2,1219.7 957.7,1219.7 958.2,1219.7 958.7,1219.7 959.2,1219.7 959.7,1219.7 960.2,1219.7 960.7,1219.7 961.2,1219.7 961.7,1219.7 962.2,1219.7 962.7,1219.7 963.2,1219.7 963.7,1219.7 964.2,1219.7 964.7,1219.7 965.2,1219.7 965.7,1219.7 966.2,1219.7 966.7,1219.7 967.2,1219.7 967.7,1219.7 968.2,1219.7 968.7,1219.7 969.2,1219.7 969.7,1219.7 970.2,1219.7 970.7,1219.7 971.2,1219.7 971.7,1219.7 972.2,1219.7 972.7,1219.7 973.2,1219.7 973.7,1219.7 974.2,1219.7 974.7,1219.7 975.2,1219.7 975.7,1219.7 976.2,1219.7 976.7,1219.7 977.2,1219.7 977.7,1219.7 978.2,1219.7 978.7,1219.7 979.2,1219.7 979.7,1219.7 980.2,1219.7 980.7,1219.7 981.2,1219.7 981.7,1219.7 982.2,1219.7 982.7,1219.7 983.2,1219.7 983.7,1219.7 984.2,1219.7 984.7,1219.7 985.2,1219.7 985.7,1219.7 986.2,1219.7 986.7,1219.7 987.2,1219.7 987.7,1219.7 988.2,1219.7 988.7,1219.7 989.2,1219.7 989.7,1219.7 990.2,1219.7 990.7,1219.7 991.2,1219.7 991.7,1219.7 992.2,1219.7 992.7,1219.7 993.2,1219.7 993.7,1219.7 994.2,1219.7 994.7,1219.7 995.2,1219.7 995.7,1219.7 996.2,1219.7 996.7,1219.7 997.2,1219.7 997.7,1219.7 998.2,1219.7 998.7,1219.7 999.2,1219.7 999.7,1219.7 1000.2,1219.7 1000.7,1219.7 1001.2,1219.7 1001.7,1219.7 1002.2,1219.7 1002.7,1219.7 1003.2,1219.7 1003.7,1219.7 1004.2,1219.7 1004.7,1219.7 1005.2,1219.7 1005.7,1219.7 1006.2,1219.7 1006.7,1219.7 1007.2,1219.7 1007.7,1219.7 1008.2,1219.7 1008.7,1219.7 1009.2,1219.7 1009.7,1219.7 1010.2,1219.7 1010.7,1219.7 1011.2,1219.7 1011.7,1219.7 1012.2,1219.7 1012.7,1219.7 1013.2,1219.7 1013.7,1219.7 1014.2,1219.7 1014.7,1219.7 1015.2,1219.7 1015.7,1219.7 1016.2,1219.7 1016.7,1219.7 1017.2,1219.7 1017.7,1219.7 1018.2,1219.7 1018.7,1219.7 1019.2,1219.7 1019.7,1219.7 1020.2,1219.7 1020.7,1219.7 1021.2,1219.7 1021.7,1219.7 1022.2,1219.7 1022.7,1219.7 1023.2,1219.7 1023.7,1219.7 1024.2,1219.7 1024.7,1219.7 1025.2,1219.7 1025.7,1219.7 1026.2,1219.7 1026.7,1219.7 1027.2,1219.7 1027.7,1219.7 1028.2,1219.7 1028.7,1219.7 1029.2,1219.7 1029.7,1219.7 1030.2,1219.7 1030.7,1219.7 1031.2,1219.7 1031.7,1219.7 1032.2,1219.7 1032.7,1219.7 1033.2,1219.7 1033.7,1219.7 1034.2,1219.7 1034.7,1219.7 1035.2,1219.7 1035.7,1219.7 1036.2,1219.7 1036.7,1219.7 1037.2,1219.7 1037.7,1219.7 1038.2,1219.7 1038.7,1219.7 1039.2,1219.7 1039.7,1219.7 1040.2,1219.7 1040.7,1219.7 1041.2,1219.7 1041.7,1219.7 1042.2,1219.7 1042.7,1219.7 1043.2,1219.7 1043.7,1219.7 1044.2,1219.7 1044.7,1219.7 1045.2,1219.7 1045.7,1219.7 1046.2,1219.7 1046.7,1219.7 1047.2,1219.7 1047.7,1219.7 1048.2,1219.7 1048.7,1219.7 1049.2,1219.7 1049.7,1219.7 1050.2,1219.7 1050.7,1219.7 1051.2,1219.7 1051.7,1219.7 1052.2,1219.7 1052.7,1219.7 1053.2,1219.7 1053.7,1219.7 1054.2,1219.7 1054.7,1219.7 1055.2,1219.7 1055.7,1219.7 1056.2,1219.7 1056.7,1219.7 1057.2,1219.7 1057.7,1219.7"/>
<rect x="223.6" y="187.9" width="82" height="35.9" fill="#fff" stroke="#2a2a2a" stroke-width="1.5"/>
<text x="234.9" y="213.8" font-size="20" text-anchor="start" font-weight="normal" fill="#111" textLength="59.6" lengthAdjust="spacingAndGlyphs">CMBs</text>
<rect x="213.5" y="368.6" width="135.2" height="34.9" fill="#fff" stroke="#2a2a2a" stroke-width="1.5"/>
<text x="222.6" y="392.6" font-size="20.5" text-anchor="start" font-weight="normal" fill="#111" textLength="114.2" lengthAdjust="spacingAndGlyphs">HILIC µSPE</text>
<rect x="220.4" y="512" width="64.4" height="35.8" fill="#fff" stroke="#2a2a2a" stroke-width="1.5"/>
<text x="231.1" y="537.1" font-size="20" text-anchor="start" font-weight="normal" fill="#111" textLength="43.4" lengthAdjust="spacingAndGlyphs">G10</text>
<rect x="235.9" y="820" width="81.3" height="35.5" fill="#fff" stroke="#2a2a2a" stroke-width="1.5"/>
<text x="246.6" y="845.3" font-size="20" text-anchor="start" font-weight="normal" fill="#111" textLength="59.6" lengthAdjust="spacingAndGlyphs">CMBs</text>
<rect x="226.3" y="984.1" width="134.5" height="35.5" fill="#fff" stroke="#2a2a2a" stroke-width="1.5"/>
<text x="236.1" y="1008" font-size="20.5" text-anchor="start" font-weight="normal" fill="#111" textLength="113.3" lengthAdjust="spacingAndGlyphs">HILIC µSPE</text>
<rect x="231.4" y="1133.4" width="63.9" height="36.2" fill="#fff" stroke="#2a2a2a" stroke-width="1.5"/>
<text x="242.8" y="1158.7" font-size="20" text-anchor="start" font-weight="normal" fill="#111" textLength="41.9" lengthAdjust="spacingAndGlyphs">G10</text>
<text x="629.5" y="648.4" font-size="15" text-anchor="middle" font-weight="normal" fill="#555" textLength="125" lengthAdjust="spacingAndGlyphs">Retention time [min]</text>
<text x="633.2" y="1270.4" font-size="15" text-anchor="middle" font-weight="normal" fill="#555" textLength="125" lengthAdjust="spacingAndGlyphs">Retention time [min]</text>
<line x1="377.9" y1="229.8" x2="384.83" y2="229.8" stroke="#d8d8d8" stroke-width="0.9"/>
<line x1="377.9" y1="229.8" x2="365.3" y2="229.8" stroke="#c4c4bc" stroke-width="0.9"/>
<line x1="365.3" y1="229.8" x2="352.7" y2="229.8" stroke="#c4c4bc" stroke-width="0.9"/>
<line x1="352.7" y1="229.8" x2="340.1" y2="219.1" stroke="#8c8c8c" stroke-width="0.9"/>
<line x1="352.7" y1="229.8" x2="340.1" y2="240.4" stroke="#8c8c8c" stroke-width="0.9"/>
<line x1="340.1" y1="219.1" x2="340.1" y2="229.8" stroke="#c4c4bc" stroke-width="0.9"/>
<line x1="340.1" y1="240.4" x2="340.1" y2="250.9" stroke="#c4c4bc" stroke-width="0.9"/>
<rect x="374.12" y="226.46" width="7.56" height="6.68" fill="#0000fa"/>
<rect x="361.52" y="226.46" width="7.56" height="6.68" fill="#0000fa"/>
<ellipse cx="352.7" cy="229.8" rx="3.78" ry="3.34" fill="#00c832"/>
<ellipse cx="340.1" cy="219.1" rx="3.78" ry="3.34" fill="#00c832"/>
<rect x="336.32" y="226.46" width="7.56" height="6.68" fill="#0000fa"/>
<ellipse cx="340.1" cy="240.4" rx="3.78" ry="3.34" fill="#00c832"/>
<rect x="336.32" y="247.56" width="7.56" height="6.68" fill="#0000fa"/>
<line x1="418.7" y1="121.6" x2="425.3" y2="121.6" stroke="#d8d8d8" stroke-width="0.9"/>
<line x1="418.7" y1="121.6" x2="406.7" y2="121.6" stroke="#c4c4bc" stroke-width="0.9"/>
<line x1="406.7" y1="121.6" x2="394.7" y2="121.6" stroke="#c4c4bc" stroke-width="0.9"/>
<line x1="394.7" y1="121.6" x2="382.7" y2="111.3" stroke="#8c8c8c" stroke-width="0.9"/>
<line x1="394.7" y1="121.6" x2="382.7" y2="131.7" stroke="#8c8c8c" stroke-width="0.9"/>
<line x1="382.7" y1="111.3" x2="382.7" y2="121.6" stroke="#c4c4bc" stroke-width="0.9"/>
<line x1="382.7" y1="131.7" x2="382.7" y2="141.9" stroke="#c4c4bc" stroke-width="0.9"/>
<line x1="406.7" y1="110.9" x2="418.7" y2="121.6" stroke="#8c8c8c" stroke-width="0.9"/>
<rect x="415.1" y="118.42" width="7.2" height="6.36" fill="#0000fa"/>
<rect x="403.1" y="118.42" width="7.2" height="6.36" fill="#0000fa"/>
<ellipse cx="394.7" cy="121.6" rx="3.6" ry="3.18" fill="#00c832"/>
<ellipse cx="382.7" cy="111.3" rx="3.6" ry="3.18" fill="#00c832"/>
<rect x="379.1" y="118.42" width="7.2" height="6.36" fill="#0000fa"/>
<ellipse cx="382.7" cy="131.7" rx="3.6" ry="3.18" fill="#00c832"/>
<rect x="379.1" y="138.72" width="7.2" height="6.36" fill="#0000fa"/>
<polygon points="403.22,108.31 410.18,108.31 406.7,114.07" fill="#fa0000"/>
<line x1="467.4" y1="213.3" x2="473.3" y2="213.3" stroke="#d8d8d8" stroke-width="0.9"/>
<line x1="467.4" y1="213.3" x2="456.67" y2="213.3" stroke="#c4c4bc" stroke-width="0.9"/>
<line x1="456.67" y1="213.3" x2="445.94" y2="213.3" stroke="#c4c4bc" stroke-width="0.9"/>
<line x1="445.94" y1="213.3" x2="435.21" y2="195" stroke="#8c8c8c" stroke-width="0.9"/>
<line x1="445.94" y1="213.3" x2="435.21" y2="222.1" stroke="#8c8c8c" stroke-width="0.9"/>
<line x1="435.21" y1="195" x2="435.21" y2="204.2" stroke="#c4c4bc" stroke-width="0.9"/>
<line x1="435.21" y1="222.1" x2="435.21" y2="231.3" stroke="#c4c4bc" stroke-width="0.9"/>
<line x1="445.94" y1="213.3" x2="435.21" y2="213.3" stroke="#c4c4bc" stroke-width="0.9"/>
<line x1="456.67" y1="203.5" x2="467.4" y2="213.3" stroke="#8c8c8c" stroke-width="0.9"/>
<rect x="464.18" y="210.46" width="6.44" height="5.69" fill="#0000fa"/>
<rect x="453.45" y="210.46" width="6.44" height="5.69" fill="#0000fa"/>
<ellipse cx="445.94" cy="213.3" rx="3.22" ry="2.84" fill="#00c832"/>
<ellipse cx="435.21" cy="195" rx="3.22" ry="2.84" fill="#00c832"/>
<rect x="431.99" y="201.36" width="6.44" height="5.69" fill="#0000fa"/>
<ellipse cx="435.21" cy="222.1" rx="3.22" ry="2.84" fill="#00c832"/>
<rect x="431.99" y="228.46" width="6.44" height="5.69" fill="#0000fa"/>
<rect x="431.99" y="210.46" width="6.44" height="5.69" fill="#0000fa"/>
<polygon points="453.56,201.18 459.78,201.18 456.67,206.33" fill="#fa0000"/>
<line x1="513.2" y1="63.4" x2="520.11" y2="63.4" stroke="#d8d8d8" stroke-width="0.9"/>
<line x1="513.2" y1="63.4" x2="500.63" y2="63.4" stroke="#c4c4bc" stroke-width="0.9"/>
<line x1="500.63" y1="63.4" x2="488.06" y2="63.4" stroke="#c4c4bc" stroke-width="0.9"/>
<line x1="488.06" y1="63.4" x2="475.49" y2="52.6" stroke="#8c8c8c" stroke-width="0.9"/>
<line x1="488.06" y1="63.4" x2="475.49" y2="74.2" stroke="#8c8c8c" stroke-width="0.9"/>
<line x1="475.49" y1="52.6" x2="475.49" y2="63.4" stroke="#c4c4bc" stroke-width="0.9"/>
<line x1="475.49" y1="74.2" x2="475.49" y2="85.1" stroke="#c4c4bc" stroke-width="0.9"/>
<line x1="500.63" y1="52.2" x2="513.2" y2="63.4" stroke="#8c8c8c" stroke-width="0.9"/>
<line x1="462.92" y1="63.4" x2="475.49" y2="63.4" stroke="#c4c4bc" stroke-width="0.9"/>
<rect x="509.43" y="60.07" width="7.54" height="6.66" fill="#0000fa"/>
<rect x="496.86" y="60.07" width="7.54" height="6.66" fill="#0000fa"/>
<ellipse cx="488.06" cy="63.4" rx="3.77" ry="3.33" fill="#00c832"/>
<ellipse cx="475.49" cy="52.6" rx="3.77" ry="3.33" fill="#00c832"/>
<rect x="471.72" y="60.07" width="7.54" height="6.66" fill="#0000fa"/>
<ellipse cx="475.49" cy="74.2" rx="3.77" ry="3.33" fill="#00c832"/>
<rect x="471.72" y="81.77" width="7.54" height="6.66" fill="#0000fa"/>
<polygon points="496.98,49.48 504.28,49.48 500.63,55.52" fill="#fa0000"/>
<ellipse cx="462.92" cy="63.4" rx="3.57" ry="3.13" fill="#ffff00" stroke="#c8c800" stroke-width="0.5"/>
<line x1="577.6" y1="109.4" x2="584.42" y2="109.4" stroke="#d8d8d8" stroke-width="0.9"/>
<line x1="577.6" y1="109.4" x2="565.2" y2="109.4" stroke="#c4c4bc" stroke-width="0.9"/>
<line x1="565.2" y1="109.4" x2="552.8" y2="109.4" stroke="#c4c4bc" stroke-width="0.9"/>
<line x1="552.8" y1="109.4" x2="540.4" y2="99" stroke="#8c8c8c" stroke-width="0.9"/>
<line x1="552.8" y1="109.4" x2="540.4" y2="120" stroke="#8c8c8c" stroke-width="0.9"/>
<line x1="540.4" y1="99" x2="540.4" y2="109.4" stroke="#c4c4bc" stroke-width="0.9"/>
<line x1="540.4" y1="120" x2="540.4" y2="130.2" stroke="#c4c4bc" stroke-width="0.9"/>
<line x1="565.2" y1="98.6" x2="577.6" y2="109.4" stroke="#8c8c8c" stroke-width="0.9"/>
<line x1="528" y1="130.2" x2="540.4" y2="130.2" stroke="#c4c4bc" stroke-width="0.9"/>
<rect x="573.88" y="106.11" width="7.44" height="6.57" fill="#0000fa"/>
<rect x="561.48" y="106.11" width="7.44" height="6.57" fill="#0000fa"/>
<ellipse cx="552.8" cy="109.4" rx="3.72" ry="3.29" fill="#00c832"/>
<ellipse cx="540.4" cy="99" rx="3.72" ry="3.29" fill="#00c832"/>
<rect x="536.68" y="106.11" width="7.44" height="6.57" fill="#0000fa"/>
<ellipse cx="540.4" cy="120" rx="3.72" ry="3.29" fill="#00c832"/>
<rect x="536.68" y="126.91" width="7.44" height="6.57" fill="#0000fa"/>
<polygon points="561.6,95.92 568.8,95.92 565.2,101.87" fill="#fa0000"/>
<ellipse cx="528" cy="130.2" rx="3.52" ry="3.09" fill="#ffff00" stroke="#c8c800" stroke-width="0.5"/>
<line x1="588.5" y1="189.7" x2="594.88" y2="189.7" stroke="#d8d8d8" stroke-width="0.9"/>
<line x1="588.5" y1="189.7" x2="576.9" y2="189.7" stroke="#c4c4bc" stroke-width="0.9"/>
<line x1="576.9" y1="189.7" x2="565.3" y2="189.7" stroke="#c4c4bc" stroke-width="0.9"/>
<line x1="565.3" y1="189.7" x2="553.7" y2="170.1" stroke="#8c8c8c" stroke-width="0.9"/>
<line x1="565.3" y1="189.7" x2="553.7" y2="199.6" stroke="#8c8c8c" stroke-width="0.9"/>
<line x1="553.7" y1="170.1" x2="553.7" y2="179.9" stroke="#c4c4bc" stroke-width="0.9"/>
<line x1="553.7" y1="199.6" x2="553.7" y2="209" stroke="#c4c4bc" stroke-width="0.9"/>
<line x1="565.3" y1="189.7" x2="553.7" y2="189.7" stroke="#c4c4bc" stroke-width="0.9"/>
<line x1="576.9" y1="179.3" x2="588.5" y2="189.7" stroke="#8c8c8c" stroke-width="0.9"/>
<line x1="542.1" y1="179.9" x2="553.7" y2="179.9" stroke="#c4c4bc" stroke-width="0.9"/>
<rect x="585.02" y="186.63" width="6.96" height="6.15" fill="#0000fa"/>
<rect x="573.42" y="186.63" width="6.96" height="6.15" fill="#0000fa"/>
<ellipse cx="565.3" cy="189.7" rx="3.48" ry="3.07" fill="#00c832"/>
<ellipse cx="553.7" cy="170.1" rx="3.48" ry="3.07" fill="#00c832"/>
<rect x="550.22" y="176.83" width="6.96" height="6.15" fill="#0000fa"/>
<ellipse cx="553.7" cy="199.6" rx="3.48" ry="3.07" fill="#00c832"/>
<rect x="550.22" y="205.93" width="6.96" height="6.15" fill="#0000fa"/>
<rect x="550.22" y="186.63" width="6.96" height="6.15" fill="#0000fa"/>
<polygon points="573.54,176.79 580.26,176.79 576.9,182.36" fill="#fa0000"/>
<ellipse cx="542.1" cy="179.9" rx="3.28" ry="2.87" fill="#ffff00" stroke="#c8c800" stroke-width="0.5"/>
<line x1="632.3" y1="68.6" x2="639.19" y2="68.6" stroke="#d8d8d8" stroke-width="0.9"/>
<line x1="632.3" y1="68.6" x2="619.77" y2="68.6" stroke="#c4c4bc" stroke-width="0.9"/>
<line x1="619.77" y1="68.6" x2="607.24" y2="68.6" stroke="#c4c4bc" stroke-width="0.9"/>
<line x1="607.24" y1="68.6" x2="594.71" y2="58.2" stroke="#8c8c8c" stroke-width="0.9"/>
<line x1="607.24" y1="68.6" x2="594.71" y2="79.2" stroke="#8c8c8c" stroke-width="0.9"/>
<line x1="594.71" y1="58.2" x2="594.71" y2="68.6" stroke="#c4c4bc" stroke-width="0.9"/>
<line x1="594.71" y1="79.2" x2="594.71" y2="89.7" stroke="#c4c4bc" stroke-width="0.9"/>
<line x1="619.77" y1="57.8" x2="632.3" y2="68.6" stroke="#8c8c8c" stroke-width="0.9"/>
<line x1="582.18" y1="68.6" x2="594.71" y2="68.6" stroke="#c4c4bc" stroke-width="0.9"/>
<line x1="582.18" y1="89.7" x2="594.71" y2="89.7" stroke="#c4c4bc" stroke-width="0.9"/>
<rect x="628.54" y="65.28" width="7.52" height="6.64" fill="#0000fa"/>
<rect x="616.01" y="65.28" width="7.52" height="6.64" fill="#0000fa"/>
<ellipse cx="607.24" cy="68.6" rx="3.76" ry="3.32" fill="#00c832"/>
<ellipse cx="594.71" cy="58.2" rx="3.76" ry="3.32" fill="#00c832"/>
<rect x="590.95" y="65.28" width="7.52" height="6.64" fill="#0000fa"/>
<ellipse cx="594.71" cy="79.2" rx="3.76" ry="3.32" fill="#00c832"/>
<rect x="590.95" y="86.38" width="7.52" height="6.64" fill="#0000fa"/>
<polygon points="616.14,55.09 623.4,55.09 619.77,61.11" fill="#fa0000"/>
<ellipse cx="582.18" cy="68.6" rx="3.56" ry="3.12" fill="#ffff00" stroke="#c8c800" stroke-width="0.5"/>
<ellipse cx="582.18" cy="89.7" rx="3.56" ry="3.12" fill="#ffff00" stroke="#c8c800" stroke-width="0.5"/>
<line x1="698.9" y1="131.1" x2="704.53" y2="131.1" stroke="#d8d8d8" stroke-width="0.9"/>
<line x1="651.5" y1="135.2" x2="661.8" y2="135.2" stroke="#d0d0d0" stroke-width="0.9"/>
<line x1="698.9" y1="131.1" x2="688.67" y2="131.1" stroke="#c4c4bc" stroke-width="0.9"/>
<line x1="688.67" y1="131.1" x2="678.44" y2="131.1" stroke="#c4c4bc" stroke-width="0.9"/>
<line x1="678.44" y1="131.1" x2="668.21" y2="122.7" stroke="#8c8c8c" stroke-width="0.9"/>
<line x1="678.44" y1="131.1" x2="668.21" y2="139.7" stroke="#8c8c8c" stroke-width="0.9"/>
<line x1="668.21" y1="122.7" x2="668.21" y2="131.1" stroke="#c4c4bc" stroke-width="0.9"/>
<line x1="668.21" y1="139.7" x2="668.21" y2="148.1" stroke="#c4c4bc" stroke-width="0.9"/>
<line x1="688.67" y1="122" x2="698.9" y2="131.1" stroke="#8c8c8c" stroke-width="0.9"/>
<line x1="641.4" y1="135.2" x2="651.5" y2="135.2" stroke="#c4c4bc" stroke-width="0.9"/>
<path d="M663,120.1 q-1.2,0 -1.2,1.5 v27.1 q0,1.5 1.2,1.5" fill="none" stroke="#b0b0b0" stroke-width="0.9"/>
<rect x="695.83" y="128.39" width="6.14" height="5.42" fill="#0000fa"/>
<rect x="685.6" y="128.39" width="6.14" height="5.42" fill="#0000fa"/>
<ellipse cx="678.44" cy="131.1" rx="3.07" ry="2.71" fill="#00c832"/>
<ellipse cx="668.21" cy="122.7" rx="3.07" ry="2.71" fill="#00c832"/>
<rect x="665.14" y="128.39" width="6.14" height="5.42" fill="#0000fa"/>
<ellipse cx="668.21" cy="139.7" rx="3.07" ry="2.71" fill="#00c832"/>
<rect x="665.14" y="145.39" width="6.14" height="5.42" fill="#0000fa"/>
<polygon points="685.7,119.79 691.64,119.79 688.67,124.7" fill="#fa0000"/>
<ellipse cx="651.5" cy="135.2" rx="2.87" ry="2.51" fill="#ffff00" stroke="#c8c800" stroke-width="0.5"/>
<polygon points="638.23,135.2 641.4,132.34 644.57,135.2 641.4,138.06" fill="#c800c8"/>
<line x1="762.7" y1="76.5" x2="768.88" y2="76.5" stroke="#d8d8d8" stroke-width="0.9"/>
<line x1="699.5" y1="80.9" x2="710.6" y2="80.9" stroke="#d0d0d0" stroke-width="0.9"/>
<line x1="762.7" y1="76.5" x2="751.47" y2="76.5" stroke="#c4c4bc" stroke-width="0.9"/>
<line x1="751.47" y1="76.5" x2="740.24" y2="76.5" stroke="#c4c4bc" stroke-width="0.9"/>
<line x1="740.24" y1="76.5" x2="729.01" y2="66.9" stroke="#8c8c8c" stroke-width="0.9"/>
<line x1="740.24" y1="76.5" x2="729.01" y2="86" stroke="#8c8c8c" stroke-width="0.9"/>
<line x1="729.01" y1="66.9" x2="729.01" y2="76.5" stroke="#c4c4bc" stroke-width="0.9"/>
<line x1="729.01" y1="86" x2="729.01" y2="95.3" stroke="#c4c4bc" stroke-width="0.9"/>
<line x1="751.47" y1="66.6" x2="762.7" y2="76.5" stroke="#8c8c8c" stroke-width="0.9"/>
<line x1="717.78" y1="76.5" x2="729.01" y2="76.5" stroke="#c4c4bc" stroke-width="0.9"/>
<line x1="717.78" y1="95.3" x2="729.01" y2="95.3" stroke="#c4c4bc" stroke-width="0.9"/>
<path d="M711.8,64.7 q-1.2,0 -1.2,1.5 v30.1 q0,1.5 1.2,1.5" fill="none" stroke="#b0b0b0" stroke-width="0.9"/>
<rect x="759.33" y="73.52" width="6.74" height="5.95" fill="#0000fa"/>
<rect x="748.1" y="73.52" width="6.74" height="5.95" fill="#0000fa"/>
<ellipse cx="740.24" cy="76.5" rx="3.37" ry="2.98" fill="#00c832"/>
<ellipse cx="729.01" cy="66.9" rx="3.37" ry="2.98" fill="#00c832"/>
<rect x="725.64" y="73.52" width="6.74" height="5.95" fill="#0000fa"/>
<ellipse cx="729.01" cy="86" rx="3.37" ry="2.98" fill="#00c832"/>
<rect x="725.64" y="92.32" width="6.74" height="5.95" fill="#0000fa"/>
<polygon points="748.21,64.17 754.73,64.17 751.47,69.56" fill="#fa0000"/>
<ellipse cx="717.78" cy="76.5" rx="3.17" ry="2.78" fill="#ffff00" stroke="#c8c800" stroke-width="0.5"/>
<ellipse cx="717.78" cy="95.3" rx="3.17" ry="2.78" fill="#ffff00" stroke="#c8c800" stroke-width="0.5"/>
<polygon points="696.02,80.9 699.5,77.76 702.98,80.9 699.5,84.04" fill="#c800c8"/>
<line x1="796.9" y1="210.2" x2="801.85" y2="210.2" stroke="#d8d8d8" stroke-width="0.9"/>
<line x1="746.2" y1="210.2" x2="755.1" y2="210.2" stroke="#d0d0d0" stroke-width="0.9"/>
<line x1="796.9" y1="210.2" x2="787.9" y2="210.2" stroke="#c4c4bc" stroke-width="0.9"/>
<line x1="787.9" y1="210.2" x2="778.9" y2="210.2" stroke="#c4c4bc" stroke-width="0.9"/>
<line x1="778.9" y1="210.2" x2="769.9" y2="195.1" stroke="#8c8c8c" stroke-width="0.9"/>
<line x1="778.9" y1="210.2" x2="769.9" y2="217.8" stroke="#8c8c8c" stroke-width="0.9"/>
<line x1="769.9" y1="195.1" x2="769.9" y2="202.6" stroke="#c4c4bc" stroke-width="0.9"/>
<line x1="769.9" y1="217.8" x2="769.9" y2="225.2" stroke="#c4c4bc" stroke-width="0.9"/>
<line x1="778.9" y1="210.2" x2="769.9" y2="210.2" stroke="#c4c4bc" stroke-width="0.9"/>
<line x1="787.9" y1="202.3" x2="796.9" y2="210.2" stroke="#8c8c8c" stroke-width="0.9"/>
<line x1="760.9" y1="202.6" x2="769.9" y2="202.6" stroke="#c4c4bc" stroke-width="0.9"/>
<line x1="760.9" y1="225.2" x2="769.9" y2="225.2" stroke="#c4c4bc" stroke-width="0.9"/>
<path d="M756.3,192.7 q-1.2,0 -1.2,1.5 v31.9 q0,1.5 1.2,1.5" fill="none" stroke="#b0b0b0" stroke-width="0.9"/>
<rect x="794.2" y="207.81" width="5.4" height="4.77" fill="#0000fa"/>
<rect x="785.2" y="207.81" width="5.4" height="4.77" fill="#0000fa"/>
<ellipse cx="778.9" cy="210.2" rx="2.7" ry="2.39" fill="#00c832"/>
<ellipse cx="769.9" cy="195.1" rx="2.7" ry="2.39" fill="#00c832"/>
<rect x="767.2" y="200.22" width="5.4" height="4.77" fill="#0000fa"/>
<ellipse cx="769.9" cy="217.8" rx="2.7" ry="2.39" fill="#00c832"/>
<rect x="767.2" y="222.81" width="5.4" height="4.77" fill="#0000fa"/>
<rect x="767.2" y="207.81" width="5.4" height="4.77" fill="#0000fa"/>
<polygon points="785.29,200.36 790.51,200.36 787.9,204.68" fill="#fa0000"/>
<ellipse cx="760.9" cy="202.6" rx="2.5" ry="2.19" fill="#ffff00" stroke="#c8c800" stroke-width="0.5"/>
<ellipse cx="760.9" cy="225.2" rx="2.5" ry="2.19" fill="#ffff00" stroke="#c8c800" stroke-width="0.5"/>
<polygon points="743.41,210.2 746.2,207.68 748.99,210.2 746.2,212.72" fill="#c800c8"/>
<line x1="863.9" y1="149.1" x2="869.89" y2="149.1" stroke="#d8d8d8" stroke-width="0.9"/>
<line x1="863.9" y1="149.1" x2="853" y2="149.1" stroke="#c4c4bc" stroke-width="0.9"/>
<line x1="853" y1="149.1" x2="842.1" y2="149.1" stroke="#c4c4bc" stroke-width="0.9"/>
<line x1="842.1" y1="149.1" x2="831.2" y2="139.8" stroke="#8c8c8c" stroke-width="0.9"/>
<line x1="842.1" y1="149.1" x2="831.2" y2="158.4" stroke="#8c8c8c" stroke-width="0.9"/>
<line x1="831.2" y1="139.8" x2="831.2" y2="149.1" stroke="#c4c4bc" stroke-width="0.9"/>
<line x1="831.2" y1="158.4" x2="831.2" y2="167.7" stroke="#c4c4bc" stroke-width="0.9"/>
<line x1="853" y1="139.3" x2="863.9" y2="149.1" stroke="#8c8c8c" stroke-width="0.9"/>
<line x1="820.3" y1="149.1" x2="831.2" y2="149.1" stroke="#c4c4bc" stroke-width="0.9"/>
<line x1="820.3" y1="167.7" x2="831.2" y2="167.7" stroke="#c4c4bc" stroke-width="0.9"/>
<line x1="809.4" y1="149.1" x2="820.3" y2="149.1" stroke="#c4c4bc" stroke-width="0.9"/>
<line x1="809.4" y1="167.7" x2="820.3" y2="167.7" stroke="#c4c4bc" stroke-width="0.9"/>
<rect x="860.63" y="146.21" width="6.54" height="5.78" fill="#0000fa"/>
<rect x="849.73" y="146.21" width="6.54" height="5.78" fill="#0000fa"/>
<ellipse cx="842.1" cy="149.1" rx="3.27" ry="2.89" fill="#00c832"/>
<ellipse cx="831.2" cy="139.8" rx="3.27" ry="2.89" fill="#00c832"/>
<rect x="827.93" y="146.21" width="6.54" height="5.78" fill="#0000fa"/>
<ellipse cx="831.2" cy="158.4" rx="3.27" ry="2.89" fill="#00c832"/>
<rect x="827.93" y="164.81" width="6.54" height="5.78" fill="#0000fa"/>
<polygon points="849.84,136.95 856.16,136.95 853,142.18" fill="#fa0000"/>
<ellipse cx="820.3" cy="149.1" rx="3.07" ry="2.69" fill="#ffff00" stroke="#c8c800" stroke-width="0.5"/>
<ellipse cx="820.3" cy="167.7" rx="3.07" ry="2.69" fill="#ffff00" stroke="#c8c800" stroke-width="0.5"/>
<polygon points="806.02,149.1 809.4,146.05 812.78,149.1 809.4,152.15" fill="#c800c8"/>
<polygon points="806.02,167.7 809.4,164.65 812.78,167.7 809.4,170.75" fill="#c800c8"/>
<line x1="924.7" y1="235.7" x2="930.15" y2="235.7" stroke="#d8d8d8" stroke-width="0.9"/>
<line x1="924.7" y1="235.7" x2="914.8" y2="235.7" stroke="#c4c4bc" stroke-width="0.9"/>
<line x1="914.8" y1="235.7" x2="904.9" y2="235.7" stroke="#c4c4bc" stroke-width="0.9"/>
<line x1="904.9" y1="235.7" x2="895" y2="219" stroke="#8c8c8c" stroke-width="0.9"/>
<line x1="904.9" y1="235.7" x2="895" y2="244.1" stroke="#8c8c8c" stroke-width="0.9"/>
<line x1="895" y1="219" x2="895" y2="227.3" stroke="#c4c4bc" stroke-width="0.9"/>
<line x1="895" y1="244.1" x2="895" y2="252.9" stroke="#c4c4bc" stroke-width="0.9"/>
<line x1="904.9" y1="235.7" x2="895" y2="235.7" stroke="#c4c4bc" stroke-width="0.9"/>
<line x1="914.8" y1="226.9" x2="924.7" y2="235.7" stroke="#8c8c8c" stroke-width="0.9"/>
<line x1="885.1" y1="227.3" x2="895" y2="227.3" stroke="#c4c4bc" stroke-width="0.9"/>
<line x1="885.1" y1="252.9" x2="895" y2="252.9" stroke="#c4c4bc" stroke-width="0.9"/>
<line x1="875.2" y1="227.3" x2="885.1" y2="227.3" stroke="#c4c4bc" stroke-width="0.9"/>
<line x1="875.2" y1="252.9" x2="885.1" y2="252.9" stroke="#c4c4bc" stroke-width="0.9"/>
<rect x="921.73" y="233.08" width="5.94" height="5.25" fill="#0000fa"/>
<rect x="911.83" y="233.08" width="5.94" height="5.25" fill="#0000fa"/>
<ellipse cx="904.9" cy="235.7" rx="2.97" ry="2.62" fill="#00c832"/>
<ellipse cx="895" cy="219" rx="2.97" ry="2.62" fill="#00c832"/>
<rect x="892.03" y="224.68" width="5.94" height="5.25" fill="#0000fa"/>
<ellipse cx="895" cy="244.1" rx="2.97" ry="2.62" fill="#00c832"/>
<rect x="892.03" y="250.28" width="5.94" height="5.25" fill="#0000fa"/>
<rect x="892.03" y="233.08" width="5.94" height="5.25" fill="#0000fa"/>
<polygon points="911.93,224.76 917.67,224.76 914.8,229.51" fill="#fa0000"/>
<ellipse cx="885.1" cy="227.3" rx="2.77" ry="2.42" fill="#ffff00" stroke="#c8c800" stroke-width="0.5"/>
<ellipse cx="885.1" cy="252.9" rx="2.77" ry="2.42" fill="#ffff00" stroke="#c8c800" stroke-width="0.5"/>
<polygon points="872.13,227.3 875.2,224.53 878.27,227.3 875.2,230.07" fill="#c800c8"/>
<polygon points="872.13,252.9 875.2,250.13 878.27,252.9 875.2,255.67" fill="#c800c8"/>
<text x="363" y="212.33" font-size="17.5" text-anchor="middle" font-weight="bold" fill="#000" textLength="12.8" lengthAdjust="spacingAndGlyphs">1</text>
<text x="406.3" y="100.53" font-size="17.5" text-anchor="middle" font-weight="bold" fill="#000" textLength="12.8" lengthAdjust="spacingAndGlyphs">2</text>
<text x="454" y="191.13" font-size="17.5" text-anchor="middle" font-weight="bold" fill="#000" textLength="12.8" lengthAdjust="spacingAndGlyphs">3</text>
<text x="490.4" y="38.13" font-size="17.5" text-anchor="middle" font-weight="bold" fill="#000" textLength="12.8" lengthAdjust="spacingAndGlyphs">4</text>
<text x="558.5" y="88.23" font-size="17.5" text-anchor="middle" font-weight="bold" fill="#000" textLength="12.8" lengthAdjust="spacingAndGlyphs">5</text>
<text x="568.9" y="163.33" font-size="17.5" text-anchor="middle" font-weight="bold" fill="#000" textLength="12.8" lengthAdjust="spacingAndGlyphs">6</text>
<text x="610.1" y="47.73" font-size="17.5" text-anchor="middle" font-weight="bold" fill="#000" textLength="12.8" lengthAdjust="spacingAndGlyphs">7</text>
<text x="674.5" y="114.63" font-size="17.5" text-anchor="middle" font-weight="bold" fill="#000" textLength="12.8" lengthAdjust="spacingAndGlyphs">8</text>
<text x="735.7" y="54.13" font-size="17.5" text-anchor="middle" font-weight="bold" fill="#000" textLength="12.8" lengthAdjust="spacingAndGlyphs">9</text>
<text x="775.6" y="184.93" font-size="17.5" text-anchor="middle" font-weight="bold" fill="#000" textLength="25.2" lengthAdjust="spacingAndGlyphs">10</text>
<text x="833.6" y="129.93" font-size="17.5" text-anchor="middle" font-weight="bold" fill="#000" textLength="25.2" lengthAdjust="spacingAndGlyphs">11</text>
<text x="904" y="209.53" font-size="17.5" text-anchor="middle" font-weight="bold" fill="#000" textLength="25.2" lengthAdjust="spacingAndGlyphs">12</text>
<text x="372.8" y="300.2" font-size="13.6" text-anchor="middle" font-weight="normal" fill="#2a2a2a" textLength="36.6" lengthAdjust="spacingAndGlyphs">12.49</text>
<text x="415.8" y="189.4" font-size="13.6" text-anchor="middle" font-weight="normal" fill="#2a2a2a" textLength="36.6" lengthAdjust="spacingAndGlyphs">13.53</text>
<text x="462.1" y="283.7" font-size="13.6" text-anchor="middle" font-weight="normal" fill="#2a2a2a" textLength="36.6" lengthAdjust="spacingAndGlyphs">14.62</text>
<text x="503.3" y="191.8" font-size="13.6" text-anchor="middle" font-weight="normal" fill="#2a2a2a" textLength="36.6" lengthAdjust="spacingAndGlyphs">15.92</text>
<text x="532" y="252.7" font-size="13.6" text-anchor="middle" font-weight="normal" fill="#2a2a2a" textLength="36.6" lengthAdjust="spacingAndGlyphs">16.34</text>
<text x="550.9" y="274" font-size="13.6" text-anchor="middle" font-weight="normal" fill="#2a2a2a" textLength="36.6" lengthAdjust="spacingAndGlyphs">16.72</text>
<text x="614.2" y="226" font-size="13.6" text-anchor="middle" font-weight="normal" fill="#2a2a2a" textLength="36.6" lengthAdjust="spacingAndGlyphs">18.61</text>
<text x="655" y="289.2" font-size="13.6" text-anchor="middle" font-weight="normal" fill="#2a2a2a" textLength="36.6" lengthAdjust="spacingAndGlyphs">19.55</text>
<text x="728.7" y="251.9" font-size="13.6" text-anchor="middle" font-weight="normal" fill="#2a2a2a" textLength="36.6" lengthAdjust="spacingAndGlyphs">21.54</text>
<text x="762.7" y="292.5" font-size="13.6" text-anchor="middle" font-weight="normal" fill="#2a2a2a" textLength="36.6" lengthAdjust="spacingAndGlyphs">22.19</text>
<text x="816" y="296.4" font-size="13.6" text-anchor="middle" font-weight="normal" fill="#2a2a2a" textLength="36.6" lengthAdjust="spacingAndGlyphs">24.12</text>
<text x="856.6" y="296.4" font-size="13.6" text-anchor="middle" font-weight="normal" fill="#2a2a2a" textLength="36.6" lengthAdjust="spacingAndGlyphs">24.48</text>
<line x1="373.7" y1="241.5" x2="373.7" y2="277.3" stroke="#1e1e1e" stroke-width="1.9" stroke-dasharray="8.2 2.9 1.6 3.6" stroke-dashoffset="0"/>
<polygon points="373.7,283.6 369.7,276.6 377.7,276.6" fill="#000"/>
<line x1="411.3" y1="133" x2="411.3" y2="168.7" stroke="#1e1e1e" stroke-width="1.9" stroke-dasharray="8.2 2.9 1.6 3.6" stroke-dashoffset="0"/>
<polygon points="411.3,175 407.3,168 415.3,168" fill="#000"/>
<line x1="455.9" y1="227" x2="455.9" y2="262.7" stroke="#1e1e1e" stroke-width="1.9" stroke-dasharray="8.2 2.9 1.6 3.6" stroke-dashoffset="0"/>
<polygon points="455.9,269 451.9,262 459.9,262" fill="#000"/>
<line x1="506.6" y1="73.5" x2="506.6" y2="168.5" stroke="#1e1e1e" stroke-width="1.9" stroke-dasharray="8.2 2.9 1.6 3.6" stroke-dashoffset="0"/>
<polygon points="506.6,174.8 502.6,167.8 510.6,167.8" fill="#000"/>
<line x1="530.2" y1="138.5" x2="524.41" y2="227.21" stroke="#1e1e1e" stroke-width="1.9" stroke-dasharray="8.2 2.9 1.6 3.6" stroke-dashoffset="0"/>
<polygon points="524,233.5 520.46,226.25 528.45,226.78" fill="#000"/>
<line x1="572.2" y1="208" x2="552.62" y2="254.98" stroke="#1e1e1e" stroke-width="1.9" stroke-dasharray="8.2 2.9 1.6 3.6" stroke-dashoffset="0"/>
<polygon points="550.2,260.8 549.2,252.8 556.58,255.88" fill="#000"/>
<line x1="609.8" y1="77.8" x2="609.61" y2="199.1" stroke="#1e1e1e" stroke-width="1.9" stroke-dasharray="8.2 2.9 1.6 3.6" stroke-dashoffset="0"/>
<polygon points="609.6,205.4 605.61,198.39 613.61,198.41" fill="#000"/>
<line x1="667.6" y1="155.5" x2="650.45" y2="268.37" stroke="#1e1e1e" stroke-width="1.9" stroke-dasharray="8.2 2.9 1.6 3.6" stroke-dashoffset="0"/>
<polygon points="649.5,274.6 646.6,267.08 654.51,268.28" fill="#000"/>
<line x1="726.2" y1="104" x2="726.1" y2="228" stroke="#1e1e1e" stroke-width="1.9" stroke-dasharray="8.2 2.9 1.6 3.6" stroke-dashoffset="0"/>
<polygon points="726.1,234.3 722.11,227.3 730.11,227.3" fill="#000"/>
<line x1="761.7" y1="237.1" x2="753.71" y2="271.76" stroke="#1e1e1e" stroke-width="1.9" stroke-dasharray="8.2 2.9 1.6 3.6" stroke-dashoffset="0"/>
<polygon points="752.3,277.9 749.97,270.18 757.77,271.98" fill="#000"/>
<line x1="826.8" y1="178.4" x2="826.8" y2="273.7" stroke="#1e1e1e" stroke-width="1.9" stroke-dasharray="8.2 2.9 1.6 3.6" stroke-dashoffset="0"/>
<polygon points="826.8,280 822.8,273 830.8,273" fill="#000"/>
<line x1="868.9" y1="239.1" x2="841.4" y2="239.1" stroke="#1e1e1e" stroke-width="1.9" stroke-dasharray="8.6 4.4"/>
<line x1="841.4" y1="239.1" x2="841.4" y2="273.3" stroke="#1e1e1e" stroke-width="1.9" stroke-dasharray="8.6 4.4" stroke-dashoffset="0"/>
<polygon points="841.4,279.6 837.4,272.6 845.4,272.6" fill="#000"/>
<text x="377.3" y="446.33" font-size="17.5" text-anchor="middle" font-weight="bold" fill="#000" textLength="12.5" lengthAdjust="spacingAndGlyphs">1</text>
<text x="415.3" y="351.03" font-size="17.5" text-anchor="middle" font-weight="bold" fill="#000" textLength="12.5" lengthAdjust="spacingAndGlyphs">2</text>
<text x="454.4" y="433.03" font-size="17.5" text-anchor="middle" font-weight="bold" fill="#000" textLength="12.5" lengthAdjust="spacingAndGlyphs">3</text>
<text x="501.4" y="346.33" font-size="17.5" text-anchor="middle" font-weight="bold" fill="#000" textLength="12.5" lengthAdjust="spacingAndGlyphs">4</text>
<text x="518.6" y="404.33" font-size="17.5" text-anchor="middle" font-weight="bold" fill="#000" textLength="12.5" lengthAdjust="spacingAndGlyphs">5</text>
<text x="534.6" y="428.43" font-size="17.5" text-anchor="middle" font-weight="bold" fill="#000" textLength="12.5" lengthAdjust="spacingAndGlyphs">6</text>
<text x="604.2" y="373.93" font-size="17.5" text-anchor="middle" font-weight="bold" fill="#000" textLength="12.5" lengthAdjust="spacingAndGlyphs">7</text>
<text x="640.5" y="441.13" font-size="17.5" text-anchor="middle" font-weight="bold" fill="#000" textLength="12.5" lengthAdjust="spacingAndGlyphs">8</text>
<text x="714.1" y="406.13" font-size="17.5" text-anchor="middle" font-weight="bold" fill="#000" textLength="12.5" lengthAdjust="spacingAndGlyphs">9</text>
<text x="742.3" y="441.63" font-size="17.5" text-anchor="middle" font-weight="bold" fill="#000" textLength="25" lengthAdjust="spacingAndGlyphs">10</text>
<text x="813.1" y="408.63" font-size="17.5" text-anchor="middle" font-weight="bold" fill="#000" textLength="25" lengthAdjust="spacingAndGlyphs">11</text>
<text x="846.9" y="413.23" font-size="17.5" text-anchor="middle" font-weight="bold" fill="#000" textLength="25" lengthAdjust="spacingAndGlyphs">12</text>
<text x="375.2" y="589.53" font-size="17.5" text-anchor="middle" font-weight="bold" fill="#000" textLength="12.5" lengthAdjust="spacingAndGlyphs">1</text>
<text x="413.3" y="503.73" font-size="17.5" text-anchor="middle" font-weight="bold" fill="#000" textLength="12.5" lengthAdjust="spacingAndGlyphs">2</text>
<text x="453.1" y="575.53" font-size="17.5" text-anchor="middle" font-weight="bold" fill="#000" textLength="12.5" lengthAdjust="spacingAndGlyphs">3</text>
<text x="499.1" y="497.43" font-size="17.5" text-anchor="middle" font-weight="bold" fill="#000" textLength="12.5" lengthAdjust="spacingAndGlyphs">4</text>
<text x="518.6" y="550.23" font-size="17.5" text-anchor="middle" font-weight="bold" fill="#000" textLength="12.5" lengthAdjust="spacingAndGlyphs">5</text>
<text x="533.9" y="571.03" font-size="17.5" text-anchor="middle" font-weight="bold" fill="#000" textLength="12.5" lengthAdjust="spacingAndGlyphs">6</text>
<text x="604.9" y="520.23" font-size="17.5" text-anchor="middle" font-weight="bold" fill="#000" textLength="12.5" lengthAdjust="spacingAndGlyphs">7</text>
<text x="640.5" y="577.33" font-size="17.5" text-anchor="middle" font-weight="bold" fill="#000" textLength="12.5" lengthAdjust="spacingAndGlyphs">8</text>
<text x="718.2" y="536.73" font-size="17.5" text-anchor="middle" font-weight="bold" fill="#000" textLength="12.5" lengthAdjust="spacingAndGlyphs">9</text>
<text x="741" y="579.33" font-size="17.5" text-anchor="middle" font-weight="bold" fill="#000" textLength="25" lengthAdjust="spacingAndGlyphs">10</text>
<text x="813.9" y="545.63" font-size="17.5" text-anchor="middle" font-weight="bold" fill="#000" textLength="25" lengthAdjust="spacingAndGlyphs">11</text>
<text x="851.4" y="552.73" font-size="17.5" text-anchor="middle" font-weight="bold" fill="#000" textLength="25" lengthAdjust="spacingAndGlyphs">12</text>
<line x1="813.8" y1="414.9" x2="813.8" y2="438.93" stroke="#1e1e1e" stroke-width="1.7" stroke-dasharray="8.2 2.9 1.6 3.6" stroke-dashoffset="0"/>
<polygon points="813.8,444.6 810.2,438.3 817.4,438.3" fill="#000"/>
<line x1="837.5" y1="418.7" x2="828.67" y2="440.06" stroke="#1e1e1e" stroke-width="1.7" stroke-dasharray="8.2 2.9 1.6 3.6" stroke-dashoffset="0"/>
<polygon points="826.5,445.3 825.58,438.1 832.23,440.85" fill="#000"/>
<line x1="815.4" y1="552.3" x2="815.4" y2="576.33" stroke="#1e1e1e" stroke-width="1.7" stroke-dasharray="8.2 2.9 1.6 3.6" stroke-dashoffset="0"/>
<polygon points="815.4,582 811.8,575.7 819,575.7" fill="#000"/>
<line x1="841.8" y1="557.4" x2="833.63" y2="578.71" stroke="#1e1e1e" stroke-width="1.7" stroke-dasharray="8.2 2.9 1.6 3.6" stroke-dashoffset="0"/>
<polygon points="831.6,584 830.49,576.83 837.22,579.41" fill="#000"/>
<line x1="591.4" y1="793.4" x2="599.21" y2="793.4" stroke="#d8d8d8" stroke-width="0.9"/>
<line x1="591.4" y1="793.4" x2="577.2" y2="793.4" stroke="#c4c4bc" stroke-width="0.9"/>
<line x1="577.2" y1="793.4" x2="563" y2="793.4" stroke="#c4c4bc" stroke-width="0.9"/>
<line x1="563" y1="793.4" x2="548.8" y2="780.9" stroke="#8c8c8c" stroke-width="0.9"/>
<line x1="563" y1="793.4" x2="548.8" y2="805.5" stroke="#8c8c8c" stroke-width="0.9"/>
<line x1="548.8" y1="780.9" x2="534.6" y2="780.9" stroke="#c4c4bc" stroke-width="0.9"/>
<line x1="534.6" y1="780.9" x2="520.4" y2="780.9" stroke="#c4c4bc" stroke-width="0.9"/>
<line x1="520.4" y1="780.9" x2="506.2" y2="780.9" stroke="#c4c4bc" stroke-width="0.9"/>
<line x1="548.8" y1="805.5" x2="534.6" y2="805.5" stroke="#c4c4bc" stroke-width="0.9"/>
<line x1="534.6" y1="805.5" x2="520.4" y2="805.5" stroke="#c4c4bc" stroke-width="0.9"/>
<line x1="520.4" y1="805.5" x2="506.2" y2="805.5" stroke="#c4c4bc" stroke-width="0.9"/>
<rect x="587.14" y="789.64" width="8.52" height="7.53" fill="#0000fa"/>
<rect x="572.94" y="789.64" width="8.52" height="7.53" fill="#0000fa"/>
<ellipse cx="563" cy="793.4" rx="4.26" ry="3.76" fill="#00c832"/>
<ellipse cx="548.8" cy="780.9" rx="4.26" ry="3.76" fill="#00c832"/>
<ellipse cx="548.8" cy="805.5" rx="4.26" ry="3.76" fill="#00c832"/>
<rect x="530.34" y="777.14" width="8.52" height="7.53" fill="#0000fa"/>
<ellipse cx="520.4" cy="780.9" rx="4.06" ry="3.56" fill="#ffff00" stroke="#c8c800" stroke-width="0.5"/>
<polygon points="501.8,780.9 506.2,776.92 510.6,780.9 506.2,784.88" fill="#c800c8"/>
<rect x="530.34" y="801.74" width="8.52" height="7.53" fill="#0000fa"/>
<ellipse cx="520.4" cy="805.5" rx="4.06" ry="3.56" fill="#ffff00" stroke="#c8c800" stroke-width="0.5"/>
<polygon points="501.8,805.5 506.2,801.52 510.6,805.5 506.2,809.48" fill="#c800c8"/>
<line x1="687.6" y1="725.9" x2="695.11" y2="725.9" stroke="#d8d8d8" stroke-width="0.9"/>
<line x1="687.6" y1="725.9" x2="673.95" y2="725.9" stroke="#c4c4bc" stroke-width="0.9"/>
<line x1="673.95" y1="725.9" x2="660.3" y2="725.9" stroke="#c4c4bc" stroke-width="0.9"/>
<line x1="660.3" y1="725.9" x2="646.65" y2="714.6" stroke="#8c8c8c" stroke-width="0.9"/>
<line x1="660.3" y1="725.9" x2="646.65" y2="737.7" stroke="#8c8c8c" stroke-width="0.9"/>
<line x1="646.65" y1="714.6" x2="633" y2="708.8" stroke="#8c8c8c" stroke-width="0.9"/>
<line x1="633" y1="708.8" x2="619.35" y2="708.8" stroke="#c4c4bc" stroke-width="0.9"/>
<line x1="619.35" y1="708.8" x2="605.7" y2="708.8" stroke="#c4c4bc" stroke-width="0.9"/>
<line x1="646.65" y1="714.6" x2="633" y2="719.8" stroke="#8c8c8c" stroke-width="0.9"/>
<line x1="633" y1="719.8" x2="619.35" y2="719.8" stroke="#c4c4bc" stroke-width="0.9"/>
<line x1="619.35" y1="719.8" x2="605.7" y2="719.8" stroke="#c4c4bc" stroke-width="0.9"/>
<line x1="646.65" y1="737.7" x2="633" y2="737.7" stroke="#c4c4bc" stroke-width="0.9"/>
<line x1="633" y1="737.7" x2="619.35" y2="737.7" stroke="#c4c4bc" stroke-width="0.9"/>
<line x1="619.35" y1="737.7" x2="605.7" y2="737.7" stroke="#c4c4bc" stroke-width="0.9"/>
<rect x="683.5" y="722.28" width="8.19" height="7.23" fill="#0000fa"/>
<rect x="669.86" y="722.28" width="8.19" height="7.23" fill="#0000fa"/>
<ellipse cx="660.3" cy="725.9" rx="4.09" ry="3.62" fill="#00c832"/>
<ellipse cx="646.65" cy="714.6" rx="4.09" ry="3.62" fill="#00c832"/>
<ellipse cx="646.65" cy="737.7" rx="4.09" ry="3.62" fill="#00c832"/>
<rect x="628.9" y="705.18" width="8.19" height="7.23" fill="#0000fa"/>
<ellipse cx="619.35" cy="708.8" rx="3.89" ry="3.42" fill="#ffff00" stroke="#c8c800" stroke-width="0.5"/>
<polygon points="601.47,708.8 605.7,704.98 609.93,708.8 605.7,712.62" fill="#c800c8"/>
<rect x="628.9" y="716.18" width="8.19" height="7.23" fill="#0000fa"/>
<ellipse cx="619.35" cy="719.8" rx="3.89" ry="3.42" fill="#ffff00" stroke="#c8c800" stroke-width="0.5"/>
<polygon points="601.47,719.8 605.7,715.98 609.93,719.8 605.7,723.62" fill="#c800c8"/>
<rect x="628.9" y="734.08" width="8.19" height="7.23" fill="#0000fa"/>
<ellipse cx="619.35" cy="737.7" rx="3.89" ry="3.42" fill="#ffff00" stroke="#c8c800" stroke-width="0.5"/>
<polygon points="601.47,737.7 605.7,733.88 609.93,737.7 605.7,741.52" fill="#c800c8"/>
<line x1="860.9" y1="740" x2="868.19" y2="740" stroke="#d8d8d8" stroke-width="0.9"/>
<line x1="761" y1="736.9" x2="774.4" y2="736.9" stroke="#d0d0d0" stroke-width="0.9"/>
<line x1="860.9" y1="740" x2="847.65" y2="740" stroke="#c4c4bc" stroke-width="0.9"/>
<line x1="847.65" y1="740" x2="834.4" y2="740" stroke="#c4c4bc" stroke-width="0.9"/>
<line x1="834.4" y1="740" x2="821.15" y2="728.5" stroke="#8c8c8c" stroke-width="0.9"/>
<line x1="834.4" y1="740" x2="821.15" y2="751.3" stroke="#8c8c8c" stroke-width="0.9"/>
<line x1="821.15" y1="728.5" x2="807.9" y2="723.2" stroke="#8c8c8c" stroke-width="0.9"/>
<line x1="807.9" y1="723.2" x2="794.65" y2="723.2" stroke="#c4c4bc" stroke-width="0.9"/>
<line x1="794.65" y1="723.2" x2="781.4" y2="723.2" stroke="#c4c4bc" stroke-width="0.9"/>
<line x1="821.15" y1="728.5" x2="807.9" y2="734.3" stroke="#8c8c8c" stroke-width="0.9"/>
<line x1="807.9" y1="734.3" x2="794.65" y2="734.3" stroke="#c4c4bc" stroke-width="0.9"/>
<line x1="794.65" y1="734.3" x2="781.4" y2="734.3" stroke="#c4c4bc" stroke-width="0.9"/>
<line x1="821.15" y1="751.3" x2="807.9" y2="751.3" stroke="#c4c4bc" stroke-width="0.9"/>
<line x1="807.9" y1="751.3" x2="794.65" y2="751.3" stroke="#c4c4bc" stroke-width="0.9"/>
<line x1="794.65" y1="751.3" x2="781.4" y2="751.3" stroke="#c4c4bc" stroke-width="0.9"/>
<path d="M775.6,719.8 q-1.2,0 -1.2,1.5 v31.6 q0,1.5 1.2,1.5" fill="none" stroke="#b0b0b0" stroke-width="0.9"/>
<rect x="856.92" y="736.49" width="7.95" height="7.02" fill="#0000fa"/>
<rect x="843.67" y="736.49" width="7.95" height="7.02" fill="#0000fa"/>
<ellipse cx="834.4" cy="740" rx="3.97" ry="3.51" fill="#00c832"/>
<ellipse cx="821.15" cy="728.5" rx="3.97" ry="3.51" fill="#00c832"/>
<ellipse cx="821.15" cy="751.3" rx="3.97" ry="3.51" fill="#00c832"/>
<rect x="803.92" y="719.69" width="7.95" height="7.02" fill="#0000fa"/>
<ellipse cx="794.65" cy="723.2" rx="3.77" ry="3.31" fill="#ffff00" stroke="#c8c800" stroke-width="0.5"/>
<polygon points="777.29,723.2 781.4,719.49 785.51,723.2 781.4,726.91" fill="#c800c8"/>
<rect x="803.92" y="730.79" width="7.95" height="7.02" fill="#0000fa"/>
<ellipse cx="794.65" cy="734.3" rx="3.77" ry="3.31" fill="#ffff00" stroke="#c8c800" stroke-width="0.5"/>
<polygon points="777.29,734.3 781.4,730.59 785.51,734.3 781.4,738.01" fill="#c800c8"/>
<rect x="803.92" y="747.79" width="7.95" height="7.02" fill="#0000fa"/>
<ellipse cx="794.65" cy="751.3" rx="3.77" ry="3.31" fill="#ffff00" stroke="#c8c800" stroke-width="0.5"/>
<polygon points="777.29,751.3 781.4,747.59 785.51,751.3 781.4,755.01" fill="#c800c8"/>
<polygon points="756.89,736.9 761,733.19 765.11,736.9 761,740.61" fill="#c800c8"/>
<line x1="852.3" y1="812.9" x2="859.89" y2="812.9" stroke="#d8d8d8" stroke-width="0.9"/>
<line x1="852.3" y1="812.9" x2="838.5" y2="812.9" stroke="#c4c4bc" stroke-width="0.9"/>
<line x1="838.5" y1="812.9" x2="824.7" y2="812.9" stroke="#c4c4bc" stroke-width="0.9"/>
<line x1="824.7" y1="812.9" x2="810.9" y2="801.1" stroke="#8c8c8c" stroke-width="0.9"/>
<line x1="824.7" y1="812.9" x2="810.9" y2="824.7" stroke="#8c8c8c" stroke-width="0.9"/>
<line x1="810.9" y1="801.1" x2="797.1" y2="795.9" stroke="#8c8c8c" stroke-width="0.9"/>
<line x1="797.1" y1="795.9" x2="783.3" y2="795.9" stroke="#c4c4bc" stroke-width="0.9"/>
<line x1="783.3" y1="795.9" x2="769.5" y2="795.9" stroke="#c4c4bc" stroke-width="0.9"/>
<line x1="810.9" y1="801.1" x2="797.1" y2="807.7" stroke="#8c8c8c" stroke-width="0.9"/>
<line x1="797.1" y1="807.7" x2="783.3" y2="807.7" stroke="#c4c4bc" stroke-width="0.9"/>
<line x1="783.3" y1="807.7" x2="769.5" y2="807.7" stroke="#c4c4bc" stroke-width="0.9"/>
<line x1="810.9" y1="824.7" x2="797.1" y2="824.7" stroke="#c4c4bc" stroke-width="0.9"/>
<line x1="797.1" y1="824.7" x2="783.3" y2="824.7" stroke="#c4c4bc" stroke-width="0.9"/>
<line x1="783.3" y1="824.7" x2="769.5" y2="824.7" stroke="#c4c4bc" stroke-width="0.9"/>
<rect x="848.16" y="809.24" width="8.28" height="7.31" fill="#0000fa"/>
<rect x="834.36" y="809.24" width="8.28" height="7.31" fill="#0000fa"/>
<ellipse cx="824.7" cy="812.9" rx="4.14" ry="3.66" fill="#00c832"/>
<ellipse cx="810.9" cy="801.1" rx="4.14" ry="3.66" fill="#00c832"/>
<ellipse cx="810.9" cy="824.7" rx="4.14" ry="3.66" fill="#00c832"/>
<rect x="792.96" y="792.24" width="8.28" height="7.31" fill="#0000fa"/>
<ellipse cx="783.3" cy="795.9" rx="3.94" ry="3.46" fill="#ffff00" stroke="#c8c800" stroke-width="0.5"/>
<polygon points="765.22,795.9 769.5,792.04 773.78,795.9 769.5,799.76" fill="#c800c8"/>
<rect x="792.96" y="804.04" width="8.28" height="7.31" fill="#0000fa"/>
<ellipse cx="783.3" cy="807.7" rx="3.94" ry="3.46" fill="#ffff00" stroke="#c8c800" stroke-width="0.5"/>
<polygon points="765.22,807.7 769.5,803.84 773.78,807.7 769.5,811.56" fill="#c800c8"/>
<rect x="792.96" y="821.04" width="8.28" height="7.31" fill="#0000fa"/>
<ellipse cx="783.3" cy="824.7" rx="3.94" ry="3.46" fill="#ffff00" stroke="#c8c800" stroke-width="0.5"/>
<polygon points="765.22,824.7 769.5,820.84 773.78,824.7 769.5,828.56" fill="#c800c8"/>
<line x1="886.9" y1="866.7" x2="894.27" y2="866.7" stroke="#d8d8d8" stroke-width="0.9"/>
<line x1="786.2" y1="864.1" x2="799.8" y2="864.1" stroke="#d0d0d0" stroke-width="0.9"/>
<line x1="886.9" y1="866.7" x2="873.5" y2="866.7" stroke="#c4c4bc" stroke-width="0.9"/>
<line x1="873.5" y1="866.7" x2="860.1" y2="866.7" stroke="#c4c4bc" stroke-width="0.9"/>
<line x1="860.1" y1="866.7" x2="846.7" y2="855.7" stroke="#8c8c8c" stroke-width="0.9"/>
<line x1="860.1" y1="866.7" x2="846.7" y2="878.5" stroke="#8c8c8c" stroke-width="0.9"/>
<line x1="846.7" y1="855.7" x2="833.3" y2="850.4" stroke="#8c8c8c" stroke-width="0.9"/>
<line x1="833.3" y1="850.4" x2="819.9" y2="850.4" stroke="#c4c4bc" stroke-width="0.9"/>
<line x1="819.9" y1="850.4" x2="806.5" y2="850.4" stroke="#c4c4bc" stroke-width="0.9"/>
<line x1="846.7" y1="855.7" x2="833.3" y2="861.5" stroke="#8c8c8c" stroke-width="0.9"/>
<line x1="833.3" y1="861.5" x2="819.9" y2="861.5" stroke="#c4c4bc" stroke-width="0.9"/>
<line x1="819.9" y1="861.5" x2="806.5" y2="861.5" stroke="#c4c4bc" stroke-width="0.9"/>
<line x1="846.7" y1="878.5" x2="833.3" y2="878.5" stroke="#c4c4bc" stroke-width="0.9"/>
<line x1="833.3" y1="878.5" x2="819.9" y2="878.5" stroke="#c4c4bc" stroke-width="0.9"/>
<line x1="819.9" y1="878.5" x2="806.5" y2="878.5" stroke="#c4c4bc" stroke-width="0.9"/>
<path d="M801,847.8 q-1.2,0 -1.2,1.5 v30.3 q0,1.5 1.2,1.5" fill="none" stroke="#b0b0b0" stroke-width="0.9"/>
<rect x="882.88" y="863.15" width="8.04" height="7.1" fill="#0000fa"/>
<rect x="869.48" y="863.15" width="8.04" height="7.1" fill="#0000fa"/>
<ellipse cx="860.1" cy="866.7" rx="4.02" ry="3.55" fill="#00c832"/>
<ellipse cx="846.7" cy="855.7" rx="4.02" ry="3.55" fill="#00c832"/>
<ellipse cx="846.7" cy="878.5" rx="4.02" ry="3.55" fill="#00c832"/>
<rect x="829.28" y="846.85" width="8.04" height="7.1" fill="#0000fa"/>
<ellipse cx="819.9" cy="850.4" rx="3.82" ry="3.35" fill="#ffff00" stroke="#c8c800" stroke-width="0.5"/>
<polygon points="802.35,850.4 806.5,846.65 810.65,850.4 806.5,854.15" fill="#c800c8"/>
<rect x="829.28" y="857.95" width="8.04" height="7.1" fill="#0000fa"/>
<ellipse cx="819.9" cy="861.5" rx="3.82" ry="3.35" fill="#ffff00" stroke="#c8c800" stroke-width="0.5"/>
<polygon points="802.35,861.5 806.5,857.75 810.65,861.5 806.5,865.25" fill="#c800c8"/>
<rect x="829.28" y="874.95" width="8.04" height="7.1" fill="#0000fa"/>
<ellipse cx="819.9" cy="878.5" rx="3.82" ry="3.35" fill="#ffff00" stroke="#c8c800" stroke-width="0.5"/>
<polygon points="802.35,878.5 806.5,874.75 810.65,878.5 806.5,882.25" fill="#c800c8"/>
<polygon points="782.05,864.1 786.2,860.35 790.35,864.1 786.2,867.85" fill="#c800c8"/>
<text x="553.1" y="767.05" font-size="18.5" text-anchor="middle" font-weight="bold" fill="#000" textLength="33.4" lengthAdjust="spacingAndGlyphs">1, 2</text>
<text x="646.1" y="698.25" font-size="18.5" text-anchor="middle" font-weight="bold" fill="#000" textLength="34.6" lengthAdjust="spacingAndGlyphs">3, 4</text>
<text x="789.8" y="710.63" font-size="17.5" text-anchor="middle" font-weight="bold" fill="#000" textLength="13" lengthAdjust="spacingAndGlyphs">5</text>
<text x="830.8" y="791.93" font-size="17.5" text-anchor="middle" font-weight="bold" fill="#000" textLength="13" lengthAdjust="spacingAndGlyphs">6</text>
<text x="849.1" y="843.13" font-size="17.5" text-anchor="middle" font-weight="bold" fill="#000" textLength="13" lengthAdjust="spacingAndGlyphs">7</text>
<text x="569.7" y="889.2" font-size="13.6" text-anchor="middle" font-weight="normal" fill="#2a2a2a" textLength="36.6" lengthAdjust="spacingAndGlyphs">22.89</text>
<text x="603.5" y="905.1" font-size="13.6" text-anchor="middle" font-weight="normal" fill="#2a2a2a" textLength="36.6" lengthAdjust="spacingAndGlyphs">23.91</text>
<text x="670.5" y="810.7" font-size="13.6" text-anchor="middle" font-weight="normal" fill="#2a2a2a" textLength="36.6" lengthAdjust="spacingAndGlyphs">26.60</text>
<text x="702" y="856.8" font-size="13.6" text-anchor="middle" font-weight="normal" fill="#2a2a2a" textLength="36.6" lengthAdjust="spacingAndGlyphs">27.45</text>
<text x="725.5" y="884.6" font-size="13.6" text-anchor="middle" font-weight="normal" fill="#2a2a2a" textLength="36.6" lengthAdjust="spacingAndGlyphs">27.94</text>
<text x="758" y="902" font-size="13.6" text-anchor="middle" font-weight="normal" fill="#2a2a2a" textLength="36.6" lengthAdjust="spacingAndGlyphs">28.72</text>
<line x1="571.9" y1="803" x2="571.9" y2="863" stroke="#262626" stroke-width="1.6" stroke-dasharray="8.2 2.9 1.6 3.6" stroke-dashoffset="0"/>
<polygon points="571.9,869.3 567.9,862.3 575.9,862.3" fill="#000"/>
<line x1="573.5" y1="803" x2="596.74" y2="878.18" stroke="#262626" stroke-width="1.6" stroke-dasharray="8.2 2.9 1.6 3.6" stroke-dashoffset="0"/>
<polygon points="598.6,884.2 592.71,878.69 600.35,876.33" fill="#000"/>
<line x1="677.9" y1="737" x2="677.9" y2="788.3" stroke="#262626" stroke-width="1.6" stroke-dasharray="8.2 2.9 1.6 3.6" stroke-dashoffset="0"/>
<polygon points="677.9,794.6 673.9,787.6 681.9,787.6" fill="#000"/>
<line x1="679.5" y1="737" x2="698.43" y2="836.91" stroke="#262626" stroke-width="1.6" stroke-dasharray="8.2 2.9 1.6 3.6" stroke-dashoffset="0"/>
<polygon points="699.6,843.1 694.37,836.97 702.23,835.48" fill="#000"/>
<line x1="750.5" y1="741.5" x2="721.6" y2="741.5" stroke="#555" stroke-width="1.5" stroke-dasharray="9.5 3.2 1.3 3.2"/>
<line x1="721.6" y1="741.5" x2="721.6" y2="864.3" stroke="#333" stroke-width="1.5" stroke-dasharray="9.5 3.2 1.3 3.2" stroke-dashoffset="10.2"/>
<polygon points="721.6,870.6 717.6,863.6 725.6,863.6" fill="#000"/>
<line x1="760" y1="817.3" x2="728.5" y2="817.3" stroke="#555" stroke-width="1.5" stroke-dasharray="9.5 3.2 1.3 3.2"/>
<line x1="728.5" y1="817.3" x2="728.5" y2="900.9" stroke="#333" stroke-width="1.5" stroke-dasharray="9.5 3.2 1.3 3.2" stroke-dashoffset="10.2"/>
<polygon points="728.5,907.2 724.5,900.2 732.5,900.2" fill="#000"/>
<line x1="778.8" y1="865.4" x2="764.5" y2="882.83" stroke="#262626" stroke-width="1.6" stroke-dasharray="8.2 2.9 1.6 3.6" stroke-dashoffset="0"/>
<polygon points="760.5,887.7 761.85,879.75 768.03,884.83" fill="#000"/>
<text x="570" y="1040.33" font-size="17.5" text-anchor="middle" font-weight="bold" fill="#000" textLength="12.5" lengthAdjust="spacingAndGlyphs">1</text>
<text x="600.7" y="1054.03" font-size="17.5" text-anchor="middle" font-weight="bold" fill="#000" textLength="12.5" lengthAdjust="spacingAndGlyphs">2</text>
<text x="676.9" y="967.13" font-size="17.5" text-anchor="middle" font-weight="bold" fill="#000" textLength="12.5" lengthAdjust="spacingAndGlyphs">3</text>
<text x="700.7" y="1007.83" font-size="17.5" text-anchor="middle" font-weight="bold" fill="#000" textLength="12.5" lengthAdjust="spacingAndGlyphs">4</text>
<text x="714.9" y="1041.33" font-size="17.5" text-anchor="middle" font-weight="bold" fill="#000" textLength="12.5" lengthAdjust="spacingAndGlyphs">5</text>
<text x="726.9" y="1061.13" font-size="17.5" text-anchor="middle" font-weight="bold" fill="#000" textLength="12.5" lengthAdjust="spacingAndGlyphs">6</text>
<text x="768.2" y="1039.13" font-size="17.5" text-anchor="middle" font-weight="bold" fill="#000" textLength="12.5" lengthAdjust="spacingAndGlyphs">7</text>
<text x="570.8" y="1186.33" font-size="17.5" text-anchor="middle" font-weight="bold" fill="#000" textLength="12.5" lengthAdjust="spacingAndGlyphs">1</text>
<text x="601.2" y="1199.73" font-size="17.5" text-anchor="middle" font-weight="bold" fill="#000" textLength="12.5" lengthAdjust="spacingAndGlyphs">2</text>
<text x="676.9" y="1115.33" font-size="17.5" text-anchor="middle" font-weight="bold" fill="#000" textLength="12.5" lengthAdjust="spacingAndGlyphs">3</text>
<text x="701" y="1155.33" font-size="17.5" text-anchor="middle" font-weight="bold" fill="#000" textLength="12.5" lengthAdjust="spacingAndGlyphs">4</text>
<text x="715.9" y="1187.03" font-size="17.5" text-anchor="middle" font-weight="bold" fill="#000" textLength="12.5" lengthAdjust="spacingAndGlyphs">5</text>
<text x="727.6" y="1206.83" font-size="17.5" text-anchor="middle" font-weight="bold" fill="#000" textLength="12.5" lengthAdjust="spacingAndGlyphs">6</text>
<text x="770" y="1184.53" font-size="17.5" text-anchor="middle" font-weight="bold" fill="#000" textLength="12.5" lengthAdjust="spacingAndGlyphs">7</text>
<line x1="758.6" y1="1037.4" x2="743.92" y2="1055.13" stroke="#1e1e1e" stroke-width="1.7" stroke-dasharray="8.2 2.9 1.6 3.6" stroke-dashoffset="0"/>
<polygon points="740.3,1059.5 741.55,1052.35 747.09,1056.94" fill="#000"/>
<line x1="758.6" y1="1183.6" x2="743.85" y2="1201.98" stroke="#1e1e1e" stroke-width="1.7" stroke-dasharray="8.2 2.9 1.6 3.6" stroke-dashoffset="0"/>
<polygon points="740.3,1206.4 741.44,1199.23 747.05,1203.74" fill="#000"/>
<rect x="1" y="1" width="1180" height="1287" fill="none" stroke="#000" stroke-width="2"/>
<rect x="81.6" y="0" width="2.2" height="1289" fill="#000"/>
<rect x="0" y="663.5" width="1182" height="2.1" fill="#000"/>
<text transform="translate(56.5,321.2) rotate(-90)" font-size="42" text-anchor="middle" fill="#000" textLength="102.5" lengthAdjust="spacingAndGlyphs">hsIgG</text>
<text transform="translate(57.1,976.2) rotate(-90)" font-size="43" text-anchor="middle" fill="#000" textLength="114.5" lengthAdjust="spacingAndGlyphs">Fetuin</text>
</svg>
</body></html>
